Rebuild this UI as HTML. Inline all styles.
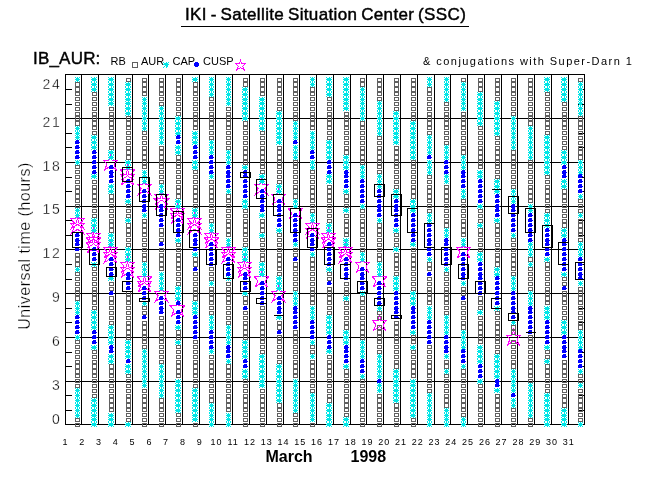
<!DOCTYPE html>
<html><head><meta charset="utf-8"><style>
html,body{margin:0;padding:0;background:#fff;width:650px;height:500px;overflow:hidden}
svg{display:block}
text{font-family:"Liberation Sans",sans-serif;fill:#000}
.hf{stroke:#fff;stroke-width:0.3px}
.yt{font-size:14px;letter-spacing:1.5px}
.xt{font-size:9px;letter-spacing:1px}
.lg{font-size:11px}
</style></head><body>
<svg width="650" height="500" viewBox="0 0 650 500" shape-rendering="crispEdges">
<rect width="650" height="500" fill="#fff"/>
<text x="185" y="20" style="font-size:17px;letter-spacing:0.36px;word-spacing:-1.3px;stroke:#000;stroke-width:0.45px">IKI - Satellite Situation Center (SSC)</text>
<path d="M181 26.5H469" stroke="#000"/>
<text x="33" y="63.8" style="font-size:17px;letter-spacing:0.2px;stroke:#000;stroke-width:0.4px">IB_AUR:</text>
<text x="110.5" y="64.5" class="lg">RB</text>
<text x="141" y="64.5" class="lg">AUR</text>
<text x="172.5" y="64.5" class="lg">CAP</text>
<text x="203" y="64.5" class="lg">CUSP</text>
<text x="423" y="65" class="lg" style="letter-spacing:1.45px">&amp; conjugations with Super-Darn 1</text>
<text class="hf" transform="translate(29.6,246) rotate(-90)" text-anchor="middle" style="font-size:16px;letter-spacing:0.5px">Universal time (hours)</text>
<text x="61.2" y="89.0" text-anchor="end" class="yt hf">24</text><text x="61.2" y="127.0" text-anchor="end" class="yt hf">21</text><text x="61.2" y="170.6" text-anchor="end" class="yt hf">18</text><text x="61.2" y="214.4" text-anchor="end" class="yt hf">15</text><text x="61.2" y="257.6" text-anchor="end" class="yt hf">12</text><text x="61.2" y="302.0" text-anchor="end" class="yt hf">9</text><text x="61.2" y="345.6" text-anchor="end" class="yt hf">6</text><text x="61.2" y="389.6" text-anchor="end" class="yt hf">3</text><text x="61.2" y="424.4" text-anchor="end" class="yt hf">0</text>
<text x="65.5" y="445" text-anchor="middle" class="xt">1</text><text x="82.3" y="445" text-anchor="middle" class="xt">2</text><text x="99.0" y="445" text-anchor="middle" class="xt">3</text><text x="115.8" y="445" text-anchor="middle" class="xt">4</text><text x="132.6" y="445" text-anchor="middle" class="xt">5</text><text x="149.4" y="445" text-anchor="middle" class="xt">6</text><text x="166.1" y="445" text-anchor="middle" class="xt">7</text><text x="182.9" y="445" text-anchor="middle" class="xt">8</text><text x="199.7" y="445" text-anchor="middle" class="xt">9</text><text x="216.5" y="445" text-anchor="middle" class="xt">10</text><text x="233.2" y="445" text-anchor="middle" class="xt">11</text><text x="250.0" y="445" text-anchor="middle" class="xt">12</text><text x="266.8" y="445" text-anchor="middle" class="xt">13</text><text x="283.6" y="445" text-anchor="middle" class="xt">14</text><text x="300.3" y="445" text-anchor="middle" class="xt">15</text><text x="317.1" y="445" text-anchor="middle" class="xt">16</text><text x="333.9" y="445" text-anchor="middle" class="xt">17</text><text x="350.7" y="445" text-anchor="middle" class="xt">18</text><text x="367.4" y="445" text-anchor="middle" class="xt">19</text><text x="384.2" y="445" text-anchor="middle" class="xt">20</text><text x="401.0" y="445" text-anchor="middle" class="xt">21</text><text x="417.8" y="445" text-anchor="middle" class="xt">22</text><text x="434.5" y="445" text-anchor="middle" class="xt">23</text><text x="451.3" y="445" text-anchor="middle" class="xt">24</text><text x="468.1" y="445" text-anchor="middle" class="xt">25</text><text x="484.9" y="445" text-anchor="middle" class="xt">26</text><text x="501.6" y="445" text-anchor="middle" class="xt">27</text><text x="518.4" y="445" text-anchor="middle" class="xt">28</text><text x="535.2" y="445" text-anchor="middle" class="xt">29</text><text x="552.0" y="445" text-anchor="middle" class="xt">30</text><text x="568.8" y="445" text-anchor="middle" class="xt">31</text>
<text x="265.5" y="461.7" style="font-size:16px;font-weight:bold">March</text>
<text x="350.5" y="461.7" style="font-size:16px;font-weight:bold">1998</text>
<path d="M81.5 74V425 M98.5 74V425 M115.5 74V425 M132.5 74V425 M148.5 74V425 M165.5 74V425 M182.5 74V425 M199.5 74V425 M215.5 74V425 M232.5 74V425 M249.5 74V425 M266.5 74V425 M283.5 74V425 M299.5 74V425 M316.5 74V425 M333.5 74V425 M350.5 74V425 M366.5 74V425 M383.5 74V425 M400.5 74V425 M417.5 74V425 M434.5 74V425 M450.5 74V425 M467.5 74V425 M484.5 74V425 M501.5 74V425 M517.5 74V425 M534.5 74V425 M551.5 74V425 M568.5 74V425 M65 381.5H585 M65 337.5H585 M65 293.5H585 M65 249.5H585 M65 206.5H585 M65 162.5H585 M65 118.5H585 M65 410.5h7 M585 410.5h-7 M65 395.5h7 M585 395.5h-7 M65 366.5h7 M585 366.5h-7 M65 352.5h7 M585 352.5h-7 M65 322.5h7 M585 322.5h-7 M65 308.5h7 M585 308.5h-7 M65 279.5h7 M585 279.5h-7 M65 264.5h7 M585 264.5h-7 M65 235.5h7 M585 235.5h-7 M65 220.5h7 M585 220.5h-7 M65 191.5h7 M585 191.5h-7 M65 177.5h7 M585 177.5h-7 M65 147.5h7 M585 147.5h-7 M65 133.5h7 M585 133.5h-7 M65 104.5h7 M585 104.5h-7 M65 89.5h7 M585 89.5h-7" stroke="#000" fill="none"/>
<rect x="65.5" y="74.5" width="519" height="350" fill="none" stroke="#000"/>
<path d="M77.50 213.43 L79.00 218.43 L84.50 218.43 L81.00 222.63 L83.50 228.43 L77.50 224.43 L71.50 228.43 L74.00 222.63 L70.50 218.43 L76.00 218.43Z M77.50 218.29 L79.00 223.29 L84.50 223.29 L81.00 227.49 L83.50 233.29 L77.50 229.29 L71.50 233.29 L74.00 227.49 L70.50 223.29 L76.00 223.29Z M93.50 228.02 L95.00 233.02 L100.50 233.02 L97.00 237.22 L99.50 243.02 L93.50 239.02 L87.50 243.02 L90.00 237.22 L86.50 233.02 L92.00 233.02Z M93.50 232.88 L95.00 237.88 L100.50 237.88 L97.00 242.08 L99.50 247.88 L93.50 243.88 L87.50 247.88 L90.00 242.08 L86.50 237.88 L92.00 237.88Z M93.50 237.74 L95.00 242.74 L100.50 242.74 L97.00 246.94 L99.50 252.74 L93.50 248.74 L87.50 252.74 L90.00 246.94 L86.50 242.74 L92.00 242.74Z M110.50 155.10 L112.00 160.10 L117.50 160.10 L114.00 164.30 L116.50 170.10 L110.50 166.10 L104.50 170.10 L107.00 164.30 L103.50 160.10 L109.00 160.10Z M110.50 242.60 L112.00 247.60 L117.50 247.60 L114.00 251.80 L116.50 257.60 L110.50 253.60 L104.50 257.60 L107.00 251.80 L103.50 247.60 L109.00 247.60Z M110.50 247.46 L112.00 252.46 L117.50 252.46 L114.00 256.66 L116.50 262.46 L110.50 258.46 L104.50 262.46 L107.00 256.66 L103.50 252.46 L109.00 252.46Z M127.50 164.82 L129.00 169.82 L134.50 169.82 L131.00 174.02 L133.50 179.82 L127.50 175.82 L121.50 179.82 L124.00 174.02 L120.50 169.82 L126.00 169.82Z M127.50 169.68 L129.00 174.68 L134.50 174.68 L131.00 178.88 L133.50 184.68 L127.50 180.68 L121.50 184.68 L124.00 178.88 L120.50 174.68 L126.00 174.68Z M127.50 257.18 L129.00 262.18 L134.50 262.18 L131.00 266.38 L133.50 272.18 L127.50 268.18 L121.50 272.18 L124.00 266.38 L120.50 262.18 L126.00 262.18Z M127.50 262.04 L129.00 267.04 L134.50 267.04 L131.00 271.24 L133.50 277.04 L127.50 273.04 L121.50 277.04 L124.00 271.24 L120.50 267.04 L126.00 267.04Z M144.50 179.41 L146.00 184.41 L151.50 184.41 L148.00 188.61 L150.50 194.41 L144.50 190.41 L138.50 194.41 L141.00 188.61 L137.50 184.41 L143.00 184.41Z M144.50 271.77 L146.00 276.77 L151.50 276.77 L148.00 280.97 L150.50 286.77 L144.50 282.77 L138.50 286.77 L141.00 280.97 L137.50 276.77 L143.00 276.77Z M144.50 276.63 L146.00 281.63 L151.50 281.63 L148.00 285.83 L150.50 291.63 L144.50 287.63 L138.50 291.63 L141.00 285.83 L137.50 281.63 L143.00 281.63Z M161.50 189.13 L163.00 194.13 L168.50 194.13 L165.00 198.33 L167.50 204.13 L161.50 200.13 L155.50 204.13 L158.00 198.33 L154.50 194.13 L160.00 194.13Z M161.50 193.99 L163.00 198.99 L168.50 198.99 L165.00 203.19 L167.50 208.99 L161.50 204.99 L155.50 208.99 L158.00 203.19 L154.50 198.99 L160.00 198.99Z M161.50 286.35 L163.00 291.35 L168.50 291.35 L165.00 295.55 L167.50 301.35 L161.50 297.35 L155.50 301.35 L158.00 295.55 L154.50 291.35 L160.00 291.35Z M177.50 203.71 L179.00 208.71 L184.50 208.71 L181.00 212.91 L183.50 218.71 L177.50 214.71 L171.50 218.71 L174.00 212.91 L170.50 208.71 L176.00 208.71Z M177.50 208.57 L179.00 213.57 L184.50 213.57 L181.00 217.77 L183.50 223.57 L177.50 219.57 L171.50 223.57 L174.00 217.77 L170.50 213.57 L176.00 213.57Z M177.50 300.93 L179.00 305.93 L184.50 305.93 L181.00 310.13 L183.50 315.93 L177.50 311.93 L171.50 315.93 L174.00 310.13 L170.50 305.93 L176.00 305.93Z M194.50 213.43 L196.00 218.43 L201.50 218.43 L198.00 222.63 L200.50 228.43 L194.50 224.43 L188.50 228.43 L191.00 222.63 L187.50 218.43 L193.00 218.43Z M194.50 218.29 L196.00 223.29 L201.50 223.29 L198.00 227.49 L200.50 233.29 L194.50 229.29 L188.50 233.29 L191.00 227.49 L187.50 223.29 L193.00 223.29Z M211.50 228.02 L213.00 233.02 L218.50 233.02 L215.00 237.22 L217.50 243.02 L211.50 239.02 L205.50 243.02 L208.00 237.22 L204.50 233.02 L210.00 233.02Z M211.50 232.88 L213.00 237.88 L218.50 237.88 L215.00 242.08 L217.50 247.88 L211.50 243.88 L205.50 247.88 L208.00 242.08 L204.50 237.88 L210.00 237.88Z M228.50 242.60 L230.00 247.60 L235.50 247.60 L232.00 251.80 L234.50 257.60 L228.50 253.60 L222.50 257.60 L225.00 251.80 L221.50 247.60 L227.00 247.60Z M228.50 247.46 L230.00 252.46 L235.50 252.46 L232.00 256.66 L234.50 262.46 L228.50 258.46 L222.50 262.46 L225.00 256.66 L221.50 252.46 L227.00 252.46Z M244.50 257.18 L246.00 262.18 L251.50 262.18 L248.00 266.38 L250.50 272.18 L244.50 268.18 L238.50 272.18 L241.00 266.38 L237.50 262.18 L243.00 262.18Z M244.50 262.04 L246.00 267.04 L251.50 267.04 L248.00 271.24 L250.50 277.04 L244.50 273.04 L238.50 277.04 L241.00 271.24 L237.50 267.04 L243.00 267.04Z M261.50 179.41 L263.00 184.41 L268.50 184.41 L265.00 188.61 L267.50 194.41 L261.50 190.41 L255.50 194.41 L258.00 188.61 L254.50 184.41 L260.00 184.41Z M261.50 271.77 L263.00 276.77 L268.50 276.77 L265.00 280.97 L267.50 286.77 L261.50 282.77 L255.50 286.77 L258.00 280.97 L254.50 276.77 L260.00 276.77Z M278.50 189.13 L280.00 194.13 L285.50 194.13 L282.00 198.33 L284.50 204.13 L278.50 200.13 L272.50 204.13 L275.00 198.33 L271.50 194.13 L277.00 194.13Z M278.50 286.35 L280.00 291.35 L285.50 291.35 L282.00 295.55 L284.50 301.35 L278.50 297.35 L272.50 301.35 L275.00 295.55 L271.50 291.35 L277.00 291.35Z M295.50 203.71 L297.00 208.71 L302.50 208.71 L299.00 212.91 L301.50 218.71 L295.50 214.71 L289.50 218.71 L292.00 212.91 L288.50 208.71 L294.00 208.71Z M312.50 218.29 L314.00 223.29 L319.50 223.29 L316.00 227.49 L318.50 233.29 L312.50 229.29 L306.50 233.29 L309.00 227.49 L305.50 223.29 L311.00 223.29Z M312.50 223.16 L314.00 228.16 L319.50 228.16 L316.00 232.36 L318.50 238.16 L312.50 234.16 L306.50 238.16 L309.00 232.36 L305.50 228.16 L311.00 228.16Z M328.50 228.02 L330.00 233.02 L335.50 233.02 L332.00 237.22 L334.50 243.02 L328.50 239.02 L322.50 243.02 L325.00 237.22 L321.50 233.02 L327.00 233.02Z M328.50 232.88 L330.00 237.88 L335.50 237.88 L332.00 242.08 L334.50 247.88 L328.50 243.88 L322.50 247.88 L325.00 242.08 L321.50 237.88 L327.00 237.88Z M345.50 242.60 L347.00 247.60 L352.50 247.60 L349.00 251.80 L351.50 257.60 L345.50 253.60 L339.50 257.60 L342.00 251.80 L338.50 247.60 L344.00 247.60Z M345.50 247.46 L347.00 252.46 L352.50 252.46 L349.00 256.66 L351.50 262.46 L345.50 258.46 L339.50 262.46 L342.00 256.66 L338.50 252.46 L344.00 252.46Z M362.50 257.18 L364.00 262.18 L369.50 262.18 L366.00 266.38 L368.50 272.18 L362.50 268.18 L356.50 272.18 L359.00 266.38 L355.50 262.18 L361.00 262.18Z M379.50 271.77 L381.00 276.77 L386.50 276.77 L383.00 280.97 L385.50 286.77 L379.50 282.77 L373.50 286.77 L376.00 280.97 L372.50 276.77 L378.00 276.77Z M379.50 315.52 L381.00 320.52 L386.50 320.52 L383.00 324.72 L385.50 330.52 L379.50 326.52 L373.50 330.52 L376.00 324.72 L372.50 320.52 L378.00 320.52Z M463.50 242.60 L465.00 247.60 L470.50 247.60 L467.00 251.80 L469.50 257.60 L463.50 253.60 L457.50 257.60 L460.00 251.80 L456.50 247.60 L462.00 247.60Z M513.50 330.10 L515.00 335.10 L520.50 335.10 L517.00 339.30 L519.50 345.10 L513.50 341.10 L507.50 345.10 L510.00 339.30 L506.50 335.10 L512.00 335.10Z" fill="none" stroke="#ff00ff" stroke-width="1" shape-rendering="crispEdges"/><path d="M75.5 423.5h4v3h-4zM75.5 418.5h4v3h-4zM75.5 384.5h4v3h-4zM75.5 379.5h4v3h-4zM75.5 374.5h4v3h-4zM75.5 369.5h4v4h-4zM75.5 364.5h4v4h-4zM75.5 360.5h4v3h-4zM75.5 355.5h4v3h-4zM75.5 350.5h4v3h-4zM75.5 345.5h4v3h-4zM75.5 340.5h4v3h-4zM75.5 296.5h4v4h-4zM75.5 291.5h4v4h-4zM75.5 287.5h4v3h-4zM75.5 282.5h4v3h-4zM75.5 277.5h4v3h-4zM75.5 272.5h4v3h-4zM75.5 262.5h4v4h-4zM75.5 257.5h4v4h-4zM75.5 253.5h4v3h-4zM75.5 204.5h4v3h-4zM75.5 199.5h4v3h-4zM75.5 194.5h4v4h-4zM75.5 189.5h4v4h-4zM75.5 185.5h4v3h-4zM75.5 180.5h4v3h-4zM75.5 175.5h4v3h-4zM75.5 170.5h4v3h-4zM75.5 165.5h4v3h-4zM75.5 121.5h4v4h-4zM75.5 116.5h4v4h-4zM75.5 112.5h4v3h-4zM75.5 107.5h4v3h-4zM75.5 102.5h4v3h-4zM75.5 97.5h4v3h-4zM75.5 92.5h4v3h-4zM75.5 87.5h4v4h-4zM75.5 82.5h4v4h-4zM92.5 394.5h4v3h-4zM92.5 389.5h4v3h-4zM92.5 384.5h4v3h-4zM92.5 379.5h4v3h-4zM92.5 374.5h4v3h-4zM92.5 369.5h4v4h-4zM92.5 364.5h4v4h-4zM92.5 360.5h4v3h-4zM92.5 355.5h4v3h-4zM92.5 350.5h4v3h-4zM92.5 306.5h4v3h-4zM92.5 301.5h4v3h-4zM92.5 296.5h4v4h-4zM92.5 291.5h4v4h-4zM92.5 287.5h4v3h-4zM92.5 282.5h4v3h-4zM92.5 277.5h4v3h-4zM92.5 272.5h4v3h-4zM92.5 267.5h4v3h-4zM92.5 214.5h4v3h-4zM92.5 209.5h4v3h-4zM92.5 204.5h4v3h-4zM92.5 199.5h4v3h-4zM92.5 194.5h4v4h-4zM92.5 189.5h4v4h-4zM92.5 185.5h4v3h-4zM92.5 180.5h4v3h-4zM92.5 131.5h4v3h-4zM92.5 126.5h4v3h-4zM92.5 121.5h4v4h-4zM92.5 116.5h4v4h-4zM92.5 112.5h4v3h-4zM92.5 107.5h4v3h-4zM92.5 102.5h4v3h-4zM92.5 97.5h4v3h-4zM92.5 92.5h4v3h-4zM109.5 408.5h4v3h-4zM109.5 403.5h4v4h-4zM109.5 398.5h4v4h-4zM109.5 394.5h4v3h-4zM109.5 389.5h4v3h-4zM109.5 384.5h4v3h-4zM109.5 379.5h4v3h-4zM109.5 374.5h4v3h-4zM109.5 369.5h4v4h-4zM109.5 364.5h4v4h-4zM109.5 321.5h4v3h-4zM109.5 316.5h4v3h-4zM109.5 311.5h4v3h-4zM109.5 306.5h4v3h-4zM109.5 301.5h4v3h-4zM109.5 296.5h4v4h-4zM109.5 287.5h4v3h-4zM109.5 282.5h4v3h-4zM109.5 228.5h4v4h-4zM109.5 223.5h4v4h-4zM109.5 219.5h4v3h-4zM109.5 214.5h4v3h-4zM109.5 209.5h4v3h-4zM109.5 204.5h4v3h-4zM109.5 199.5h4v3h-4zM109.5 194.5h4v4h-4zM109.5 146.5h4v3h-4zM109.5 141.5h4v3h-4zM109.5 136.5h4v3h-4zM109.5 131.5h4v3h-4zM109.5 126.5h4v3h-4zM109.5 121.5h4v4h-4zM109.5 116.5h4v4h-4zM109.5 112.5h4v3h-4zM109.5 107.5h4v3h-4zM126.5 418.5h4v3h-4zM126.5 413.5h4v3h-4zM126.5 408.5h4v3h-4zM126.5 403.5h4v4h-4zM126.5 398.5h4v4h-4zM126.5 394.5h4v3h-4zM126.5 389.5h4v3h-4zM126.5 384.5h4v3h-4zM126.5 379.5h4v3h-4zM126.5 374.5h4v3h-4zM126.5 335.5h4v4h-4zM126.5 330.5h4v4h-4zM126.5 325.5h4v4h-4zM126.5 321.5h4v3h-4zM126.5 316.5h4v3h-4zM126.5 311.5h4v3h-4zM126.5 306.5h4v3h-4zM126.5 301.5h4v3h-4zM126.5 296.5h4v4h-4zM126.5 291.5h4v4h-4zM126.5 243.5h4v3h-4zM126.5 238.5h4v3h-4zM126.5 233.5h4v3h-4zM126.5 228.5h4v4h-4zM126.5 223.5h4v4h-4zM126.5 214.5h4v3h-4zM126.5 209.5h4v3h-4zM126.5 204.5h4v3h-4zM126.5 155.5h4v4h-4zM126.5 150.5h4v4h-4zM126.5 146.5h4v3h-4zM126.5 141.5h4v3h-4zM126.5 136.5h4v3h-4zM126.5 131.5h4v3h-4zM126.5 126.5h4v3h-4zM126.5 121.5h4v4h-4zM126.5 116.5h4v4h-4zM126.5 78.5h4v3h-4zM142.5 423.5h4v3h-4zM142.5 418.5h4v3h-4zM142.5 413.5h4v3h-4zM142.5 408.5h4v3h-4zM142.5 403.5h4v4h-4zM142.5 398.5h4v4h-4zM142.5 394.5h4v3h-4zM142.5 389.5h4v3h-4zM142.5 345.5h4v3h-4zM142.5 340.5h4v3h-4zM142.5 335.5h4v4h-4zM142.5 330.5h4v4h-4zM142.5 325.5h4v4h-4zM142.5 321.5h4v3h-4zM142.5 311.5h4v3h-4zM142.5 306.5h4v3h-4zM142.5 257.5h4v4h-4zM142.5 253.5h4v3h-4zM142.5 248.5h4v3h-4zM142.5 243.5h4v3h-4zM142.5 238.5h4v3h-4zM142.5 233.5h4v3h-4zM142.5 228.5h4v4h-4zM142.5 223.5h4v4h-4zM142.5 219.5h4v3h-4zM142.5 165.5h4v3h-4zM142.5 160.5h4v4h-4zM142.5 155.5h4v4h-4zM142.5 150.5h4v4h-4zM142.5 146.5h4v3h-4zM142.5 141.5h4v3h-4zM142.5 136.5h4v3h-4zM142.5 131.5h4v3h-4zM142.5 92.5h4v3h-4zM142.5 87.5h4v4h-4zM142.5 82.5h4v4h-4zM142.5 78.5h4v3h-4zM159.5 423.5h4v3h-4zM159.5 418.5h4v3h-4zM159.5 413.5h4v3h-4zM159.5 408.5h4v3h-4zM159.5 403.5h4v4h-4zM159.5 398.5h4v4h-4zM159.5 360.5h4v3h-4zM159.5 355.5h4v3h-4zM159.5 350.5h4v3h-4zM159.5 345.5h4v3h-4zM159.5 340.5h4v3h-4zM159.5 335.5h4v4h-4zM159.5 330.5h4v4h-4zM159.5 325.5h4v4h-4zM159.5 321.5h4v3h-4zM159.5 316.5h4v3h-4zM159.5 267.5h4v3h-4zM159.5 262.5h4v4h-4zM159.5 257.5h4v4h-4zM159.5 253.5h4v3h-4zM159.5 248.5h4v3h-4zM159.5 238.5h4v3h-4zM159.5 233.5h4v3h-4zM159.5 228.5h4v4h-4zM159.5 180.5h4v3h-4zM159.5 175.5h4v3h-4zM159.5 170.5h4v3h-4zM159.5 165.5h4v3h-4zM159.5 160.5h4v4h-4zM159.5 155.5h4v4h-4zM159.5 150.5h4v4h-4zM159.5 146.5h4v3h-4zM159.5 102.5h4v3h-4zM159.5 97.5h4v3h-4zM159.5 92.5h4v3h-4zM159.5 87.5h4v4h-4zM159.5 82.5h4v4h-4zM159.5 78.5h4v3h-4zM176.5 423.5h4v3h-4zM176.5 418.5h4v3h-4zM176.5 413.5h4v3h-4zM176.5 374.5h4v3h-4zM176.5 369.5h4v4h-4zM176.5 364.5h4v4h-4zM176.5 360.5h4v3h-4zM176.5 355.5h4v3h-4zM176.5 350.5h4v3h-4zM176.5 345.5h4v3h-4zM176.5 335.5h4v4h-4zM176.5 330.5h4v4h-4zM176.5 282.5h4v3h-4zM176.5 277.5h4v3h-4zM176.5 272.5h4v3h-4zM176.5 267.5h4v3h-4zM176.5 262.5h4v4h-4zM176.5 257.5h4v4h-4zM176.5 253.5h4v3h-4zM176.5 248.5h4v3h-4zM176.5 243.5h4v3h-4zM176.5 194.5h4v4h-4zM176.5 189.5h4v4h-4zM176.5 185.5h4v3h-4zM176.5 180.5h4v3h-4zM176.5 175.5h4v3h-4zM176.5 170.5h4v3h-4zM176.5 165.5h4v3h-4zM176.5 160.5h4v4h-4zM176.5 155.5h4v4h-4zM176.5 112.5h4v3h-4zM176.5 107.5h4v3h-4zM176.5 102.5h4v3h-4zM176.5 97.5h4v3h-4zM176.5 92.5h4v3h-4zM176.5 87.5h4v4h-4zM176.5 82.5h4v4h-4zM176.5 78.5h4v3h-4zM193.5 423.5h4v3h-4zM193.5 384.5h4v3h-4zM193.5 379.5h4v3h-4zM193.5 374.5h4v3h-4zM193.5 369.5h4v4h-4zM193.5 364.5h4v4h-4zM193.5 360.5h4v3h-4zM193.5 355.5h4v3h-4zM193.5 350.5h4v3h-4zM193.5 345.5h4v3h-4zM193.5 340.5h4v3h-4zM193.5 296.5h4v4h-4zM193.5 291.5h4v4h-4zM193.5 287.5h4v3h-4zM193.5 282.5h4v3h-4zM193.5 277.5h4v3h-4zM193.5 272.5h4v3h-4zM193.5 262.5h4v4h-4zM193.5 257.5h4v4h-4zM193.5 204.5h4v3h-4zM193.5 199.5h4v3h-4zM193.5 194.5h4v4h-4zM193.5 189.5h4v4h-4zM193.5 185.5h4v3h-4zM193.5 180.5h4v3h-4zM193.5 175.5h4v3h-4zM193.5 170.5h4v3h-4zM193.5 126.5h4v3h-4zM193.5 121.5h4v4h-4zM193.5 116.5h4v4h-4zM193.5 112.5h4v3h-4zM193.5 107.5h4v3h-4zM193.5 102.5h4v3h-4zM193.5 97.5h4v3h-4zM193.5 92.5h4v3h-4zM193.5 87.5h4v4h-4zM193.5 82.5h4v4h-4zM209.5 398.5h4v4h-4zM209.5 394.5h4v3h-4zM209.5 389.5h4v3h-4zM209.5 384.5h4v3h-4zM209.5 379.5h4v3h-4zM209.5 374.5h4v3h-4zM209.5 369.5h4v4h-4zM209.5 364.5h4v4h-4zM209.5 360.5h4v3h-4zM209.5 355.5h4v3h-4zM209.5 311.5h4v3h-4zM209.5 306.5h4v3h-4zM209.5 301.5h4v3h-4zM209.5 296.5h4v4h-4zM209.5 291.5h4v4h-4zM209.5 287.5h4v3h-4zM209.5 277.5h4v3h-4zM209.5 272.5h4v3h-4zM209.5 267.5h4v3h-4zM209.5 219.5h4v3h-4zM209.5 214.5h4v3h-4zM209.5 209.5h4v3h-4zM209.5 204.5h4v3h-4zM209.5 199.5h4v3h-4zM209.5 194.5h4v4h-4zM209.5 189.5h4v4h-4zM209.5 185.5h4v3h-4zM209.5 180.5h4v3h-4zM209.5 136.5h4v3h-4zM209.5 131.5h4v3h-4zM209.5 126.5h4v3h-4zM209.5 121.5h4v4h-4zM209.5 116.5h4v4h-4zM209.5 112.5h4v3h-4zM209.5 107.5h4v3h-4zM209.5 102.5h4v3h-4zM209.5 97.5h4v3h-4zM226.5 408.5h4v3h-4zM226.5 403.5h4v4h-4zM226.5 398.5h4v4h-4zM226.5 394.5h4v3h-4zM226.5 389.5h4v3h-4zM226.5 384.5h4v3h-4zM226.5 379.5h4v3h-4zM226.5 374.5h4v3h-4zM226.5 369.5h4v4h-4zM226.5 364.5h4v4h-4zM226.5 321.5h4v3h-4zM226.5 316.5h4v3h-4zM226.5 311.5h4v3h-4zM226.5 306.5h4v3h-4zM226.5 301.5h4v3h-4zM226.5 296.5h4v4h-4zM226.5 291.5h4v4h-4zM226.5 287.5h4v3h-4zM226.5 282.5h4v3h-4zM226.5 233.5h4v3h-4zM226.5 228.5h4v4h-4zM226.5 223.5h4v4h-4zM226.5 219.5h4v3h-4zM226.5 214.5h4v3h-4zM226.5 209.5h4v3h-4zM226.5 204.5h4v3h-4zM226.5 199.5h4v3h-4zM226.5 194.5h4v4h-4zM226.5 146.5h4v3h-4zM226.5 141.5h4v3h-4zM226.5 136.5h4v3h-4zM226.5 131.5h4v3h-4zM226.5 126.5h4v3h-4zM226.5 121.5h4v4h-4zM226.5 116.5h4v4h-4zM226.5 112.5h4v3h-4zM226.5 107.5h4v3h-4zM243.5 423.5h4v3h-4zM243.5 418.5h4v3h-4zM243.5 413.5h4v3h-4zM243.5 408.5h4v3h-4zM243.5 403.5h4v4h-4zM243.5 398.5h4v4h-4zM243.5 394.5h4v3h-4zM243.5 389.5h4v3h-4zM243.5 384.5h4v3h-4zM243.5 379.5h4v3h-4zM243.5 335.5h4v4h-4zM243.5 330.5h4v4h-4zM243.5 325.5h4v4h-4zM243.5 321.5h4v3h-4zM243.5 316.5h4v3h-4zM243.5 311.5h4v3h-4zM243.5 301.5h4v3h-4zM243.5 296.5h4v4h-4zM243.5 243.5h4v3h-4zM243.5 238.5h4v3h-4zM243.5 233.5h4v3h-4zM243.5 228.5h4v4h-4zM243.5 223.5h4v4h-4zM243.5 219.5h4v3h-4zM243.5 214.5h4v3h-4zM243.5 209.5h4v3h-4zM243.5 160.5h4v4h-4zM243.5 155.5h4v4h-4zM243.5 150.5h4v4h-4zM243.5 146.5h4v3h-4zM243.5 141.5h4v3h-4zM243.5 136.5h4v3h-4zM243.5 131.5h4v3h-4zM243.5 126.5h4v3h-4zM243.5 121.5h4v4h-4zM243.5 82.5h4v4h-4zM243.5 78.5h4v3h-4zM260.5 423.5h4v3h-4zM260.5 418.5h4v3h-4zM260.5 413.5h4v3h-4zM260.5 408.5h4v3h-4zM260.5 403.5h4v4h-4zM260.5 398.5h4v4h-4zM260.5 394.5h4v3h-4zM260.5 389.5h4v3h-4zM260.5 350.5h4v3h-4zM260.5 345.5h4v3h-4zM260.5 340.5h4v3h-4zM260.5 335.5h4v4h-4zM260.5 330.5h4v4h-4zM260.5 325.5h4v4h-4zM260.5 321.5h4v3h-4zM260.5 316.5h4v3h-4zM260.5 311.5h4v3h-4zM260.5 306.5h4v3h-4zM260.5 257.5h4v4h-4zM260.5 253.5h4v3h-4zM260.5 248.5h4v3h-4zM260.5 243.5h4v3h-4zM260.5 238.5h4v3h-4zM260.5 228.5h4v4h-4zM260.5 223.5h4v4h-4zM260.5 219.5h4v3h-4zM260.5 170.5h4v3h-4zM260.5 165.5h4v3h-4zM260.5 160.5h4v4h-4zM260.5 155.5h4v4h-4zM260.5 150.5h4v4h-4zM260.5 146.5h4v3h-4zM260.5 141.5h4v3h-4zM260.5 136.5h4v3h-4zM260.5 131.5h4v3h-4zM260.5 92.5h4v3h-4zM260.5 87.5h4v4h-4zM260.5 82.5h4v4h-4zM260.5 78.5h4v3h-4zM277.5 423.5h4v3h-4zM277.5 418.5h4v3h-4zM277.5 413.5h4v3h-4zM277.5 408.5h4v3h-4zM277.5 403.5h4v4h-4zM277.5 360.5h4v3h-4zM277.5 355.5h4v3h-4zM277.5 350.5h4v3h-4zM277.5 345.5h4v3h-4zM277.5 340.5h4v3h-4zM277.5 335.5h4v4h-4zM277.5 325.5h4v4h-4zM277.5 321.5h4v3h-4zM277.5 272.5h4v3h-4zM277.5 267.5h4v3h-4zM277.5 262.5h4v4h-4zM277.5 257.5h4v4h-4zM277.5 253.5h4v3h-4zM277.5 248.5h4v3h-4zM277.5 243.5h4v3h-4zM277.5 238.5h4v3h-4zM277.5 233.5h4v3h-4zM277.5 180.5h4v3h-4zM277.5 175.5h4v3h-4zM277.5 170.5h4v3h-4zM277.5 165.5h4v3h-4zM277.5 160.5h4v4h-4zM277.5 155.5h4v4h-4zM277.5 150.5h4v4h-4zM277.5 146.5h4v3h-4zM277.5 107.5h4v3h-4zM277.5 102.5h4v3h-4zM277.5 97.5h4v3h-4zM277.5 92.5h4v3h-4zM277.5 87.5h4v4h-4zM277.5 82.5h4v4h-4zM277.5 78.5h4v3h-4zM293.5 423.5h4v3h-4zM293.5 418.5h4v3h-4zM293.5 413.5h4v3h-4zM293.5 374.5h4v3h-4zM293.5 369.5h4v4h-4zM293.5 364.5h4v4h-4zM293.5 360.5h4v3h-4zM293.5 355.5h4v3h-4zM293.5 350.5h4v3h-4zM293.5 345.5h4v3h-4zM293.5 340.5h4v3h-4zM293.5 335.5h4v4h-4zM293.5 330.5h4v4h-4zM293.5 287.5h4v3h-4zM293.5 282.5h4v3h-4zM293.5 277.5h4v3h-4zM293.5 272.5h4v3h-4zM293.5 267.5h4v3h-4zM293.5 262.5h4v4h-4zM293.5 253.5h4v3h-4zM293.5 248.5h4v3h-4zM293.5 194.5h4v4h-4zM293.5 189.5h4v4h-4zM293.5 185.5h4v3h-4zM293.5 180.5h4v3h-4zM293.5 175.5h4v3h-4zM293.5 170.5h4v3h-4zM293.5 165.5h4v3h-4zM293.5 160.5h4v4h-4zM293.5 116.5h4v4h-4zM293.5 112.5h4v3h-4zM293.5 107.5h4v3h-4zM293.5 102.5h4v3h-4zM293.5 97.5h4v3h-4zM293.5 92.5h4v3h-4zM293.5 87.5h4v4h-4zM293.5 82.5h4v4h-4zM293.5 78.5h4v3h-4zM310.5 423.5h4v3h-4zM310.5 389.5h4v3h-4zM310.5 384.5h4v3h-4zM310.5 379.5h4v3h-4zM310.5 374.5h4v3h-4zM310.5 369.5h4v4h-4zM310.5 364.5h4v4h-4zM310.5 360.5h4v3h-4zM310.5 350.5h4v3h-4zM310.5 345.5h4v3h-4zM310.5 301.5h4v3h-4zM310.5 296.5h4v4h-4zM310.5 291.5h4v4h-4zM310.5 287.5h4v3h-4zM310.5 282.5h4v3h-4zM310.5 277.5h4v3h-4zM310.5 272.5h4v3h-4zM310.5 267.5h4v3h-4zM310.5 262.5h4v4h-4zM310.5 257.5h4v4h-4zM310.5 209.5h4v3h-4zM310.5 204.5h4v3h-4zM310.5 199.5h4v3h-4zM310.5 194.5h4v4h-4zM310.5 189.5h4v4h-4zM310.5 185.5h4v3h-4zM310.5 180.5h4v3h-4zM310.5 175.5h4v3h-4zM310.5 170.5h4v3h-4zM310.5 126.5h4v3h-4zM310.5 121.5h4v4h-4zM310.5 116.5h4v4h-4zM310.5 112.5h4v3h-4zM310.5 107.5h4v3h-4zM310.5 102.5h4v3h-4zM310.5 97.5h4v3h-4zM310.5 92.5h4v3h-4zM310.5 87.5h4v4h-4zM327.5 398.5h4v4h-4zM327.5 394.5h4v3h-4zM327.5 389.5h4v3h-4zM327.5 384.5h4v3h-4zM327.5 379.5h4v3h-4zM327.5 374.5h4v3h-4zM327.5 369.5h4v4h-4zM327.5 364.5h4v4h-4zM327.5 360.5h4v3h-4zM327.5 355.5h4v3h-4zM327.5 311.5h4v3h-4zM327.5 306.5h4v3h-4zM327.5 301.5h4v3h-4zM327.5 296.5h4v4h-4zM327.5 291.5h4v4h-4zM327.5 287.5h4v3h-4zM327.5 277.5h4v3h-4zM327.5 272.5h4v3h-4zM327.5 219.5h4v3h-4zM327.5 214.5h4v3h-4zM327.5 209.5h4v3h-4zM327.5 204.5h4v3h-4zM327.5 199.5h4v3h-4zM327.5 194.5h4v4h-4zM327.5 189.5h4v4h-4zM327.5 185.5h4v3h-4zM327.5 136.5h4v3h-4zM327.5 131.5h4v3h-4zM327.5 126.5h4v3h-4zM327.5 121.5h4v4h-4zM327.5 116.5h4v4h-4zM327.5 112.5h4v3h-4zM327.5 107.5h4v3h-4zM327.5 102.5h4v3h-4zM327.5 97.5h4v3h-4zM344.5 413.5h4v3h-4zM344.5 408.5h4v3h-4zM344.5 403.5h4v4h-4zM344.5 398.5h4v4h-4zM344.5 394.5h4v3h-4zM344.5 389.5h4v3h-4zM344.5 384.5h4v3h-4zM344.5 379.5h4v3h-4zM344.5 374.5h4v3h-4zM344.5 369.5h4v4h-4zM344.5 325.5h4v4h-4zM344.5 321.5h4v3h-4zM344.5 316.5h4v3h-4zM344.5 311.5h4v3h-4zM344.5 306.5h4v3h-4zM344.5 301.5h4v3h-4zM344.5 291.5h4v4h-4zM344.5 287.5h4v3h-4zM344.5 282.5h4v3h-4zM344.5 233.5h4v3h-4zM344.5 228.5h4v4h-4zM344.5 223.5h4v4h-4zM344.5 219.5h4v3h-4zM344.5 214.5h4v3h-4zM344.5 204.5h4v3h-4zM344.5 199.5h4v3h-4zM344.5 194.5h4v4h-4zM344.5 150.5h4v4h-4zM344.5 146.5h4v3h-4zM344.5 141.5h4v3h-4zM344.5 136.5h4v3h-4zM344.5 131.5h4v3h-4zM344.5 126.5h4v3h-4zM344.5 121.5h4v4h-4zM344.5 116.5h4v4h-4zM344.5 112.5h4v3h-4zM360.5 423.5h4v3h-4zM360.5 418.5h4v3h-4zM360.5 413.5h4v3h-4zM360.5 408.5h4v3h-4zM360.5 403.5h4v4h-4zM360.5 398.5h4v4h-4zM360.5 394.5h4v3h-4zM360.5 389.5h4v3h-4zM360.5 384.5h4v3h-4zM360.5 379.5h4v3h-4zM360.5 335.5h4v4h-4zM360.5 330.5h4v4h-4zM360.5 325.5h4v4h-4zM360.5 321.5h4v3h-4zM360.5 316.5h4v3h-4zM360.5 311.5h4v3h-4zM360.5 306.5h4v3h-4zM360.5 301.5h4v3h-4zM360.5 296.5h4v4h-4zM360.5 248.5h4v3h-4zM360.5 243.5h4v3h-4zM360.5 238.5h4v3h-4zM360.5 233.5h4v3h-4zM360.5 228.5h4v4h-4zM360.5 223.5h4v4h-4zM360.5 219.5h4v3h-4zM360.5 214.5h4v3h-4zM360.5 209.5h4v3h-4zM360.5 160.5h4v4h-4zM360.5 155.5h4v4h-4zM360.5 150.5h4v4h-4zM360.5 146.5h4v3h-4zM360.5 141.5h4v3h-4zM360.5 136.5h4v3h-4zM360.5 131.5h4v3h-4zM360.5 126.5h4v3h-4zM360.5 121.5h4v4h-4zM360.5 82.5h4v4h-4zM360.5 78.5h4v3h-4zM377.5 423.5h4v3h-4zM377.5 418.5h4v3h-4zM377.5 413.5h4v3h-4zM377.5 408.5h4v3h-4zM377.5 403.5h4v4h-4zM377.5 398.5h4v4h-4zM377.5 394.5h4v3h-4zM377.5 350.5h4v3h-4zM377.5 345.5h4v3h-4zM377.5 340.5h4v3h-4zM377.5 335.5h4v4h-4zM377.5 330.5h4v4h-4zM377.5 325.5h4v4h-4zM377.5 316.5h4v3h-4zM377.5 311.5h4v3h-4zM377.5 257.5h4v4h-4zM377.5 253.5h4v3h-4zM377.5 248.5h4v3h-4zM377.5 243.5h4v3h-4zM377.5 238.5h4v3h-4zM377.5 233.5h4v3h-4zM377.5 228.5h4v4h-4zM377.5 223.5h4v4h-4zM377.5 170.5h4v3h-4zM377.5 165.5h4v3h-4zM377.5 160.5h4v4h-4zM377.5 155.5h4v4h-4zM377.5 150.5h4v4h-4zM377.5 146.5h4v3h-4zM377.5 141.5h4v3h-4zM377.5 136.5h4v3h-4zM377.5 97.5h4v3h-4zM377.5 92.5h4v3h-4zM377.5 87.5h4v4h-4zM377.5 82.5h4v4h-4zM377.5 78.5h4v3h-4zM394.5 423.5h4v3h-4zM394.5 418.5h4v3h-4zM394.5 413.5h4v3h-4zM394.5 408.5h4v3h-4zM394.5 403.5h4v4h-4zM394.5 364.5h4v4h-4zM394.5 360.5h4v3h-4zM394.5 355.5h4v3h-4zM394.5 350.5h4v3h-4zM394.5 345.5h4v3h-4zM394.5 340.5h4v3h-4zM394.5 335.5h4v4h-4zM394.5 330.5h4v4h-4zM394.5 325.5h4v4h-4zM394.5 321.5h4v3h-4zM394.5 272.5h4v3h-4zM394.5 267.5h4v3h-4zM394.5 262.5h4v4h-4zM394.5 257.5h4v4h-4zM394.5 253.5h4v3h-4zM394.5 243.5h4v3h-4zM394.5 238.5h4v3h-4zM394.5 233.5h4v3h-4zM394.5 185.5h4v3h-4zM394.5 180.5h4v3h-4zM394.5 175.5h4v3h-4zM394.5 170.5h4v3h-4zM394.5 165.5h4v3h-4zM394.5 160.5h4v4h-4zM394.5 155.5h4v4h-4zM394.5 150.5h4v4h-4zM394.5 146.5h4v3h-4zM394.5 107.5h4v3h-4zM394.5 102.5h4v3h-4zM394.5 97.5h4v3h-4zM394.5 92.5h4v3h-4zM394.5 87.5h4v4h-4zM394.5 82.5h4v4h-4zM394.5 78.5h4v3h-4zM411.5 423.5h4v3h-4zM411.5 418.5h4v3h-4zM411.5 374.5h4v3h-4zM411.5 369.5h4v4h-4zM411.5 364.5h4v4h-4zM411.5 360.5h4v3h-4zM411.5 355.5h4v3h-4zM411.5 350.5h4v3h-4zM411.5 340.5h4v3h-4zM411.5 335.5h4v4h-4zM411.5 287.5h4v3h-4zM411.5 282.5h4v3h-4zM411.5 277.5h4v3h-4zM411.5 272.5h4v3h-4zM411.5 267.5h4v3h-4zM411.5 262.5h4v4h-4zM411.5 257.5h4v4h-4zM411.5 253.5h4v3h-4zM411.5 248.5h4v3h-4zM411.5 194.5h4v4h-4zM411.5 189.5h4v4h-4zM411.5 185.5h4v3h-4zM411.5 180.5h4v3h-4zM411.5 175.5h4v3h-4zM411.5 170.5h4v3h-4zM411.5 165.5h4v3h-4zM411.5 160.5h4v4h-4zM411.5 116.5h4v4h-4zM411.5 112.5h4v3h-4zM411.5 107.5h4v3h-4zM411.5 102.5h4v3h-4zM411.5 97.5h4v3h-4zM411.5 92.5h4v3h-4zM411.5 87.5h4v4h-4zM411.5 82.5h4v4h-4zM411.5 78.5h4v3h-4zM427.5 389.5h4v3h-4zM427.5 384.5h4v3h-4zM427.5 379.5h4v3h-4zM427.5 374.5h4v3h-4zM427.5 369.5h4v4h-4zM427.5 364.5h4v4h-4zM427.5 360.5h4v3h-4zM427.5 355.5h4v3h-4zM427.5 350.5h4v3h-4zM427.5 345.5h4v3h-4zM427.5 301.5h4v3h-4zM427.5 296.5h4v4h-4zM427.5 291.5h4v4h-4zM427.5 287.5h4v3h-4zM427.5 282.5h4v3h-4zM427.5 277.5h4v3h-4zM427.5 267.5h4v3h-4zM427.5 262.5h4v4h-4zM427.5 209.5h4v3h-4zM427.5 204.5h4v3h-4zM427.5 199.5h4v3h-4zM427.5 194.5h4v4h-4zM427.5 189.5h4v4h-4zM427.5 185.5h4v3h-4zM427.5 180.5h4v3h-4zM427.5 175.5h4v3h-4zM427.5 131.5h4v3h-4zM427.5 126.5h4v3h-4zM427.5 121.5h4v4h-4zM427.5 116.5h4v4h-4zM427.5 112.5h4v3h-4zM427.5 107.5h4v3h-4zM427.5 102.5h4v3h-4zM427.5 97.5h4v3h-4zM427.5 92.5h4v3h-4zM427.5 87.5h4v4h-4zM444.5 403.5h4v4h-4zM444.5 398.5h4v4h-4zM444.5 394.5h4v3h-4zM444.5 389.5h4v3h-4zM444.5 384.5h4v3h-4zM444.5 379.5h4v3h-4zM444.5 374.5h4v3h-4zM444.5 364.5h4v4h-4zM444.5 360.5h4v3h-4zM444.5 311.5h4v3h-4zM444.5 306.5h4v3h-4zM444.5 301.5h4v3h-4zM444.5 296.5h4v4h-4zM444.5 291.5h4v4h-4zM444.5 287.5h4v3h-4zM444.5 282.5h4v3h-4zM444.5 277.5h4v3h-4zM444.5 272.5h4v3h-4zM444.5 223.5h4v4h-4zM444.5 219.5h4v3h-4zM444.5 214.5h4v3h-4zM444.5 209.5h4v3h-4zM444.5 204.5h4v3h-4zM444.5 199.5h4v3h-4zM444.5 194.5h4v4h-4zM444.5 189.5h4v4h-4zM444.5 185.5h4v3h-4zM444.5 141.5h4v3h-4zM444.5 136.5h4v3h-4zM444.5 131.5h4v3h-4zM444.5 126.5h4v3h-4zM444.5 121.5h4v4h-4zM444.5 116.5h4v4h-4zM444.5 112.5h4v3h-4zM444.5 107.5h4v3h-4zM444.5 102.5h4v3h-4zM461.5 413.5h4v3h-4zM461.5 408.5h4v3h-4zM461.5 403.5h4v4h-4zM461.5 398.5h4v4h-4zM461.5 394.5h4v3h-4zM461.5 389.5h4v3h-4zM461.5 384.5h4v3h-4zM461.5 379.5h4v3h-4zM461.5 374.5h4v3h-4zM461.5 369.5h4v4h-4zM461.5 325.5h4v4h-4zM461.5 321.5h4v3h-4zM461.5 316.5h4v3h-4zM461.5 311.5h4v3h-4zM461.5 306.5h4v3h-4zM461.5 301.5h4v3h-4zM461.5 291.5h4v4h-4zM461.5 287.5h4v3h-4zM461.5 233.5h4v3h-4zM461.5 228.5h4v4h-4zM461.5 223.5h4v4h-4zM461.5 219.5h4v3h-4zM461.5 214.5h4v3h-4zM461.5 209.5h4v3h-4zM461.5 204.5h4v3h-4zM461.5 199.5h4v3h-4zM461.5 150.5h4v4h-4zM461.5 146.5h4v3h-4zM461.5 141.5h4v3h-4zM461.5 136.5h4v3h-4zM461.5 131.5h4v3h-4zM461.5 126.5h4v3h-4zM461.5 121.5h4v4h-4zM461.5 116.5h4v4h-4zM461.5 112.5h4v3h-4zM461.5 78.5h4v3h-4zM478.5 423.5h4v3h-4zM478.5 418.5h4v3h-4zM478.5 413.5h4v3h-4zM478.5 408.5h4v3h-4zM478.5 403.5h4v4h-4zM478.5 398.5h4v4h-4zM478.5 394.5h4v3h-4zM478.5 389.5h4v3h-4zM478.5 384.5h4v3h-4zM478.5 340.5h4v3h-4zM478.5 335.5h4v4h-4zM478.5 330.5h4v4h-4zM478.5 325.5h4v4h-4zM478.5 321.5h4v3h-4zM478.5 316.5h4v3h-4zM478.5 306.5h4v3h-4zM478.5 301.5h4v3h-4zM478.5 296.5h4v4h-4zM478.5 248.5h4v3h-4zM478.5 243.5h4v3h-4zM478.5 238.5h4v3h-4zM478.5 233.5h4v3h-4zM478.5 228.5h4v4h-4zM478.5 219.5h4v3h-4zM478.5 214.5h4v3h-4zM478.5 209.5h4v3h-4zM478.5 165.5h4v3h-4zM478.5 160.5h4v4h-4zM478.5 155.5h4v4h-4zM478.5 150.5h4v4h-4zM478.5 146.5h4v3h-4zM478.5 141.5h4v3h-4zM478.5 136.5h4v3h-4zM478.5 131.5h4v3h-4zM478.5 126.5h4v3h-4zM478.5 87.5h4v4h-4zM478.5 82.5h4v4h-4zM478.5 78.5h4v3h-4zM495.5 423.5h4v3h-4zM495.5 418.5h4v3h-4zM495.5 413.5h4v3h-4zM495.5 408.5h4v3h-4zM495.5 403.5h4v4h-4zM495.5 398.5h4v4h-4zM495.5 394.5h4v3h-4zM495.5 350.5h4v3h-4zM495.5 345.5h4v3h-4zM495.5 340.5h4v3h-4zM495.5 335.5h4v4h-4zM495.5 330.5h4v4h-4zM495.5 325.5h4v4h-4zM495.5 321.5h4v3h-4zM495.5 316.5h4v3h-4zM495.5 311.5h4v3h-4zM495.5 262.5h4v4h-4zM495.5 257.5h4v4h-4zM495.5 253.5h4v3h-4zM495.5 248.5h4v3h-4zM495.5 243.5h4v3h-4zM495.5 238.5h4v3h-4zM495.5 233.5h4v3h-4zM495.5 228.5h4v4h-4zM495.5 223.5h4v4h-4zM495.5 175.5h4v3h-4zM495.5 170.5h4v3h-4zM495.5 165.5h4v3h-4zM495.5 160.5h4v4h-4zM495.5 155.5h4v4h-4zM495.5 150.5h4v4h-4zM495.5 146.5h4v3h-4zM495.5 141.5h4v3h-4zM495.5 136.5h4v3h-4zM495.5 97.5h4v3h-4zM495.5 92.5h4v3h-4zM495.5 87.5h4v4h-4zM495.5 82.5h4v4h-4zM495.5 78.5h4v3h-4zM511.5 423.5h4v3h-4zM511.5 418.5h4v3h-4zM511.5 413.5h4v3h-4zM511.5 408.5h4v3h-4zM511.5 364.5h4v4h-4zM511.5 360.5h4v3h-4zM511.5 355.5h4v3h-4zM511.5 350.5h4v3h-4zM511.5 345.5h4v3h-4zM511.5 340.5h4v3h-4zM511.5 330.5h4v4h-4zM511.5 325.5h4v4h-4zM511.5 272.5h4v3h-4zM511.5 267.5h4v3h-4zM511.5 262.5h4v4h-4zM511.5 257.5h4v4h-4zM511.5 253.5h4v3h-4zM511.5 248.5h4v3h-4zM511.5 243.5h4v3h-4zM511.5 238.5h4v3h-4zM511.5 185.5h4v3h-4zM511.5 180.5h4v3h-4zM511.5 175.5h4v3h-4zM511.5 170.5h4v3h-4zM511.5 165.5h4v3h-4zM511.5 160.5h4v4h-4zM511.5 155.5h4v4h-4zM511.5 150.5h4v4h-4zM511.5 112.5h4v3h-4zM511.5 107.5h4v3h-4zM511.5 102.5h4v3h-4zM511.5 97.5h4v3h-4zM511.5 92.5h4v3h-4zM511.5 87.5h4v4h-4zM511.5 82.5h4v4h-4zM511.5 78.5h4v3h-4zM528.5 423.5h4v3h-4zM528.5 418.5h4v3h-4zM528.5 379.5h4v3h-4zM528.5 374.5h4v3h-4zM528.5 369.5h4v4h-4zM528.5 364.5h4v4h-4zM528.5 360.5h4v3h-4zM528.5 355.5h4v3h-4zM528.5 350.5h4v3h-4zM528.5 345.5h4v3h-4zM528.5 340.5h4v3h-4zM528.5 335.5h4v4h-4zM528.5 287.5h4v3h-4zM528.5 282.5h4v3h-4zM528.5 277.5h4v3h-4zM528.5 272.5h4v3h-4zM528.5 267.5h4v3h-4zM528.5 257.5h4v4h-4zM528.5 199.5h4v3h-4zM528.5 194.5h4v4h-4zM528.5 189.5h4v4h-4zM528.5 185.5h4v3h-4zM528.5 180.5h4v3h-4zM528.5 175.5h4v3h-4zM528.5 170.5h4v3h-4zM528.5 165.5h4v3h-4zM528.5 160.5h4v4h-4zM528.5 121.5h4v4h-4zM528.5 116.5h4v4h-4zM528.5 112.5h4v3h-4zM528.5 107.5h4v3h-4zM528.5 102.5h4v3h-4zM528.5 97.5h4v3h-4zM528.5 92.5h4v3h-4zM528.5 87.5h4v4h-4zM528.5 82.5h4v4h-4zM528.5 78.5h4v3h-4zM545.5 389.5h4v3h-4zM545.5 384.5h4v3h-4zM545.5 379.5h4v3h-4zM545.5 374.5h4v3h-4zM545.5 369.5h4v4h-4zM545.5 364.5h4v4h-4zM545.5 355.5h4v3h-4zM545.5 350.5h4v3h-4zM545.5 301.5h4v3h-4zM545.5 296.5h4v4h-4zM545.5 291.5h4v4h-4zM545.5 287.5h4v3h-4zM545.5 282.5h4v3h-4zM545.5 277.5h4v3h-4zM545.5 272.5h4v3h-4zM545.5 267.5h4v3h-4zM545.5 262.5h4v4h-4zM545.5 209.5h4v3h-4zM545.5 204.5h4v3h-4zM545.5 199.5h4v3h-4zM545.5 194.5h4v4h-4zM545.5 189.5h4v4h-4zM545.5 185.5h4v3h-4zM545.5 180.5h4v3h-4zM545.5 175.5h4v3h-4zM545.5 131.5h4v3h-4zM545.5 126.5h4v3h-4zM545.5 121.5h4v4h-4zM545.5 116.5h4v4h-4zM545.5 112.5h4v3h-4zM545.5 107.5h4v3h-4zM545.5 102.5h4v3h-4zM545.5 97.5h4v3h-4zM545.5 92.5h4v3h-4zM562.5 403.5h4v4h-4zM562.5 398.5h4v4h-4zM562.5 394.5h4v3h-4zM562.5 389.5h4v3h-4zM562.5 384.5h4v3h-4zM562.5 379.5h4v3h-4zM562.5 374.5h4v3h-4zM562.5 369.5h4v4h-4zM562.5 364.5h4v4h-4zM562.5 360.5h4v3h-4zM562.5 316.5h4v3h-4zM562.5 311.5h4v3h-4zM562.5 306.5h4v3h-4zM562.5 301.5h4v3h-4zM562.5 296.5h4v4h-4zM562.5 291.5h4v4h-4zM562.5 282.5h4v3h-4zM562.5 277.5h4v3h-4zM562.5 223.5h4v4h-4zM562.5 219.5h4v3h-4zM562.5 214.5h4v3h-4zM562.5 209.5h4v3h-4zM562.5 204.5h4v3h-4zM562.5 199.5h4v3h-4zM562.5 194.5h4v4h-4zM562.5 189.5h4v4h-4zM562.5 146.5h4v3h-4zM562.5 141.5h4v3h-4zM562.5 136.5h4v3h-4zM562.5 131.5h4v3h-4zM562.5 126.5h4v3h-4zM562.5 121.5h4v4h-4zM562.5 116.5h4v4h-4zM562.5 112.5h4v3h-4zM562.5 107.5h4v3h-4zM562.5 102.5h4v3h-4zM578.5 418.5h4v3h-4zM578.5 413.5h4v3h-4zM578.5 408.5h4v3h-4zM578.5 403.5h4v4h-4zM578.5 398.5h4v4h-4zM578.5 394.5h4v3h-4zM578.5 389.5h4v3h-4zM578.5 379.5h4v3h-4zM578.5 374.5h4v3h-4zM578.5 325.5h4v4h-4zM578.5 321.5h4v3h-4zM578.5 316.5h4v3h-4zM578.5 311.5h4v3h-4zM578.5 306.5h4v3h-4zM578.5 301.5h4v3h-4zM578.5 296.5h4v4h-4zM578.5 291.5h4v4h-4zM578.5 287.5h4v3h-4zM578.5 238.5h4v3h-4zM578.5 233.5h4v3h-4zM578.5 228.5h4v4h-4zM578.5 223.5h4v4h-4zM578.5 219.5h4v3h-4zM578.5 209.5h4v3h-4zM578.5 204.5h4v3h-4zM578.5 199.5h4v3h-4zM578.5 155.5h4v4h-4zM578.5 150.5h4v4h-4zM578.5 146.5h4v3h-4zM578.5 141.5h4v3h-4zM578.5 136.5h4v3h-4zM578.5 131.5h4v3h-4zM578.5 126.5h4v3h-4zM578.5 121.5h4v4h-4zM578.5 116.5h4v4h-4zM578.5 78.5h4v3h-4z" fill="none" stroke="#606060"/><path d="M75 413h1v1h-1zm2 0h1v1h-1zm2 0h1v1h-1zm-3 1h3v1h-3zm-1 1h5v1h-5zm1 1h3v1h-3zm-1 1h1v1h-1zm2 0h1v1h-1zm2 0h1v1h-1zM75 408h1v1h-1zm2 0h1v1h-1zm2 0h1v1h-1zm-3 1h3v1h-3zm-1 1h5v1h-5zm1 1h3v1h-3zm-1 1h1v1h-1zm2 0h1v1h-1zm2 0h1v1h-1zM75 403h1v1h-1zm2 0h1v1h-1zm2 0h1v1h-1zm-3 1h3v1h-3zm-1 1h5v1h-5zm1 1h3v1h-3zm-1 1h1v1h-1zm2 0h1v1h-1zm2 0h1v1h-1zM75 398h1v1h-1zm2 0h1v1h-1zm2 0h1v1h-1zm-3 1h3v1h-3zm-1 1h5v1h-5zm1 1h3v1h-3zm-1 1h1v1h-1zm2 0h1v1h-1zm2 0h1v1h-1zM75 393h1v1h-1zm2 0h1v1h-1zm2 0h1v1h-1zm-3 1h3v1h-3zm-1 1h5v1h-5zm1 1h3v1h-3zm-1 1h1v1h-1zm2 0h1v1h-1zm2 0h1v1h-1zM75 388h1v1h-1zm2 0h1v1h-1zm2 0h1v1h-1zm-3 1h3v1h-3zm-1 1h5v1h-5zm1 1h3v1h-3zm-1 1h1v1h-1zm2 0h1v1h-1zm2 0h1v1h-1zM75 335h1v1h-1zm2 0h1v1h-1zm2 0h1v1h-1zm-3 1h3v1h-3zm-1 1h5v1h-5zm1 1h3v1h-3zm-1 1h1v1h-1zm2 0h1v1h-1zm2 0h1v1h-1zM75 310h1v1h-1zm2 0h1v1h-1zm2 0h1v1h-1zm-3 1h3v1h-3zm-1 1h5v1h-5zm1 1h3v1h-3zm-1 1h1v1h-1zm2 0h1v1h-1zm2 0h1v1h-1zM75 306h1v1h-1zm2 0h1v1h-1zm2 0h1v1h-1zm-3 1h3v1h-3zm-1 1h5v1h-5zm1 1h3v1h-3zm-1 1h1v1h-1zm2 0h1v1h-1zm2 0h1v1h-1zM75 301h1v1h-1zm2 0h1v1h-1zm2 0h1v1h-1zm-3 1h3v1h-3zm-1 1h5v1h-5zm1 1h3v1h-3zm-1 1h1v1h-1zm2 0h1v1h-1zm2 0h1v1h-1zM75 267h1v1h-1zm2 0h1v1h-1zm2 0h1v1h-1zm-3 1h3v1h-3zm-1 1h5v1h-5zm1 1h3v1h-3zm-1 1h1v1h-1zm2 0h1v1h-1zm2 0h1v1h-1zM75 213h1v1h-1zm2 0h1v1h-1zm2 0h1v1h-1zm-3 1h3v1h-3zm-1 1h5v1h-5zm1 1h3v1h-3zm-1 1h1v1h-1zm2 0h1v1h-1zm2 0h1v1h-1zM75 208h1v1h-1zm2 0h1v1h-1zm2 0h1v1h-1zm-3 1h3v1h-3zm-1 1h5v1h-5zm1 1h3v1h-3zm-1 1h1v1h-1zm2 0h1v1h-1zm2 0h1v1h-1zM75 160h1v1h-1zm2 0h1v1h-1zm2 0h1v1h-1zm-3 1h3v1h-3zm-1 1h5v1h-5zm1 1h3v1h-3zm-1 1h1v1h-1zm2 0h1v1h-1zm2 0h1v1h-1zM75 135h1v1h-1zm2 0h1v1h-1zm2 0h1v1h-1zm-3 1h3v1h-3zm-1 1h5v1h-5zm1 1h3v1h-3zm-1 1h1v1h-1zm2 0h1v1h-1zm2 0h1v1h-1zM75 131h1v1h-1zm2 0h1v1h-1zm2 0h1v1h-1zm-3 1h3v1h-3zm-1 1h5v1h-5zm1 1h3v1h-3zm-1 1h1v1h-1zm2 0h1v1h-1zm2 0h1v1h-1zM75 126h1v1h-1zm2 0h1v1h-1zm2 0h1v1h-1zm-3 1h3v1h-3zm-1 1h5v1h-5zm1 1h3v1h-3zm-1 1h1v1h-1zm2 0h1v1h-1zm2 0h1v1h-1zM75 77h1v1h-1zm2 0h1v1h-1zm2 0h1v1h-1zm-3 1h3v1h-3zm-1 1h5v1h-5zm1 1h3v1h-3zm-1 1h1v1h-1zm2 0h1v1h-1zm2 0h1v1h-1zM91 422h1v1h-1zm3 0h1v1h-1zm2 0h1v1h-1zm-4 1h4v1h-4zm-1 1h6v1h-6zm1 1h4v1h-4zm-1 1h1v1h-1zm3 0h1v1h-1zm2 0h1v1h-1zM91 417h1v1h-1zm3 0h1v1h-1zm2 0h1v1h-1zm-4 1h4v1h-4zm-1 1h6v1h-6zm1 1h4v1h-4zm-1 1h1v1h-1zm3 0h1v1h-1zm2 0h1v1h-1zM91 413h1v1h-1zm3 0h1v1h-1zm2 0h1v1h-1zm-4 1h4v1h-4zm-1 1h6v1h-6zm1 1h4v1h-4zm-1 1h1v1h-1zm3 0h1v1h-1zm2 0h1v1h-1zM91 408h1v1h-1zm3 0h1v1h-1zm2 0h1v1h-1zm-4 1h4v1h-4zm-1 1h6v1h-6zm1 1h4v1h-4zm-1 1h1v1h-1zm3 0h1v1h-1zm2 0h1v1h-1zM91 403h1v1h-1zm3 0h1v1h-1zm2 0h1v1h-1zm-4 1h4v1h-4zm-1 1h6v1h-6zm1 1h4v1h-4zm-1 1h1v1h-1zm3 0h1v1h-1zm2 0h1v1h-1zM91 398h1v1h-1zm3 0h1v1h-1zm2 0h1v1h-1zm-4 1h4v1h-4zm-1 1h6v1h-6zm1 1h4v1h-4zm-1 1h1v1h-1zm3 0h1v1h-1zm2 0h1v1h-1zM91 345h1v1h-1zm3 0h1v1h-1zm2 0h1v1h-1zm-4 1h4v1h-4zm-1 1h6v1h-6zm1 1h4v1h-4zm-1 1h1v1h-1zm3 0h1v1h-1zm2 0h1v1h-1zM91 325h1v1h-1zm3 0h1v1h-1zm2 0h1v1h-1zm-4 1h4v1h-4zm-1 1h6v1h-6zm1 1h4v1h-4zm-1 1h1v1h-1zm3 0h1v1h-1zm2 0h1v1h-1zM91 320h1v1h-1zm3 0h1v1h-1zm2 0h1v1h-1zm-4 1h4v1h-4zm-1 1h6v1h-6zm1 1h4v1h-4zm-1 1h1v1h-1zm3 0h1v1h-1zm2 0h1v1h-1zM91 315h1v1h-1zm3 0h1v1h-1zm2 0h1v1h-1zm-4 1h4v1h-4zm-1 1h6v1h-6zm1 1h4v1h-4zm-1 1h1v1h-1zm3 0h1v1h-1zm2 0h1v1h-1zM91 310h1v1h-1zm3 0h1v1h-1zm2 0h1v1h-1zm-4 1h4v1h-4zm-1 1h6v1h-6zm1 1h4v1h-4zm-1 1h1v1h-1zm3 0h1v1h-1zm2 0h1v1h-1zM91 262h1v1h-1zm3 0h1v1h-1zm2 0h1v1h-1zm-4 1h4v1h-4zm-1 1h6v1h-6zm1 1h4v1h-4zm-1 1h1v1h-1zm3 0h1v1h-1zm2 0h1v1h-1zM91 228h1v1h-1zm3 0h1v1h-1zm2 0h1v1h-1zm-4 1h4v1h-4zm-1 1h6v1h-6zm1 1h4v1h-4zm-1 1h1v1h-1zm3 0h1v1h-1zm2 0h1v1h-1zM91 223h1v1h-1zm3 0h1v1h-1zm2 0h1v1h-1zm-4 1h4v1h-4zm-1 1h6v1h-6zm1 1h4v1h-4zm-1 1h1v1h-1zm3 0h1v1h-1zm2 0h1v1h-1zM91 218h1v1h-1zm3 0h1v1h-1zm2 0h1v1h-1zm-4 1h4v1h-4zm-1 1h6v1h-6zm1 1h4v1h-4zm-1 1h1v1h-1zm3 0h1v1h-1zm2 0h1v1h-1zM91 174h1v1h-1zm3 0h1v1h-1zm2 0h1v1h-1zm-4 1h4v1h-4zm-1 1h6v1h-6zm1 1h4v1h-4zm-1 1h1v1h-1zm3 0h1v1h-1zm2 0h1v1h-1zM91 145h1v1h-1zm3 0h1v1h-1zm2 0h1v1h-1zm-4 1h4v1h-4zm-1 1h6v1h-6zm1 1h4v1h-4zm-1 1h1v1h-1zm3 0h1v1h-1zm2 0h1v1h-1zM91 140h1v1h-1zm3 0h1v1h-1zm2 0h1v1h-1zm-4 1h4v1h-4zm-1 1h6v1h-6zm1 1h4v1h-4zm-1 1h1v1h-1zm3 0h1v1h-1zm2 0h1v1h-1zM91 135h1v1h-1zm3 0h1v1h-1zm2 0h1v1h-1zm-4 1h4v1h-4zm-1 1h6v1h-6zm1 1h4v1h-4zm-1 1h1v1h-1zm3 0h1v1h-1zm2 0h1v1h-1zM91 87h1v1h-1zm3 0h1v1h-1zm2 0h1v1h-1zm-4 1h4v1h-4zm-1 1h6v1h-6zm1 1h4v1h-4zm-1 1h1v1h-1zm3 0h1v1h-1zm2 0h1v1h-1zM91 82h1v1h-1zm3 0h1v1h-1zm2 0h1v1h-1zm-4 1h4v1h-4zm-1 1h6v1h-6zm1 1h4v1h-4zm-1 1h1v1h-1zm3 0h1v1h-1zm2 0h1v1h-1zM91 77h1v1h-1zm3 0h1v1h-1zm2 0h1v1h-1zm-4 1h4v1h-4zm-1 1h6v1h-6zm1 1h4v1h-4zm-1 1h1v1h-1zm3 0h1v1h-1zm2 0h1v1h-1zM108 422h1v1h-1zm3 0h1v1h-1zm2 0h1v1h-1zm-4 1h4v1h-4zm-1 1h6v1h-6zm1 1h4v1h-4zm-1 1h1v1h-1zm3 0h1v1h-1zm2 0h1v1h-1zM108 417h1v1h-1zm3 0h1v1h-1zm2 0h1v1h-1zm-4 1h4v1h-4zm-1 1h6v1h-6zm1 1h4v1h-4zm-1 1h1v1h-1zm3 0h1v1h-1zm2 0h1v1h-1zM108 413h1v1h-1zm3 0h1v1h-1zm2 0h1v1h-1zm-4 1h4v1h-4zm-1 1h6v1h-6zm1 1h4v1h-4zm-1 1h1v1h-1zm3 0h1v1h-1zm2 0h1v1h-1zM108 359h1v1h-1zm3 0h1v1h-1zm2 0h1v1h-1zm-4 1h4v1h-4zm-1 1h6v1h-6zm1 1h4v1h-4zm-1 1h1v1h-1zm3 0h1v1h-1zm2 0h1v1h-1zM108 354h1v1h-1zm3 0h1v1h-1zm2 0h1v1h-1zm-4 1h4v1h-4zm-1 1h6v1h-6zm1 1h4v1h-4zm-1 1h1v1h-1zm3 0h1v1h-1zm2 0h1v1h-1zM108 340h1v1h-1zm3 0h1v1h-1zm2 0h1v1h-1zm-4 1h4v1h-4zm-1 1h6v1h-6zm1 1h4v1h-4zm-1 1h1v1h-1zm3 0h1v1h-1zm2 0h1v1h-1zM108 335h1v1h-1zm3 0h1v1h-1zm2 0h1v1h-1zm-4 1h4v1h-4zm-1 1h6v1h-6zm1 1h4v1h-4zm-1 1h1v1h-1zm3 0h1v1h-1zm2 0h1v1h-1zM108 330h1v1h-1zm3 0h1v1h-1zm2 0h1v1h-1zm-4 1h4v1h-4zm-1 1h6v1h-6zm1 1h4v1h-4zm-1 1h1v1h-1zm3 0h1v1h-1zm2 0h1v1h-1zM108 325h1v1h-1zm3 0h1v1h-1zm2 0h1v1h-1zm-4 1h4v1h-4zm-1 1h6v1h-6zm1 1h4v1h-4zm-1 1h1v1h-1zm3 0h1v1h-1zm2 0h1v1h-1zM108 276h1v1h-1zm3 0h1v1h-1zm2 0h1v1h-1zm-4 1h4v1h-4zm-1 1h6v1h-6zm1 1h4v1h-4zm-1 1h1v1h-1zm3 0h1v1h-1zm2 0h1v1h-1zM108 242h1v1h-1zm3 0h1v1h-1zm2 0h1v1h-1zm-4 1h4v1h-4zm-1 1h6v1h-6zm1 1h4v1h-4zm-1 1h1v1h-1zm3 0h1v1h-1zm2 0h1v1h-1zM108 238h1v1h-1zm3 0h1v1h-1zm2 0h1v1h-1zm-4 1h4v1h-4zm-1 1h6v1h-6zm1 1h4v1h-4zm-1 1h1v1h-1zm3 0h1v1h-1zm2 0h1v1h-1zM108 233h1v1h-1zm3 0h1v1h-1zm2 0h1v1h-1zm-4 1h4v1h-4zm-1 1h6v1h-6zm1 1h4v1h-4zm-1 1h1v1h-1zm3 0h1v1h-1zm2 0h1v1h-1zM108 189h1v1h-1zm3 0h1v1h-1zm2 0h1v1h-1zm-4 1h4v1h-4zm-1 1h6v1h-6zm1 1h4v1h-4zm-1 1h1v1h-1zm3 0h1v1h-1zm2 0h1v1h-1zM108 184h1v1h-1zm3 0h1v1h-1zm2 0h1v1h-1zm-4 1h4v1h-4zm-1 1h6v1h-6zm1 1h4v1h-4zm-1 1h1v1h-1zm3 0h1v1h-1zm2 0h1v1h-1zM108 155h1v1h-1zm3 0h1v1h-1zm2 0h1v1h-1zm-4 1h4v1h-4zm-1 1h6v1h-6zm1 1h4v1h-4zm-1 1h1v1h-1zm3 0h1v1h-1zm2 0h1v1h-1zM108 150h1v1h-1zm3 0h1v1h-1zm2 0h1v1h-1zm-4 1h4v1h-4zm-1 1h6v1h-6zm1 1h4v1h-4zm-1 1h1v1h-1zm3 0h1v1h-1zm2 0h1v1h-1zM108 101h1v1h-1zm3 0h1v1h-1zm2 0h1v1h-1zm-4 1h4v1h-4zm-1 1h6v1h-6zm1 1h4v1h-4zm-1 1h1v1h-1zm3 0h1v1h-1zm2 0h1v1h-1zM108 97h1v1h-1zm3 0h1v1h-1zm2 0h1v1h-1zm-4 1h4v1h-4zm-1 1h6v1h-6zm1 1h4v1h-4zm-1 1h1v1h-1zm3 0h1v1h-1zm2 0h1v1h-1zM108 92h1v1h-1zm3 0h1v1h-1zm2 0h1v1h-1zm-4 1h4v1h-4zm-1 1h6v1h-6zm1 1h4v1h-4zm-1 1h1v1h-1zm3 0h1v1h-1zm2 0h1v1h-1zM108 87h1v1h-1zm3 0h1v1h-1zm2 0h1v1h-1zm-4 1h4v1h-4zm-1 1h6v1h-6zm1 1h4v1h-4zm-1 1h1v1h-1zm3 0h1v1h-1zm2 0h1v1h-1zM108 82h1v1h-1zm3 0h1v1h-1zm2 0h1v1h-1zm-4 1h4v1h-4zm-1 1h6v1h-6zm1 1h4v1h-4zm-1 1h1v1h-1zm3 0h1v1h-1zm2 0h1v1h-1zM108 77h1v1h-1zm3 0h1v1h-1zm2 0h1v1h-1zm-4 1h4v1h-4zm-1 1h6v1h-6zm1 1h4v1h-4zm-1 1h1v1h-1zm3 0h1v1h-1zm2 0h1v1h-1zM125 422h1v1h-1zm3 0h1v1h-1zm2 0h1v1h-1zm-4 1h4v1h-4zm-1 1h6v1h-6zm1 1h4v1h-4zm-1 1h1v1h-1zm3 0h1v1h-1zm2 0h1v1h-1zM125 369h1v1h-1zm3 0h1v1h-1zm2 0h1v1h-1zm-4 1h4v1h-4zm-1 1h6v1h-6zm1 1h4v1h-4zm-1 1h1v1h-1zm3 0h1v1h-1zm2 0h1v1h-1zM125 364h1v1h-1zm3 0h1v1h-1zm2 0h1v1h-1zm-4 1h4v1h-4zm-1 1h6v1h-6zm1 1h4v1h-4zm-1 1h1v1h-1zm3 0h1v1h-1zm2 0h1v1h-1zM125 354h1v1h-1zm3 0h1v1h-1zm2 0h1v1h-1zm-4 1h4v1h-4zm-1 1h6v1h-6zm1 1h4v1h-4zm-1 1h1v1h-1zm3 0h1v1h-1zm2 0h1v1h-1zM125 349h1v1h-1zm3 0h1v1h-1zm2 0h1v1h-1zm-4 1h4v1h-4zm-1 1h6v1h-6zm1 1h4v1h-4zm-1 1h1v1h-1zm3 0h1v1h-1zm2 0h1v1h-1zM125 345h1v1h-1zm3 0h1v1h-1zm2 0h1v1h-1zm-4 1h4v1h-4zm-1 1h6v1h-6zm1 1h4v1h-4zm-1 1h1v1h-1zm3 0h1v1h-1zm2 0h1v1h-1zM125 340h1v1h-1zm3 0h1v1h-1zm2 0h1v1h-1zm-4 1h4v1h-4zm-1 1h6v1h-6zm1 1h4v1h-4zm-1 1h1v1h-1zm3 0h1v1h-1zm2 0h1v1h-1zM125 257h1v1h-1zm3 0h1v1h-1zm2 0h1v1h-1zm-4 1h4v1h-4zm-1 1h6v1h-6zm1 1h4v1h-4zm-1 1h1v1h-1zm3 0h1v1h-1zm2 0h1v1h-1zM125 252h1v1h-1zm3 0h1v1h-1zm2 0h1v1h-1zm-4 1h4v1h-4zm-1 1h6v1h-6zm1 1h4v1h-4zm-1 1h1v1h-1zm3 0h1v1h-1zm2 0h1v1h-1zM125 247h1v1h-1zm3 0h1v1h-1zm2 0h1v1h-1zm-4 1h4v1h-4zm-1 1h6v1h-6zm1 1h4v1h-4zm-1 1h1v1h-1zm3 0h1v1h-1zm2 0h1v1h-1zM125 218h1v1h-1zm3 0h1v1h-1zm2 0h1v1h-1zm-4 1h4v1h-4zm-1 1h6v1h-6zm1 1h4v1h-4zm-1 1h1v1h-1zm3 0h1v1h-1zm2 0h1v1h-1zM125 199h1v1h-1zm3 0h1v1h-1zm2 0h1v1h-1zm-4 1h4v1h-4zm-1 1h6v1h-6zm1 1h4v1h-4zm-1 1h1v1h-1zm3 0h1v1h-1zm2 0h1v1h-1zM125 165h1v1h-1zm3 0h1v1h-1zm2 0h1v1h-1zm-4 1h4v1h-4zm-1 1h6v1h-6zm1 1h4v1h-4zm-1 1h1v1h-1zm3 0h1v1h-1zm2 0h1v1h-1zM125 160h1v1h-1zm3 0h1v1h-1zm2 0h1v1h-1zm-4 1h4v1h-4zm-1 1h6v1h-6zm1 1h4v1h-4zm-1 1h1v1h-1zm3 0h1v1h-1zm2 0h1v1h-1zM125 111h1v1h-1zm3 0h1v1h-1zm2 0h1v1h-1zm-4 1h4v1h-4zm-1 1h6v1h-6zm1 1h4v1h-4zm-1 1h1v1h-1zm3 0h1v1h-1zm2 0h1v1h-1zM125 106h1v1h-1zm3 0h1v1h-1zm2 0h1v1h-1zm-4 1h4v1h-4zm-1 1h6v1h-6zm1 1h4v1h-4zm-1 1h1v1h-1zm3 0h1v1h-1zm2 0h1v1h-1zM125 101h1v1h-1zm3 0h1v1h-1zm2 0h1v1h-1zm-4 1h4v1h-4zm-1 1h6v1h-6zm1 1h4v1h-4zm-1 1h1v1h-1zm3 0h1v1h-1zm2 0h1v1h-1zM125 97h1v1h-1zm3 0h1v1h-1zm2 0h1v1h-1zm-4 1h4v1h-4zm-1 1h6v1h-6zm1 1h4v1h-4zm-1 1h1v1h-1zm3 0h1v1h-1zm2 0h1v1h-1zM125 92h1v1h-1zm3 0h1v1h-1zm2 0h1v1h-1zm-4 1h4v1h-4zm-1 1h6v1h-6zm1 1h4v1h-4zm-1 1h1v1h-1zm3 0h1v1h-1zm2 0h1v1h-1zM125 87h1v1h-1zm3 0h1v1h-1zm2 0h1v1h-1zm-4 1h4v1h-4zm-1 1h6v1h-6zm1 1h4v1h-4zm-1 1h1v1h-1zm3 0h1v1h-1zm2 0h1v1h-1zM125 82h1v1h-1zm3 0h1v1h-1zm2 0h1v1h-1zm-4 1h4v1h-4zm-1 1h6v1h-6zm1 1h4v1h-4zm-1 1h1v1h-1zm3 0h1v1h-1zm2 0h1v1h-1zM142 383h1v1h-1zm2 0h1v1h-1zm2 0h1v1h-1zm-3 1h3v1h-3zm-1 1h5v1h-5zm1 1h3v1h-3zm-1 1h1v1h-1zm2 0h1v1h-1zm2 0h1v1h-1zM142 379h1v1h-1zm2 0h1v1h-1zm2 0h1v1h-1zm-3 1h3v1h-3zm-1 1h5v1h-5zm1 1h3v1h-3zm-1 1h1v1h-1zm2 0h1v1h-1zm2 0h1v1h-1zM142 374h1v1h-1zm2 0h1v1h-1zm2 0h1v1h-1zm-3 1h3v1h-3zm-1 1h5v1h-5zm1 1h3v1h-3zm-1 1h1v1h-1zm2 0h1v1h-1zm2 0h1v1h-1zM142 369h1v1h-1zm2 0h1v1h-1zm2 0h1v1h-1zm-3 1h3v1h-3zm-1 1h5v1h-5zm1 1h3v1h-3zm-1 1h1v1h-1zm2 0h1v1h-1zm2 0h1v1h-1zM142 364h1v1h-1zm2 0h1v1h-1zm2 0h1v1h-1zm-3 1h3v1h-3zm-1 1h5v1h-5zm1 1h3v1h-3zm-1 1h1v1h-1zm2 0h1v1h-1zm2 0h1v1h-1zM142 359h1v1h-1zm2 0h1v1h-1zm2 0h1v1h-1zm-3 1h3v1h-3zm-1 1h5v1h-5zm1 1h3v1h-3zm-1 1h1v1h-1zm2 0h1v1h-1zm2 0h1v1h-1zM142 354h1v1h-1zm2 0h1v1h-1zm2 0h1v1h-1zm-3 1h3v1h-3zm-1 1h5v1h-5zm1 1h3v1h-3zm-1 1h1v1h-1zm2 0h1v1h-1zm2 0h1v1h-1zM142 349h1v1h-1zm2 0h1v1h-1zm2 0h1v1h-1zm-3 1h3v1h-3zm-1 1h5v1h-5zm1 1h3v1h-3zm-1 1h1v1h-1zm2 0h1v1h-1zm2 0h1v1h-1zM142 301h1v1h-1zm2 0h1v1h-1zm2 0h1v1h-1zm-3 1h3v1h-3zm-1 1h5v1h-5zm1 1h3v1h-3zm-1 1h1v1h-1zm2 0h1v1h-1zm2 0h1v1h-1zM142 272h1v1h-1zm2 0h1v1h-1zm2 0h1v1h-1zm-3 1h3v1h-3zm-1 1h5v1h-5zm1 1h3v1h-3zm-1 1h1v1h-1zm2 0h1v1h-1zm2 0h1v1h-1zM142 267h1v1h-1zm2 0h1v1h-1zm2 0h1v1h-1zm-3 1h3v1h-3zm-1 1h5v1h-5zm1 1h3v1h-3zm-1 1h1v1h-1zm2 0h1v1h-1zm2 0h1v1h-1zM142 262h1v1h-1zm2 0h1v1h-1zm2 0h1v1h-1zm-3 1h3v1h-3zm-1 1h5v1h-5zm1 1h3v1h-3zm-1 1h1v1h-1zm2 0h1v1h-1zm2 0h1v1h-1zM142 213h1v1h-1zm2 0h1v1h-1zm2 0h1v1h-1zm-3 1h3v1h-3zm-1 1h5v1h-5zm1 1h3v1h-3zm-1 1h1v1h-1zm2 0h1v1h-1zm2 0h1v1h-1zM142 179h1v1h-1zm2 0h1v1h-1zm2 0h1v1h-1zm-3 1h3v1h-3zm-1 1h5v1h-5zm1 1h3v1h-3zm-1 1h1v1h-1zm2 0h1v1h-1zm2 0h1v1h-1zM142 174h1v1h-1zm2 0h1v1h-1zm2 0h1v1h-1zm-3 1h3v1h-3zm-1 1h5v1h-5zm1 1h3v1h-3zm-1 1h1v1h-1zm2 0h1v1h-1zm2 0h1v1h-1zM142 170h1v1h-1zm2 0h1v1h-1zm2 0h1v1h-1zm-3 1h3v1h-3zm-1 1h5v1h-5zm1 1h3v1h-3zm-1 1h1v1h-1zm2 0h1v1h-1zm2 0h1v1h-1zM142 126h1v1h-1zm2 0h1v1h-1zm2 0h1v1h-1zm-3 1h3v1h-3zm-1 1h5v1h-5zm1 1h3v1h-3zm-1 1h1v1h-1zm2 0h1v1h-1zm2 0h1v1h-1zM142 121h1v1h-1zm2 0h1v1h-1zm2 0h1v1h-1zm-3 1h3v1h-3zm-1 1h5v1h-5zm1 1h3v1h-3zm-1 1h1v1h-1zm2 0h1v1h-1zm2 0h1v1h-1zM142 116h1v1h-1zm2 0h1v1h-1zm2 0h1v1h-1zm-3 1h3v1h-3zm-1 1h5v1h-5zm1 1h3v1h-3zm-1 1h1v1h-1zm2 0h1v1h-1zm2 0h1v1h-1zM142 111h1v1h-1zm2 0h1v1h-1zm2 0h1v1h-1zm-3 1h3v1h-3zm-1 1h5v1h-5zm1 1h3v1h-3zm-1 1h1v1h-1zm2 0h1v1h-1zm2 0h1v1h-1zM142 106h1v1h-1zm2 0h1v1h-1zm2 0h1v1h-1zm-3 1h3v1h-3zm-1 1h5v1h-5zm1 1h3v1h-3zm-1 1h1v1h-1zm2 0h1v1h-1zm2 0h1v1h-1zM142 101h1v1h-1zm2 0h1v1h-1zm2 0h1v1h-1zm-3 1h3v1h-3zm-1 1h5v1h-5zm1 1h3v1h-3zm-1 1h1v1h-1zm2 0h1v1h-1zm2 0h1v1h-1zM142 97h1v1h-1zm2 0h1v1h-1zm2 0h1v1h-1zm-3 1h3v1h-3zm-1 1h5v1h-5zm1 1h3v1h-3zm-1 1h1v1h-1zm2 0h1v1h-1zm2 0h1v1h-1zM159 393h1v1h-1zm2 0h1v1h-1zm2 0h1v1h-1zm-3 1h3v1h-3zm-1 1h5v1h-5zm1 1h3v1h-3zm-1 1h1v1h-1zm2 0h1v1h-1zm2 0h1v1h-1zM159 388h1v1h-1zm2 0h1v1h-1zm2 0h1v1h-1zm-3 1h3v1h-3zm-1 1h5v1h-5zm1 1h3v1h-3zm-1 1h1v1h-1zm2 0h1v1h-1zm2 0h1v1h-1zM159 383h1v1h-1zm2 0h1v1h-1zm2 0h1v1h-1zm-3 1h3v1h-3zm-1 1h5v1h-5zm1 1h3v1h-3zm-1 1h1v1h-1zm2 0h1v1h-1zm2 0h1v1h-1zM159 379h1v1h-1zm2 0h1v1h-1zm2 0h1v1h-1zm-3 1h3v1h-3zm-1 1h5v1h-5zm1 1h3v1h-3zm-1 1h1v1h-1zm2 0h1v1h-1zm2 0h1v1h-1zM159 374h1v1h-1zm2 0h1v1h-1zm2 0h1v1h-1zm-3 1h3v1h-3zm-1 1h5v1h-5zm1 1h3v1h-3zm-1 1h1v1h-1zm2 0h1v1h-1zm2 0h1v1h-1zM159 369h1v1h-1zm2 0h1v1h-1zm2 0h1v1h-1zm-3 1h3v1h-3zm-1 1h5v1h-5zm1 1h3v1h-3zm-1 1h1v1h-1zm2 0h1v1h-1zm2 0h1v1h-1zM159 364h1v1h-1zm2 0h1v1h-1zm2 0h1v1h-1zm-3 1h3v1h-3zm-1 1h5v1h-5zm1 1h3v1h-3zm-1 1h1v1h-1zm2 0h1v1h-1zm2 0h1v1h-1zM159 286h1v1h-1zm2 0h1v1h-1zm2 0h1v1h-1zm-3 1h3v1h-3zm-1 1h5v1h-5zm1 1h3v1h-3zm-1 1h1v1h-1zm2 0h1v1h-1zm2 0h1v1h-1zM159 281h1v1h-1zm2 0h1v1h-1zm2 0h1v1h-1zm-3 1h3v1h-3zm-1 1h5v1h-5zm1 1h3v1h-3zm-1 1h1v1h-1zm2 0h1v1h-1zm2 0h1v1h-1zM159 276h1v1h-1zm2 0h1v1h-1zm2 0h1v1h-1zm-3 1h3v1h-3zm-1 1h5v1h-5zm1 1h3v1h-3zm-1 1h1v1h-1zm2 0h1v1h-1zm2 0h1v1h-1zM159 272h1v1h-1zm2 0h1v1h-1zm2 0h1v1h-1zm-3 1h3v1h-3zm-1 1h5v1h-5zm1 1h3v1h-3zm-1 1h1v1h-1zm2 0h1v1h-1zm2 0h1v1h-1zM159 189h1v1h-1zm2 0h1v1h-1zm2 0h1v1h-1zm-3 1h3v1h-3zm-1 1h5v1h-5zm1 1h3v1h-3zm-1 1h1v1h-1zm2 0h1v1h-1zm2 0h1v1h-1zM159 184h1v1h-1zm2 0h1v1h-1zm2 0h1v1h-1zm-3 1h3v1h-3zm-1 1h5v1h-5zm1 1h3v1h-3zm-1 1h1v1h-1zm2 0h1v1h-1zm2 0h1v1h-1zM159 140h1v1h-1zm2 0h1v1h-1zm2 0h1v1h-1zm-3 1h3v1h-3zm-1 1h5v1h-5zm1 1h3v1h-3zm-1 1h1v1h-1zm2 0h1v1h-1zm2 0h1v1h-1zM159 135h1v1h-1zm2 0h1v1h-1zm2 0h1v1h-1zm-3 1h3v1h-3zm-1 1h5v1h-5zm1 1h3v1h-3zm-1 1h1v1h-1zm2 0h1v1h-1zm2 0h1v1h-1zM159 131h1v1h-1zm2 0h1v1h-1zm2 0h1v1h-1zm-3 1h3v1h-3zm-1 1h5v1h-5zm1 1h3v1h-3zm-1 1h1v1h-1zm2 0h1v1h-1zm2 0h1v1h-1zM159 126h1v1h-1zm2 0h1v1h-1zm2 0h1v1h-1zm-3 1h3v1h-3zm-1 1h5v1h-5zm1 1h3v1h-3zm-1 1h1v1h-1zm2 0h1v1h-1zm2 0h1v1h-1zM159 121h1v1h-1zm2 0h1v1h-1zm2 0h1v1h-1zm-3 1h3v1h-3zm-1 1h5v1h-5zm1 1h3v1h-3zm-1 1h1v1h-1zm2 0h1v1h-1zm2 0h1v1h-1zM159 116h1v1h-1zm2 0h1v1h-1zm2 0h1v1h-1zm-3 1h3v1h-3zm-1 1h5v1h-5zm1 1h3v1h-3zm-1 1h1v1h-1zm2 0h1v1h-1zm2 0h1v1h-1zM159 111h1v1h-1zm2 0h1v1h-1zm2 0h1v1h-1zm-3 1h3v1h-3zm-1 1h5v1h-5zm1 1h3v1h-3zm-1 1h1v1h-1zm2 0h1v1h-1zm2 0h1v1h-1zM159 106h1v1h-1zm2 0h1v1h-1zm2 0h1v1h-1zm-3 1h3v1h-3zm-1 1h5v1h-5zm1 1h3v1h-3zm-1 1h1v1h-1zm2 0h1v1h-1zm2 0h1v1h-1zM175 408h1v1h-1zm3 0h1v1h-1zm2 0h1v1h-1zm-4 1h4v1h-4zm-1 1h6v1h-6zm1 1h4v1h-4zm-1 1h1v1h-1zm3 0h1v1h-1zm2 0h1v1h-1zM175 403h1v1h-1zm3 0h1v1h-1zm2 0h1v1h-1zm-4 1h4v1h-4zm-1 1h6v1h-6zm1 1h4v1h-4zm-1 1h1v1h-1zm3 0h1v1h-1zm2 0h1v1h-1zM175 398h1v1h-1zm3 0h1v1h-1zm2 0h1v1h-1zm-4 1h4v1h-4zm-1 1h6v1h-6zm1 1h4v1h-4zm-1 1h1v1h-1zm3 0h1v1h-1zm2 0h1v1h-1zM175 393h1v1h-1zm3 0h1v1h-1zm2 0h1v1h-1zm-4 1h4v1h-4zm-1 1h6v1h-6zm1 1h4v1h-4zm-1 1h1v1h-1zm3 0h1v1h-1zm2 0h1v1h-1zM175 388h1v1h-1zm3 0h1v1h-1zm2 0h1v1h-1zm-4 1h4v1h-4zm-1 1h6v1h-6zm1 1h4v1h-4zm-1 1h1v1h-1zm3 0h1v1h-1zm2 0h1v1h-1zM175 383h1v1h-1zm3 0h1v1h-1zm2 0h1v1h-1zm-4 1h4v1h-4zm-1 1h6v1h-6zm1 1h4v1h-4zm-1 1h1v1h-1zm3 0h1v1h-1zm2 0h1v1h-1zM175 379h1v1h-1zm3 0h1v1h-1zm2 0h1v1h-1zm-4 1h4v1h-4zm-1 1h6v1h-6zm1 1h4v1h-4zm-1 1h1v1h-1zm3 0h1v1h-1zm2 0h1v1h-1zM175 340h1v1h-1zm3 0h1v1h-1zm2 0h1v1h-1zm-4 1h4v1h-4zm-1 1h6v1h-6zm1 1h4v1h-4zm-1 1h1v1h-1zm3 0h1v1h-1zm2 0h1v1h-1zM175 325h1v1h-1zm3 0h1v1h-1zm2 0h1v1h-1zm-4 1h4v1h-4zm-1 1h6v1h-6zm1 1h4v1h-4zm-1 1h1v1h-1zm3 0h1v1h-1zm2 0h1v1h-1zM175 296h1v1h-1zm3 0h1v1h-1zm2 0h1v1h-1zm-4 1h4v1h-4zm-1 1h6v1h-6zm1 1h4v1h-4zm-1 1h1v1h-1zm3 0h1v1h-1zm2 0h1v1h-1zM175 291h1v1h-1zm3 0h1v1h-1zm2 0h1v1h-1zm-4 1h4v1h-4zm-1 1h6v1h-6zm1 1h4v1h-4zm-1 1h1v1h-1zm3 0h1v1h-1zm2 0h1v1h-1zM175 286h1v1h-1zm3 0h1v1h-1zm2 0h1v1h-1zm-4 1h4v1h-4zm-1 1h6v1h-6zm1 1h4v1h-4zm-1 1h1v1h-1zm3 0h1v1h-1zm2 0h1v1h-1zM175 238h1v1h-1zm3 0h1v1h-1zm2 0h1v1h-1zm-4 1h4v1h-4zm-1 1h6v1h-6zm1 1h4v1h-4zm-1 1h1v1h-1zm3 0h1v1h-1zm2 0h1v1h-1zM175 204h1v1h-1zm3 0h1v1h-1zm2 0h1v1h-1zm-4 1h4v1h-4zm-1 1h6v1h-6zm1 1h4v1h-4zm-1 1h1v1h-1zm3 0h1v1h-1zm2 0h1v1h-1zM175 199h1v1h-1zm3 0h1v1h-1zm2 0h1v1h-1zm-4 1h4v1h-4zm-1 1h6v1h-6zm1 1h4v1h-4zm-1 1h1v1h-1zm3 0h1v1h-1zm2 0h1v1h-1zM175 150h1v1h-1zm3 0h1v1h-1zm2 0h1v1h-1zm-4 1h4v1h-4zm-1 1h6v1h-6zm1 1h4v1h-4zm-1 1h1v1h-1zm3 0h1v1h-1zm2 0h1v1h-1zM175 145h1v1h-1zm3 0h1v1h-1zm2 0h1v1h-1zm-4 1h4v1h-4zm-1 1h6v1h-6zm1 1h4v1h-4zm-1 1h1v1h-1zm3 0h1v1h-1zm2 0h1v1h-1zM175 131h1v1h-1zm3 0h1v1h-1zm2 0h1v1h-1zm-4 1h4v1h-4zm-1 1h6v1h-6zm1 1h4v1h-4zm-1 1h1v1h-1zm3 0h1v1h-1zm2 0h1v1h-1zM175 126h1v1h-1zm3 0h1v1h-1zm2 0h1v1h-1zm-4 1h4v1h-4zm-1 1h6v1h-6zm1 1h4v1h-4zm-1 1h1v1h-1zm3 0h1v1h-1zm2 0h1v1h-1zM175 121h1v1h-1zm3 0h1v1h-1zm2 0h1v1h-1zm-4 1h4v1h-4zm-1 1h6v1h-6zm1 1h4v1h-4zm-1 1h1v1h-1zm3 0h1v1h-1zm2 0h1v1h-1zM175 116h1v1h-1zm3 0h1v1h-1zm2 0h1v1h-1zm-4 1h4v1h-4zm-1 1h6v1h-6zm1 1h4v1h-4zm-1 1h1v1h-1zm3 0h1v1h-1zm2 0h1v1h-1zM192 417h1v1h-1zm3 0h1v1h-1zm2 0h1v1h-1zm-4 1h4v1h-4zm-1 1h6v1h-6zm1 1h4v1h-4zm-1 1h1v1h-1zm3 0h1v1h-1zm2 0h1v1h-1zM192 413h1v1h-1zm3 0h1v1h-1zm2 0h1v1h-1zm-4 1h4v1h-4zm-1 1h6v1h-6zm1 1h4v1h-4zm-1 1h1v1h-1zm3 0h1v1h-1zm2 0h1v1h-1zM192 408h1v1h-1zm3 0h1v1h-1zm2 0h1v1h-1zm-4 1h4v1h-4zm-1 1h6v1h-6zm1 1h4v1h-4zm-1 1h1v1h-1zm3 0h1v1h-1zm2 0h1v1h-1zM192 403h1v1h-1zm3 0h1v1h-1zm2 0h1v1h-1zm-4 1h4v1h-4zm-1 1h6v1h-6zm1 1h4v1h-4zm-1 1h1v1h-1zm3 0h1v1h-1zm2 0h1v1h-1zM192 398h1v1h-1zm3 0h1v1h-1zm2 0h1v1h-1zm-4 1h4v1h-4zm-1 1h6v1h-6zm1 1h4v1h-4zm-1 1h1v1h-1zm3 0h1v1h-1zm2 0h1v1h-1zM192 393h1v1h-1zm3 0h1v1h-1zm2 0h1v1h-1zm-4 1h4v1h-4zm-1 1h6v1h-6zm1 1h4v1h-4zm-1 1h1v1h-1zm3 0h1v1h-1zm2 0h1v1h-1zM192 388h1v1h-1zm3 0h1v1h-1zm2 0h1v1h-1zm-4 1h4v1h-4zm-1 1h6v1h-6zm1 1h4v1h-4zm-1 1h1v1h-1zm3 0h1v1h-1zm2 0h1v1h-1zM192 310h1v1h-1zm3 0h1v1h-1zm2 0h1v1h-1zm-4 1h4v1h-4zm-1 1h6v1h-6zm1 1h4v1h-4zm-1 1h1v1h-1zm3 0h1v1h-1zm2 0h1v1h-1zM192 306h1v1h-1zm3 0h1v1h-1zm2 0h1v1h-1zm-4 1h4v1h-4zm-1 1h6v1h-6zm1 1h4v1h-4zm-1 1h1v1h-1zm3 0h1v1h-1zm2 0h1v1h-1zM192 301h1v1h-1zm3 0h1v1h-1zm2 0h1v1h-1zm-4 1h4v1h-4zm-1 1h6v1h-6zm1 1h4v1h-4zm-1 1h1v1h-1zm3 0h1v1h-1zm2 0h1v1h-1zM192 252h1v1h-1zm3 0h1v1h-1zm2 0h1v1h-1zm-4 1h4v1h-4zm-1 1h6v1h-6zm1 1h4v1h-4zm-1 1h1v1h-1zm3 0h1v1h-1zm2 0h1v1h-1zM192 213h1v1h-1zm3 0h1v1h-1zm2 0h1v1h-1zm-4 1h4v1h-4zm-1 1h6v1h-6zm1 1h4v1h-4zm-1 1h1v1h-1zm3 0h1v1h-1zm2 0h1v1h-1zM192 208h1v1h-1zm3 0h1v1h-1zm2 0h1v1h-1zm-4 1h4v1h-4zm-1 1h6v1h-6zm1 1h4v1h-4zm-1 1h1v1h-1zm3 0h1v1h-1zm2 0h1v1h-1zM192 165h1v1h-1zm3 0h1v1h-1zm2 0h1v1h-1zm-4 1h4v1h-4zm-1 1h6v1h-6zm1 1h4v1h-4zm-1 1h1v1h-1zm3 0h1v1h-1zm2 0h1v1h-1zM192 160h1v1h-1zm3 0h1v1h-1zm2 0h1v1h-1zm-4 1h4v1h-4zm-1 1h6v1h-6zm1 1h4v1h-4zm-1 1h1v1h-1zm3 0h1v1h-1zm2 0h1v1h-1zM192 140h1v1h-1zm3 0h1v1h-1zm2 0h1v1h-1zm-4 1h4v1h-4zm-1 1h6v1h-6zm1 1h4v1h-4zm-1 1h1v1h-1zm3 0h1v1h-1zm2 0h1v1h-1zM192 135h1v1h-1zm3 0h1v1h-1zm2 0h1v1h-1zm-4 1h4v1h-4zm-1 1h6v1h-6zm1 1h4v1h-4zm-1 1h1v1h-1zm3 0h1v1h-1zm2 0h1v1h-1zM192 131h1v1h-1zm3 0h1v1h-1zm2 0h1v1h-1zm-4 1h4v1h-4zm-1 1h6v1h-6zm1 1h4v1h-4zm-1 1h1v1h-1zm3 0h1v1h-1zm2 0h1v1h-1zM192 77h1v1h-1zm3 0h1v1h-1zm2 0h1v1h-1zm-4 1h4v1h-4zm-1 1h6v1h-6zm1 1h4v1h-4zm-1 1h1v1h-1zm3 0h1v1h-1zm2 0h1v1h-1zM209 422h1v1h-1zm2 0h1v1h-1zm2 0h1v1h-1zm-3 1h3v1h-3zm-1 1h5v1h-5zm1 1h3v1h-3zm-1 1h1v1h-1zm2 0h1v1h-1zm2 0h1v1h-1zM209 417h1v1h-1zm2 0h1v1h-1zm2 0h1v1h-1zm-3 1h3v1h-3zm-1 1h5v1h-5zm1 1h3v1h-3zm-1 1h1v1h-1zm2 0h1v1h-1zm2 0h1v1h-1zM209 413h1v1h-1zm2 0h1v1h-1zm2 0h1v1h-1zm-3 1h3v1h-3zm-1 1h5v1h-5zm1 1h3v1h-3zm-1 1h1v1h-1zm2 0h1v1h-1zm2 0h1v1h-1zM209 408h1v1h-1zm2 0h1v1h-1zm2 0h1v1h-1zm-3 1h3v1h-3zm-1 1h5v1h-5zm1 1h3v1h-3zm-1 1h1v1h-1zm2 0h1v1h-1zm2 0h1v1h-1zM209 403h1v1h-1zm2 0h1v1h-1zm2 0h1v1h-1zm-3 1h3v1h-3zm-1 1h5v1h-5zm1 1h3v1h-3zm-1 1h1v1h-1zm2 0h1v1h-1zm2 0h1v1h-1zM209 349h1v1h-1zm2 0h1v1h-1zm2 0h1v1h-1zm-3 1h3v1h-3zm-1 1h5v1h-5zm1 1h3v1h-3zm-1 1h1v1h-1zm2 0h1v1h-1zm2 0h1v1h-1zM209 325h1v1h-1zm2 0h1v1h-1zm2 0h1v1h-1zm-3 1h3v1h-3zm-1 1h5v1h-5zm1 1h3v1h-3zm-1 1h1v1h-1zm2 0h1v1h-1zm2 0h1v1h-1zM209 320h1v1h-1zm2 0h1v1h-1zm2 0h1v1h-1zm-3 1h3v1h-3zm-1 1h5v1h-5zm1 1h3v1h-3zm-1 1h1v1h-1zm2 0h1v1h-1zm2 0h1v1h-1zM209 315h1v1h-1zm2 0h1v1h-1zm2 0h1v1h-1zm-3 1h3v1h-3zm-1 1h5v1h-5zm1 1h3v1h-3zm-1 1h1v1h-1zm2 0h1v1h-1zm2 0h1v1h-1zM209 281h1v1h-1zm2 0h1v1h-1zm2 0h1v1h-1zm-3 1h3v1h-3zm-1 1h5v1h-5zm1 1h3v1h-3zm-1 1h1v1h-1zm2 0h1v1h-1zm2 0h1v1h-1zM209 228h1v1h-1zm2 0h1v1h-1zm2 0h1v1h-1zm-3 1h3v1h-3zm-1 1h5v1h-5zm1 1h3v1h-3zm-1 1h1v1h-1zm2 0h1v1h-1zm2 0h1v1h-1zM209 223h1v1h-1zm2 0h1v1h-1zm2 0h1v1h-1zm-3 1h3v1h-3zm-1 1h5v1h-5zm1 1h3v1h-3zm-1 1h1v1h-1zm2 0h1v1h-1zm2 0h1v1h-1zM209 174h1v1h-1zm2 0h1v1h-1zm2 0h1v1h-1zm-3 1h3v1h-3zm-1 1h5v1h-5zm1 1h3v1h-3zm-1 1h1v1h-1zm2 0h1v1h-1zm2 0h1v1h-1zM209 150h1v1h-1zm2 0h1v1h-1zm2 0h1v1h-1zm-3 1h3v1h-3zm-1 1h5v1h-5zm1 1h3v1h-3zm-1 1h1v1h-1zm2 0h1v1h-1zm2 0h1v1h-1zM209 145h1v1h-1zm2 0h1v1h-1zm2 0h1v1h-1zm-3 1h3v1h-3zm-1 1h5v1h-5zm1 1h3v1h-3zm-1 1h1v1h-1zm2 0h1v1h-1zm2 0h1v1h-1zM209 140h1v1h-1zm2 0h1v1h-1zm2 0h1v1h-1zm-3 1h3v1h-3zm-1 1h5v1h-5zm1 1h3v1h-3zm-1 1h1v1h-1zm2 0h1v1h-1zm2 0h1v1h-1zM209 92h1v1h-1zm2 0h1v1h-1zm2 0h1v1h-1zm-3 1h3v1h-3zm-1 1h5v1h-5zm1 1h3v1h-3zm-1 1h1v1h-1zm2 0h1v1h-1zm2 0h1v1h-1zM209 87h1v1h-1zm2 0h1v1h-1zm2 0h1v1h-1zm-3 1h3v1h-3zm-1 1h5v1h-5zm1 1h3v1h-3zm-1 1h1v1h-1zm2 0h1v1h-1zm2 0h1v1h-1zM209 82h1v1h-1zm2 0h1v1h-1zm2 0h1v1h-1zm-3 1h3v1h-3zm-1 1h5v1h-5zm1 1h3v1h-3zm-1 1h1v1h-1zm2 0h1v1h-1zm2 0h1v1h-1zM209 77h1v1h-1zm2 0h1v1h-1zm2 0h1v1h-1zm-3 1h3v1h-3zm-1 1h5v1h-5zm1 1h3v1h-3zm-1 1h1v1h-1zm2 0h1v1h-1zm2 0h1v1h-1zM226 422h1v1h-1zm2 0h1v1h-1zm2 0h1v1h-1zm-3 1h3v1h-3zm-1 1h5v1h-5zm1 1h3v1h-3zm-1 1h1v1h-1zm2 0h1v1h-1zm2 0h1v1h-1zM226 417h1v1h-1zm2 0h1v1h-1zm2 0h1v1h-1zm-3 1h3v1h-3zm-1 1h5v1h-5zm1 1h3v1h-3zm-1 1h1v1h-1zm2 0h1v1h-1zm2 0h1v1h-1zM226 413h1v1h-1zm2 0h1v1h-1zm2 0h1v1h-1zm-3 1h3v1h-3zm-1 1h5v1h-5zm1 1h3v1h-3zm-1 1h1v1h-1zm2 0h1v1h-1zm2 0h1v1h-1zM226 359h1v1h-1zm2 0h1v1h-1zm2 0h1v1h-1zm-3 1h3v1h-3zm-1 1h5v1h-5zm1 1h3v1h-3zm-1 1h1v1h-1zm2 0h1v1h-1zm2 0h1v1h-1zM226 340h1v1h-1zm2 0h1v1h-1zm2 0h1v1h-1zm-3 1h3v1h-3zm-1 1h5v1h-5zm1 1h3v1h-3zm-1 1h1v1h-1zm2 0h1v1h-1zm2 0h1v1h-1zM226 335h1v1h-1zm2 0h1v1h-1zm2 0h1v1h-1zm-3 1h3v1h-3zm-1 1h5v1h-5zm1 1h3v1h-3zm-1 1h1v1h-1zm2 0h1v1h-1zm2 0h1v1h-1zM226 330h1v1h-1zm2 0h1v1h-1zm2 0h1v1h-1zm-3 1h3v1h-3zm-1 1h5v1h-5zm1 1h3v1h-3zm-1 1h1v1h-1zm2 0h1v1h-1zm2 0h1v1h-1zM226 325h1v1h-1zm2 0h1v1h-1zm2 0h1v1h-1zm-3 1h3v1h-3zm-1 1h5v1h-5zm1 1h3v1h-3zm-1 1h1v1h-1zm2 0h1v1h-1zm2 0h1v1h-1zM226 276h1v1h-1zm2 0h1v1h-1zm2 0h1v1h-1zm-3 1h3v1h-3zm-1 1h5v1h-5zm1 1h3v1h-3zm-1 1h1v1h-1zm2 0h1v1h-1zm2 0h1v1h-1zM226 242h1v1h-1zm2 0h1v1h-1zm2 0h1v1h-1zm-3 1h3v1h-3zm-1 1h5v1h-5zm1 1h3v1h-3zm-1 1h1v1h-1zm2 0h1v1h-1zm2 0h1v1h-1zM226 238h1v1h-1zm2 0h1v1h-1zm2 0h1v1h-1zm-3 1h3v1h-3zm-1 1h5v1h-5zm1 1h3v1h-3zm-1 1h1v1h-1zm2 0h1v1h-1zm2 0h1v1h-1zM226 189h1v1h-1zm2 0h1v1h-1zm2 0h1v1h-1zm-3 1h3v1h-3zm-1 1h5v1h-5zm1 1h3v1h-3zm-1 1h1v1h-1zm2 0h1v1h-1zm2 0h1v1h-1zM226 160h1v1h-1zm2 0h1v1h-1zm2 0h1v1h-1zm-3 1h3v1h-3zm-1 1h5v1h-5zm1 1h3v1h-3zm-1 1h1v1h-1zm2 0h1v1h-1zm2 0h1v1h-1zM226 155h1v1h-1zm2 0h1v1h-1zm2 0h1v1h-1zm-3 1h3v1h-3zm-1 1h5v1h-5zm1 1h3v1h-3zm-1 1h1v1h-1zm2 0h1v1h-1zm2 0h1v1h-1zM226 150h1v1h-1zm2 0h1v1h-1zm2 0h1v1h-1zm-3 1h3v1h-3zm-1 1h5v1h-5zm1 1h3v1h-3zm-1 1h1v1h-1zm2 0h1v1h-1zm2 0h1v1h-1zM226 101h1v1h-1zm2 0h1v1h-1zm2 0h1v1h-1zm-3 1h3v1h-3zm-1 1h5v1h-5zm1 1h3v1h-3zm-1 1h1v1h-1zm2 0h1v1h-1zm2 0h1v1h-1zM226 97h1v1h-1zm2 0h1v1h-1zm2 0h1v1h-1zm-3 1h3v1h-3zm-1 1h5v1h-5zm1 1h3v1h-3zm-1 1h1v1h-1zm2 0h1v1h-1zm2 0h1v1h-1zM226 92h1v1h-1zm2 0h1v1h-1zm2 0h1v1h-1zm-3 1h3v1h-3zm-1 1h5v1h-5zm1 1h3v1h-3zm-1 1h1v1h-1zm2 0h1v1h-1zm2 0h1v1h-1zM226 87h1v1h-1zm2 0h1v1h-1zm2 0h1v1h-1zm-3 1h3v1h-3zm-1 1h5v1h-5zm1 1h3v1h-3zm-1 1h1v1h-1zm2 0h1v1h-1zm2 0h1v1h-1zM226 82h1v1h-1zm2 0h1v1h-1zm2 0h1v1h-1zm-3 1h3v1h-3zm-1 1h5v1h-5zm1 1h3v1h-3zm-1 1h1v1h-1zm2 0h1v1h-1zm2 0h1v1h-1zM226 77h1v1h-1zm2 0h1v1h-1zm2 0h1v1h-1zm-3 1h3v1h-3zm-1 1h5v1h-5zm1 1h3v1h-3zm-1 1h1v1h-1zm2 0h1v1h-1zm2 0h1v1h-1zM242 374h1v1h-1zm3 0h1v1h-1zm2 0h1v1h-1zm-4 1h4v1h-4zm-1 1h6v1h-6zm1 1h4v1h-4zm-1 1h1v1h-1zm3 0h1v1h-1zm2 0h1v1h-1zM242 369h1v1h-1zm3 0h1v1h-1zm2 0h1v1h-1zm-4 1h4v1h-4zm-1 1h6v1h-6zm1 1h4v1h-4zm-1 1h1v1h-1zm3 0h1v1h-1zm2 0h1v1h-1zM242 354h1v1h-1zm3 0h1v1h-1zm2 0h1v1h-1zm-4 1h4v1h-4zm-1 1h6v1h-6zm1 1h4v1h-4zm-1 1h1v1h-1zm3 0h1v1h-1zm2 0h1v1h-1zM242 349h1v1h-1zm3 0h1v1h-1zm2 0h1v1h-1zm-4 1h4v1h-4zm-1 1h6v1h-6zm1 1h4v1h-4zm-1 1h1v1h-1zm3 0h1v1h-1zm2 0h1v1h-1zM242 345h1v1h-1zm3 0h1v1h-1zm2 0h1v1h-1zm-4 1h4v1h-4zm-1 1h6v1h-6zm1 1h4v1h-4zm-1 1h1v1h-1zm3 0h1v1h-1zm2 0h1v1h-1zM242 340h1v1h-1zm3 0h1v1h-1zm2 0h1v1h-1zm-4 1h4v1h-4zm-1 1h6v1h-6zm1 1h4v1h-4zm-1 1h1v1h-1zm3 0h1v1h-1zm2 0h1v1h-1zM242 291h1v1h-1zm3 0h1v1h-1zm2 0h1v1h-1zm-4 1h4v1h-4zm-1 1h6v1h-6zm1 1h4v1h-4zm-1 1h1v1h-1zm3 0h1v1h-1zm2 0h1v1h-1zM242 257h1v1h-1zm3 0h1v1h-1zm2 0h1v1h-1zm-4 1h4v1h-4zm-1 1h6v1h-6zm1 1h4v1h-4zm-1 1h1v1h-1zm3 0h1v1h-1zm2 0h1v1h-1zM242 252h1v1h-1zm3 0h1v1h-1zm2 0h1v1h-1zm-4 1h4v1h-4zm-1 1h6v1h-6zm1 1h4v1h-4zm-1 1h1v1h-1zm3 0h1v1h-1zm2 0h1v1h-1zM242 247h1v1h-1zm3 0h1v1h-1zm2 0h1v1h-1zm-4 1h4v1h-4zm-1 1h6v1h-6zm1 1h4v1h-4zm-1 1h1v1h-1zm3 0h1v1h-1zm2 0h1v1h-1zM242 204h1v1h-1zm3 0h1v1h-1zm2 0h1v1h-1zm-4 1h4v1h-4zm-1 1h6v1h-6zm1 1h4v1h-4zm-1 1h1v1h-1zm3 0h1v1h-1zm2 0h1v1h-1zM242 199h1v1h-1zm3 0h1v1h-1zm2 0h1v1h-1zm-4 1h4v1h-4zm-1 1h6v1h-6zm1 1h4v1h-4zm-1 1h1v1h-1zm3 0h1v1h-1zm2 0h1v1h-1zM242 165h1v1h-1zm3 0h1v1h-1zm2 0h1v1h-1zm-4 1h4v1h-4zm-1 1h6v1h-6zm1 1h4v1h-4zm-1 1h1v1h-1zm3 0h1v1h-1zm2 0h1v1h-1zM242 116h1v1h-1zm3 0h1v1h-1zm2 0h1v1h-1zm-4 1h4v1h-4zm-1 1h6v1h-6zm1 1h4v1h-4zm-1 1h1v1h-1zm3 0h1v1h-1zm2 0h1v1h-1zM242 111h1v1h-1zm3 0h1v1h-1zm2 0h1v1h-1zm-4 1h4v1h-4zm-1 1h6v1h-6zm1 1h4v1h-4zm-1 1h1v1h-1zm3 0h1v1h-1zm2 0h1v1h-1zM242 106h1v1h-1zm3 0h1v1h-1zm2 0h1v1h-1zm-4 1h4v1h-4zm-1 1h6v1h-6zm1 1h4v1h-4zm-1 1h1v1h-1zm3 0h1v1h-1zm2 0h1v1h-1zM242 101h1v1h-1zm3 0h1v1h-1zm2 0h1v1h-1zm-4 1h4v1h-4zm-1 1h6v1h-6zm1 1h4v1h-4zm-1 1h1v1h-1zm3 0h1v1h-1zm2 0h1v1h-1zM242 97h1v1h-1zm3 0h1v1h-1zm2 0h1v1h-1zm-4 1h4v1h-4zm-1 1h6v1h-6zm1 1h4v1h-4zm-1 1h1v1h-1zm3 0h1v1h-1zm2 0h1v1h-1zM242 92h1v1h-1zm3 0h1v1h-1zm2 0h1v1h-1zm-4 1h4v1h-4zm-1 1h6v1h-6zm1 1h4v1h-4zm-1 1h1v1h-1zm3 0h1v1h-1zm2 0h1v1h-1zM242 87h1v1h-1zm3 0h1v1h-1zm2 0h1v1h-1zm-4 1h4v1h-4zm-1 1h6v1h-6zm1 1h4v1h-4zm-1 1h1v1h-1zm3 0h1v1h-1zm2 0h1v1h-1zM259 383h1v1h-1zm3 0h1v1h-1zm2 0h1v1h-1zm-4 1h4v1h-4zm-1 1h6v1h-6zm1 1h4v1h-4zm-1 1h1v1h-1zm3 0h1v1h-1zm2 0h1v1h-1zM259 379h1v1h-1zm3 0h1v1h-1zm2 0h1v1h-1zm-4 1h4v1h-4zm-1 1h6v1h-6zm1 1h4v1h-4zm-1 1h1v1h-1zm3 0h1v1h-1zm2 0h1v1h-1zM259 374h1v1h-1zm3 0h1v1h-1zm2 0h1v1h-1zm-4 1h4v1h-4zm-1 1h6v1h-6zm1 1h4v1h-4zm-1 1h1v1h-1zm3 0h1v1h-1zm2 0h1v1h-1zM259 369h1v1h-1zm3 0h1v1h-1zm2 0h1v1h-1zm-4 1h4v1h-4zm-1 1h6v1h-6zm1 1h4v1h-4zm-1 1h1v1h-1zm3 0h1v1h-1zm2 0h1v1h-1zM259 364h1v1h-1zm3 0h1v1h-1zm2 0h1v1h-1zm-4 1h4v1h-4zm-1 1h6v1h-6zm1 1h4v1h-4zm-1 1h1v1h-1zm3 0h1v1h-1zm2 0h1v1h-1zM259 359h1v1h-1zm3 0h1v1h-1zm2 0h1v1h-1zm-4 1h4v1h-4zm-1 1h6v1h-6zm1 1h4v1h-4zm-1 1h1v1h-1zm3 0h1v1h-1zm2 0h1v1h-1zM259 354h1v1h-1zm3 0h1v1h-1zm2 0h1v1h-1zm-4 1h4v1h-4zm-1 1h6v1h-6zm1 1h4v1h-4zm-1 1h1v1h-1zm3 0h1v1h-1zm2 0h1v1h-1zM259 272h1v1h-1zm3 0h1v1h-1zm2 0h1v1h-1zm-4 1h4v1h-4zm-1 1h6v1h-6zm1 1h4v1h-4zm-1 1h1v1h-1zm3 0h1v1h-1zm2 0h1v1h-1zM259 267h1v1h-1zm3 0h1v1h-1zm2 0h1v1h-1zm-4 1h4v1h-4zm-1 1h6v1h-6zm1 1h4v1h-4zm-1 1h1v1h-1zm3 0h1v1h-1zm2 0h1v1h-1zM259 262h1v1h-1zm3 0h1v1h-1zm2 0h1v1h-1zm-4 1h4v1h-4zm-1 1h6v1h-6zm1 1h4v1h-4zm-1 1h1v1h-1zm3 0h1v1h-1zm2 0h1v1h-1zM259 233h1v1h-1zm3 0h1v1h-1zm2 0h1v1h-1zm-4 1h4v1h-4zm-1 1h6v1h-6zm1 1h4v1h-4zm-1 1h1v1h-1zm3 0h1v1h-1zm2 0h1v1h-1zM259 213h1v1h-1zm3 0h1v1h-1zm2 0h1v1h-1zm-4 1h4v1h-4zm-1 1h6v1h-6zm1 1h4v1h-4zm-1 1h1v1h-1zm3 0h1v1h-1zm2 0h1v1h-1zM259 179h1v1h-1zm3 0h1v1h-1zm2 0h1v1h-1zm-4 1h4v1h-4zm-1 1h6v1h-6zm1 1h4v1h-4zm-1 1h1v1h-1zm3 0h1v1h-1zm2 0h1v1h-1zM259 174h1v1h-1zm3 0h1v1h-1zm2 0h1v1h-1zm-4 1h4v1h-4zm-1 1h6v1h-6zm1 1h4v1h-4zm-1 1h1v1h-1zm3 0h1v1h-1zm2 0h1v1h-1zM259 126h1v1h-1zm3 0h1v1h-1zm2 0h1v1h-1zm-4 1h4v1h-4zm-1 1h6v1h-6zm1 1h4v1h-4zm-1 1h1v1h-1zm3 0h1v1h-1zm2 0h1v1h-1zM259 121h1v1h-1zm3 0h1v1h-1zm2 0h1v1h-1zm-4 1h4v1h-4zm-1 1h6v1h-6zm1 1h4v1h-4zm-1 1h1v1h-1zm3 0h1v1h-1zm2 0h1v1h-1zM259 116h1v1h-1zm3 0h1v1h-1zm2 0h1v1h-1zm-4 1h4v1h-4zm-1 1h6v1h-6zm1 1h4v1h-4zm-1 1h1v1h-1zm3 0h1v1h-1zm2 0h1v1h-1zM259 111h1v1h-1zm3 0h1v1h-1zm2 0h1v1h-1zm-4 1h4v1h-4zm-1 1h6v1h-6zm1 1h4v1h-4zm-1 1h1v1h-1zm3 0h1v1h-1zm2 0h1v1h-1zM259 106h1v1h-1zm3 0h1v1h-1zm2 0h1v1h-1zm-4 1h4v1h-4zm-1 1h6v1h-6zm1 1h4v1h-4zm-1 1h1v1h-1zm3 0h1v1h-1zm2 0h1v1h-1zM259 101h1v1h-1zm3 0h1v1h-1zm2 0h1v1h-1zm-4 1h4v1h-4zm-1 1h6v1h-6zm1 1h4v1h-4zm-1 1h1v1h-1zm3 0h1v1h-1zm2 0h1v1h-1zM259 97h1v1h-1zm3 0h1v1h-1zm2 0h1v1h-1zm-4 1h4v1h-4zm-1 1h6v1h-6zm1 1h4v1h-4zm-1 1h1v1h-1zm3 0h1v1h-1zm2 0h1v1h-1zM276 398h1v1h-1zm3 0h1v1h-1zm2 0h1v1h-1zm-4 1h4v1h-4zm-1 1h6v1h-6zm1 1h4v1h-4zm-1 1h1v1h-1zm3 0h1v1h-1zm2 0h1v1h-1zM276 393h1v1h-1zm3 0h1v1h-1zm2 0h1v1h-1zm-4 1h4v1h-4zm-1 1h6v1h-6zm1 1h4v1h-4zm-1 1h1v1h-1zm3 0h1v1h-1zm2 0h1v1h-1zM276 388h1v1h-1zm3 0h1v1h-1zm2 0h1v1h-1zm-4 1h4v1h-4zm-1 1h6v1h-6zm1 1h4v1h-4zm-1 1h1v1h-1zm3 0h1v1h-1zm2 0h1v1h-1zM276 383h1v1h-1zm3 0h1v1h-1zm2 0h1v1h-1zm-4 1h4v1h-4zm-1 1h6v1h-6zm1 1h4v1h-4zm-1 1h1v1h-1zm3 0h1v1h-1zm2 0h1v1h-1zM276 379h1v1h-1zm3 0h1v1h-1zm2 0h1v1h-1zm-4 1h4v1h-4zm-1 1h6v1h-6zm1 1h4v1h-4zm-1 1h1v1h-1zm3 0h1v1h-1zm2 0h1v1h-1zM276 374h1v1h-1zm3 0h1v1h-1zm2 0h1v1h-1zm-4 1h4v1h-4zm-1 1h6v1h-6zm1 1h4v1h-4zm-1 1h1v1h-1zm3 0h1v1h-1zm2 0h1v1h-1zM276 369h1v1h-1zm3 0h1v1h-1zm2 0h1v1h-1zm-4 1h4v1h-4zm-1 1h6v1h-6zm1 1h4v1h-4zm-1 1h1v1h-1zm3 0h1v1h-1zm2 0h1v1h-1zM276 364h1v1h-1zm3 0h1v1h-1zm2 0h1v1h-1zm-4 1h4v1h-4zm-1 1h6v1h-6zm1 1h4v1h-4zm-1 1h1v1h-1zm3 0h1v1h-1zm2 0h1v1h-1zM276 315h1v1h-1zm3 0h1v1h-1zm2 0h1v1h-1zm-4 1h4v1h-4zm-1 1h6v1h-6zm1 1h4v1h-4zm-1 1h1v1h-1zm3 0h1v1h-1zm2 0h1v1h-1zM276 286h1v1h-1zm3 0h1v1h-1zm2 0h1v1h-1zm-4 1h4v1h-4zm-1 1h6v1h-6zm1 1h4v1h-4zm-1 1h1v1h-1zm3 0h1v1h-1zm2 0h1v1h-1zM276 281h1v1h-1zm3 0h1v1h-1zm2 0h1v1h-1zm-4 1h4v1h-4zm-1 1h6v1h-6zm1 1h4v1h-4zm-1 1h1v1h-1zm3 0h1v1h-1zm2 0h1v1h-1zM276 276h1v1h-1zm3 0h1v1h-1zm2 0h1v1h-1zm-4 1h4v1h-4zm-1 1h6v1h-6zm1 1h4v1h-4zm-1 1h1v1h-1zm3 0h1v1h-1zm2 0h1v1h-1zM276 228h1v1h-1zm3 0h1v1h-1zm2 0h1v1h-1zm-4 1h4v1h-4zm-1 1h6v1h-6zm1 1h4v1h-4zm-1 1h1v1h-1zm3 0h1v1h-1zm2 0h1v1h-1zM276 189h1v1h-1zm3 0h1v1h-1zm2 0h1v1h-1zm-4 1h4v1h-4zm-1 1h6v1h-6zm1 1h4v1h-4zm-1 1h1v1h-1zm3 0h1v1h-1zm2 0h1v1h-1zM276 184h1v1h-1zm3 0h1v1h-1zm2 0h1v1h-1zm-4 1h4v1h-4zm-1 1h6v1h-6zm1 1h4v1h-4zm-1 1h1v1h-1zm3 0h1v1h-1zm2 0h1v1h-1zM276 140h1v1h-1zm3 0h1v1h-1zm2 0h1v1h-1zm-4 1h4v1h-4zm-1 1h6v1h-6zm1 1h4v1h-4zm-1 1h1v1h-1zm3 0h1v1h-1zm2 0h1v1h-1zM276 135h1v1h-1zm3 0h1v1h-1zm2 0h1v1h-1zm-4 1h4v1h-4zm-1 1h6v1h-6zm1 1h4v1h-4zm-1 1h1v1h-1zm3 0h1v1h-1zm2 0h1v1h-1zM276 131h1v1h-1zm3 0h1v1h-1zm2 0h1v1h-1zm-4 1h4v1h-4zm-1 1h6v1h-6zm1 1h4v1h-4zm-1 1h1v1h-1zm3 0h1v1h-1zm2 0h1v1h-1zM276 126h1v1h-1zm3 0h1v1h-1zm2 0h1v1h-1zm-4 1h4v1h-4zm-1 1h6v1h-6zm1 1h4v1h-4zm-1 1h1v1h-1zm3 0h1v1h-1zm2 0h1v1h-1zM276 121h1v1h-1zm3 0h1v1h-1zm2 0h1v1h-1zm-4 1h4v1h-4zm-1 1h6v1h-6zm1 1h4v1h-4zm-1 1h1v1h-1zm3 0h1v1h-1zm2 0h1v1h-1zM276 116h1v1h-1zm3 0h1v1h-1zm2 0h1v1h-1zm-4 1h4v1h-4zm-1 1h6v1h-6zm1 1h4v1h-4zm-1 1h1v1h-1zm3 0h1v1h-1zm2 0h1v1h-1zM276 111h1v1h-1zm3 0h1v1h-1zm2 0h1v1h-1zm-4 1h4v1h-4zm-1 1h6v1h-6zm1 1h4v1h-4zm-1 1h1v1h-1zm3 0h1v1h-1zm2 0h1v1h-1zM293 408h1v1h-1zm2 0h1v1h-1zm2 0h1v1h-1zm-3 1h3v1h-3zm-1 1h5v1h-5zm1 1h3v1h-3zm-1 1h1v1h-1zm2 0h1v1h-1zm2 0h1v1h-1zM293 403h1v1h-1zm2 0h1v1h-1zm2 0h1v1h-1zm-3 1h3v1h-3zm-1 1h5v1h-5zm1 1h3v1h-3zm-1 1h1v1h-1zm2 0h1v1h-1zm2 0h1v1h-1zM293 398h1v1h-1zm2 0h1v1h-1zm2 0h1v1h-1zm-3 1h3v1h-3zm-1 1h5v1h-5zm1 1h3v1h-3zm-1 1h1v1h-1zm2 0h1v1h-1zm2 0h1v1h-1zM293 393h1v1h-1zm2 0h1v1h-1zm2 0h1v1h-1zm-3 1h3v1h-3zm-1 1h5v1h-5zm1 1h3v1h-3zm-1 1h1v1h-1zm2 0h1v1h-1zm2 0h1v1h-1zM293 388h1v1h-1zm2 0h1v1h-1zm2 0h1v1h-1zm-3 1h3v1h-3zm-1 1h5v1h-5zm1 1h3v1h-3zm-1 1h1v1h-1zm2 0h1v1h-1zm2 0h1v1h-1zM293 383h1v1h-1zm2 0h1v1h-1zm2 0h1v1h-1zm-3 1h3v1h-3zm-1 1h5v1h-5zm1 1h3v1h-3zm-1 1h1v1h-1zm2 0h1v1h-1zm2 0h1v1h-1zM293 379h1v1h-1zm2 0h1v1h-1zm2 0h1v1h-1zm-3 1h3v1h-3zm-1 1h5v1h-5zm1 1h3v1h-3zm-1 1h1v1h-1zm2 0h1v1h-1zm2 0h1v1h-1zM293 301h1v1h-1zm2 0h1v1h-1zm2 0h1v1h-1zm-3 1h3v1h-3zm-1 1h5v1h-5zm1 1h3v1h-3zm-1 1h1v1h-1zm2 0h1v1h-1zm2 0h1v1h-1zM293 296h1v1h-1zm2 0h1v1h-1zm2 0h1v1h-1zm-3 1h3v1h-3zm-1 1h5v1h-5zm1 1h3v1h-3zm-1 1h1v1h-1zm2 0h1v1h-1zm2 0h1v1h-1zM293 291h1v1h-1zm2 0h1v1h-1zm2 0h1v1h-1zm-3 1h3v1h-3zm-1 1h5v1h-5zm1 1h3v1h-3zm-1 1h1v1h-1zm2 0h1v1h-1zm2 0h1v1h-1zM293 242h1v1h-1zm2 0h1v1h-1zm2 0h1v1h-1zm-3 1h3v1h-3zm-1 1h5v1h-5zm1 1h3v1h-3zm-1 1h1v1h-1zm2 0h1v1h-1zm2 0h1v1h-1zM293 204h1v1h-1zm2 0h1v1h-1zm2 0h1v1h-1zm-3 1h3v1h-3zm-1 1h5v1h-5zm1 1h3v1h-3zm-1 1h1v1h-1zm2 0h1v1h-1zm2 0h1v1h-1zM293 199h1v1h-1zm2 0h1v1h-1zm2 0h1v1h-1zm-3 1h3v1h-3zm-1 1h5v1h-5zm1 1h3v1h-3zm-1 1h1v1h-1zm2 0h1v1h-1zm2 0h1v1h-1zM293 155h1v1h-1zm2 0h1v1h-1zm2 0h1v1h-1zm-3 1h3v1h-3zm-1 1h5v1h-5zm1 1h3v1h-3zm-1 1h1v1h-1zm2 0h1v1h-1zm2 0h1v1h-1zM293 150h1v1h-1zm2 0h1v1h-1zm2 0h1v1h-1zm-3 1h3v1h-3zm-1 1h5v1h-5zm1 1h3v1h-3zm-1 1h1v1h-1zm2 0h1v1h-1zm2 0h1v1h-1zM293 145h1v1h-1zm2 0h1v1h-1zm2 0h1v1h-1zm-3 1h3v1h-3zm-1 1h5v1h-5zm1 1h3v1h-3zm-1 1h1v1h-1zm2 0h1v1h-1zm2 0h1v1h-1zM293 135h1v1h-1zm2 0h1v1h-1zm2 0h1v1h-1zm-3 1h3v1h-3zm-1 1h5v1h-5zm1 1h3v1h-3zm-1 1h1v1h-1zm2 0h1v1h-1zm2 0h1v1h-1zM293 131h1v1h-1zm2 0h1v1h-1zm2 0h1v1h-1zm-3 1h3v1h-3zm-1 1h5v1h-5zm1 1h3v1h-3zm-1 1h1v1h-1zm2 0h1v1h-1zm2 0h1v1h-1zM293 126h1v1h-1zm2 0h1v1h-1zm2 0h1v1h-1zm-3 1h3v1h-3zm-1 1h5v1h-5zm1 1h3v1h-3zm-1 1h1v1h-1zm2 0h1v1h-1zm2 0h1v1h-1zM293 121h1v1h-1zm2 0h1v1h-1zm2 0h1v1h-1zm-3 1h3v1h-3zm-1 1h5v1h-5zm1 1h3v1h-3zm-1 1h1v1h-1zm2 0h1v1h-1zm2 0h1v1h-1zM310 417h1v1h-1zm2 0h1v1h-1zm2 0h1v1h-1zm-3 1h3v1h-3zm-1 1h5v1h-5zm1 1h3v1h-3zm-1 1h1v1h-1zm2 0h1v1h-1zm2 0h1v1h-1zM310 413h1v1h-1zm2 0h1v1h-1zm2 0h1v1h-1zm-3 1h3v1h-3zm-1 1h5v1h-5zm1 1h3v1h-3zm-1 1h1v1h-1zm2 0h1v1h-1zm2 0h1v1h-1zM310 408h1v1h-1zm2 0h1v1h-1zm2 0h1v1h-1zm-3 1h3v1h-3zm-1 1h5v1h-5zm1 1h3v1h-3zm-1 1h1v1h-1zm2 0h1v1h-1zm2 0h1v1h-1zM310 403h1v1h-1zm2 0h1v1h-1zm2 0h1v1h-1zm-3 1h3v1h-3zm-1 1h5v1h-5zm1 1h3v1h-3zm-1 1h1v1h-1zm2 0h1v1h-1zm2 0h1v1h-1zM310 398h1v1h-1zm2 0h1v1h-1zm2 0h1v1h-1zm-3 1h3v1h-3zm-1 1h5v1h-5zm1 1h3v1h-3zm-1 1h1v1h-1zm2 0h1v1h-1zm2 0h1v1h-1zM310 393h1v1h-1zm2 0h1v1h-1zm2 0h1v1h-1zm-3 1h3v1h-3zm-1 1h5v1h-5zm1 1h3v1h-3zm-1 1h1v1h-1zm2 0h1v1h-1zm2 0h1v1h-1zM310 354h1v1h-1zm2 0h1v1h-1zm2 0h1v1h-1zm-3 1h3v1h-3zm-1 1h5v1h-5zm1 1h3v1h-3zm-1 1h1v1h-1zm2 0h1v1h-1zm2 0h1v1h-1zM310 340h1v1h-1zm2 0h1v1h-1zm2 0h1v1h-1zm-3 1h3v1h-3zm-1 1h5v1h-5zm1 1h3v1h-3zm-1 1h1v1h-1zm2 0h1v1h-1zm2 0h1v1h-1zM310 315h1v1h-1zm2 0h1v1h-1zm2 0h1v1h-1zm-3 1h3v1h-3zm-1 1h5v1h-5zm1 1h3v1h-3zm-1 1h1v1h-1zm2 0h1v1h-1zm2 0h1v1h-1zM310 310h1v1h-1zm2 0h1v1h-1zm2 0h1v1h-1zm-3 1h3v1h-3zm-1 1h5v1h-5zm1 1h3v1h-3zm-1 1h1v1h-1zm2 0h1v1h-1zm2 0h1v1h-1zM310 306h1v1h-1zm2 0h1v1h-1zm2 0h1v1h-1zm-3 1h3v1h-3zm-1 1h5v1h-5zm1 1h3v1h-3zm-1 1h1v1h-1zm2 0h1v1h-1zm2 0h1v1h-1zM310 252h1v1h-1zm2 0h1v1h-1zm2 0h1v1h-1zm-3 1h3v1h-3zm-1 1h5v1h-5zm1 1h3v1h-3zm-1 1h1v1h-1zm2 0h1v1h-1zm2 0h1v1h-1zM310 218h1v1h-1zm2 0h1v1h-1zm2 0h1v1h-1zm-3 1h3v1h-3zm-1 1h5v1h-5zm1 1h3v1h-3zm-1 1h1v1h-1zm2 0h1v1h-1zm2 0h1v1h-1zM310 213h1v1h-1zm2 0h1v1h-1zm2 0h1v1h-1zm-3 1h3v1h-3zm-1 1h5v1h-5zm1 1h3v1h-3zm-1 1h1v1h-1zm2 0h1v1h-1zm2 0h1v1h-1zM310 165h1v1h-1zm2 0h1v1h-1zm2 0h1v1h-1zm-3 1h3v1h-3zm-1 1h5v1h-5zm1 1h3v1h-3zm-1 1h1v1h-1zm2 0h1v1h-1zm2 0h1v1h-1zM310 160h1v1h-1zm2 0h1v1h-1zm2 0h1v1h-1zm-3 1h3v1h-3zm-1 1h5v1h-5zm1 1h3v1h-3zm-1 1h1v1h-1zm2 0h1v1h-1zm2 0h1v1h-1zM310 145h1v1h-1zm2 0h1v1h-1zm2 0h1v1h-1zm-3 1h3v1h-3zm-1 1h5v1h-5zm1 1h3v1h-3zm-1 1h1v1h-1zm2 0h1v1h-1zm2 0h1v1h-1zM310 140h1v1h-1zm2 0h1v1h-1zm2 0h1v1h-1zm-3 1h3v1h-3zm-1 1h5v1h-5zm1 1h3v1h-3zm-1 1h1v1h-1zm2 0h1v1h-1zm2 0h1v1h-1zM310 135h1v1h-1zm2 0h1v1h-1zm2 0h1v1h-1zm-3 1h3v1h-3zm-1 1h5v1h-5zm1 1h3v1h-3zm-1 1h1v1h-1zm2 0h1v1h-1zm2 0h1v1h-1zM310 131h1v1h-1zm2 0h1v1h-1zm2 0h1v1h-1zm-3 1h3v1h-3zm-1 1h5v1h-5zm1 1h3v1h-3zm-1 1h1v1h-1zm2 0h1v1h-1zm2 0h1v1h-1zM310 82h1v1h-1zm2 0h1v1h-1zm2 0h1v1h-1zm-3 1h3v1h-3zm-1 1h5v1h-5zm1 1h3v1h-3zm-1 1h1v1h-1zm2 0h1v1h-1zm2 0h1v1h-1zM310 77h1v1h-1zm2 0h1v1h-1zm2 0h1v1h-1zm-3 1h3v1h-3zm-1 1h5v1h-5zm1 1h3v1h-3zm-1 1h1v1h-1zm2 0h1v1h-1zm2 0h1v1h-1zM326 422h1v1h-1zm3 0h1v1h-1zm2 0h1v1h-1zm-4 1h4v1h-4zm-1 1h6v1h-6zm1 1h4v1h-4zm-1 1h1v1h-1zm3 0h1v1h-1zm2 0h1v1h-1zM326 417h1v1h-1zm3 0h1v1h-1zm2 0h1v1h-1zm-4 1h4v1h-4zm-1 1h6v1h-6zm1 1h4v1h-4zm-1 1h1v1h-1zm3 0h1v1h-1zm2 0h1v1h-1zM326 413h1v1h-1zm3 0h1v1h-1zm2 0h1v1h-1zm-4 1h4v1h-4zm-1 1h6v1h-6zm1 1h4v1h-4zm-1 1h1v1h-1zm3 0h1v1h-1zm2 0h1v1h-1zM326 408h1v1h-1zm3 0h1v1h-1zm2 0h1v1h-1zm-4 1h4v1h-4zm-1 1h6v1h-6zm1 1h4v1h-4zm-1 1h1v1h-1zm3 0h1v1h-1zm2 0h1v1h-1zM326 403h1v1h-1zm3 0h1v1h-1zm2 0h1v1h-1zm-4 1h4v1h-4zm-1 1h6v1h-6zm1 1h4v1h-4zm-1 1h1v1h-1zm3 0h1v1h-1zm2 0h1v1h-1zM326 349h1v1h-1zm3 0h1v1h-1zm2 0h1v1h-1zm-4 1h4v1h-4zm-1 1h6v1h-6zm1 1h4v1h-4zm-1 1h1v1h-1zm3 0h1v1h-1zm2 0h1v1h-1zM326 330h1v1h-1zm3 0h1v1h-1zm2 0h1v1h-1zm-4 1h4v1h-4zm-1 1h6v1h-6zm1 1h4v1h-4zm-1 1h1v1h-1zm3 0h1v1h-1zm2 0h1v1h-1zM326 325h1v1h-1zm3 0h1v1h-1zm2 0h1v1h-1zm-4 1h4v1h-4zm-1 1h6v1h-6zm1 1h4v1h-4zm-1 1h1v1h-1zm3 0h1v1h-1zm2 0h1v1h-1zM326 320h1v1h-1zm3 0h1v1h-1zm2 0h1v1h-1zm-4 1h4v1h-4zm-1 1h6v1h-6zm1 1h4v1h-4zm-1 1h1v1h-1zm3 0h1v1h-1zm2 0h1v1h-1zM326 315h1v1h-1zm3 0h1v1h-1zm2 0h1v1h-1zm-4 1h4v1h-4zm-1 1h6v1h-6zm1 1h4v1h-4zm-1 1h1v1h-1zm3 0h1v1h-1zm2 0h1v1h-1zM326 267h1v1h-1zm3 0h1v1h-1zm2 0h1v1h-1zm-4 1h4v1h-4zm-1 1h6v1h-6zm1 1h4v1h-4zm-1 1h1v1h-1zm3 0h1v1h-1zm2 0h1v1h-1zM326 228h1v1h-1zm3 0h1v1h-1zm2 0h1v1h-1zm-4 1h4v1h-4zm-1 1h6v1h-6zm1 1h4v1h-4zm-1 1h1v1h-1zm3 0h1v1h-1zm2 0h1v1h-1zM326 223h1v1h-1zm3 0h1v1h-1zm2 0h1v1h-1zm-4 1h4v1h-4zm-1 1h6v1h-6zm1 1h4v1h-4zm-1 1h1v1h-1zm3 0h1v1h-1zm2 0h1v1h-1zM326 179h1v1h-1zm3 0h1v1h-1zm2 0h1v1h-1zm-4 1h4v1h-4zm-1 1h6v1h-6zm1 1h4v1h-4zm-1 1h1v1h-1zm3 0h1v1h-1zm2 0h1v1h-1zM326 174h1v1h-1zm3 0h1v1h-1zm2 0h1v1h-1zm-4 1h4v1h-4zm-1 1h6v1h-6zm1 1h4v1h-4zm-1 1h1v1h-1zm3 0h1v1h-1zm2 0h1v1h-1zM326 155h1v1h-1zm3 0h1v1h-1zm2 0h1v1h-1zm-4 1h4v1h-4zm-1 1h6v1h-6zm1 1h4v1h-4zm-1 1h1v1h-1zm3 0h1v1h-1zm2 0h1v1h-1zM326 150h1v1h-1zm3 0h1v1h-1zm2 0h1v1h-1zm-4 1h4v1h-4zm-1 1h6v1h-6zm1 1h4v1h-4zm-1 1h1v1h-1zm3 0h1v1h-1zm2 0h1v1h-1zM326 145h1v1h-1zm3 0h1v1h-1zm2 0h1v1h-1zm-4 1h4v1h-4zm-1 1h6v1h-6zm1 1h4v1h-4zm-1 1h1v1h-1zm3 0h1v1h-1zm2 0h1v1h-1zM326 140h1v1h-1zm3 0h1v1h-1zm2 0h1v1h-1zm-4 1h4v1h-4zm-1 1h6v1h-6zm1 1h4v1h-4zm-1 1h1v1h-1zm3 0h1v1h-1zm2 0h1v1h-1zM326 92h1v1h-1zm3 0h1v1h-1zm2 0h1v1h-1zm-4 1h4v1h-4zm-1 1h6v1h-6zm1 1h4v1h-4zm-1 1h1v1h-1zm3 0h1v1h-1zm2 0h1v1h-1zM326 87h1v1h-1zm3 0h1v1h-1zm2 0h1v1h-1zm-4 1h4v1h-4zm-1 1h6v1h-6zm1 1h4v1h-4zm-1 1h1v1h-1zm3 0h1v1h-1zm2 0h1v1h-1zM326 82h1v1h-1zm3 0h1v1h-1zm2 0h1v1h-1zm-4 1h4v1h-4zm-1 1h6v1h-6zm1 1h4v1h-4zm-1 1h1v1h-1zm3 0h1v1h-1zm2 0h1v1h-1zM326 77h1v1h-1zm3 0h1v1h-1zm2 0h1v1h-1zm-4 1h4v1h-4zm-1 1h6v1h-6zm1 1h4v1h-4zm-1 1h1v1h-1zm3 0h1v1h-1zm2 0h1v1h-1zM343 422h1v1h-1zm3 0h1v1h-1zm2 0h1v1h-1zm-4 1h4v1h-4zm-1 1h6v1h-6zm1 1h4v1h-4zm-1 1h1v1h-1zm3 0h1v1h-1zm2 0h1v1h-1zM343 417h1v1h-1zm3 0h1v1h-1zm2 0h1v1h-1zm-4 1h4v1h-4zm-1 1h6v1h-6zm1 1h4v1h-4zm-1 1h1v1h-1zm3 0h1v1h-1zm2 0h1v1h-1zM343 364h1v1h-1zm3 0h1v1h-1zm2 0h1v1h-1zm-4 1h4v1h-4zm-1 1h6v1h-6zm1 1h4v1h-4zm-1 1h1v1h-1zm3 0h1v1h-1zm2 0h1v1h-1zM343 340h1v1h-1zm3 0h1v1h-1zm2 0h1v1h-1zm-4 1h4v1h-4zm-1 1h6v1h-6zm1 1h4v1h-4zm-1 1h1v1h-1zm3 0h1v1h-1zm2 0h1v1h-1zM343 335h1v1h-1zm3 0h1v1h-1zm2 0h1v1h-1zm-4 1h4v1h-4zm-1 1h6v1h-6zm1 1h4v1h-4zm-1 1h1v1h-1zm3 0h1v1h-1zm2 0h1v1h-1zM343 330h1v1h-1zm3 0h1v1h-1zm2 0h1v1h-1zm-4 1h4v1h-4zm-1 1h6v1h-6zm1 1h4v1h-4zm-1 1h1v1h-1zm3 0h1v1h-1zm2 0h1v1h-1zM343 296h1v1h-1zm3 0h1v1h-1zm2 0h1v1h-1zm-4 1h4v1h-4zm-1 1h6v1h-6zm1 1h4v1h-4zm-1 1h1v1h-1zm3 0h1v1h-1zm2 0h1v1h-1zM343 242h1v1h-1zm3 0h1v1h-1zm2 0h1v1h-1zm-4 1h4v1h-4zm-1 1h6v1h-6zm1 1h4v1h-4zm-1 1h1v1h-1zm3 0h1v1h-1zm2 0h1v1h-1zM343 238h1v1h-1zm3 0h1v1h-1zm2 0h1v1h-1zm-4 1h4v1h-4zm-1 1h6v1h-6zm1 1h4v1h-4zm-1 1h1v1h-1zm3 0h1v1h-1zm2 0h1v1h-1zM343 208h1v1h-1zm3 0h1v1h-1zm2 0h1v1h-1zm-4 1h4v1h-4zm-1 1h6v1h-6zm1 1h4v1h-4zm-1 1h1v1h-1zm3 0h1v1h-1zm2 0h1v1h-1zM343 189h1v1h-1zm3 0h1v1h-1zm2 0h1v1h-1zm-4 1h4v1h-4zm-1 1h6v1h-6zm1 1h4v1h-4zm-1 1h1v1h-1zm3 0h1v1h-1zm2 0h1v1h-1zM343 165h1v1h-1zm3 0h1v1h-1zm2 0h1v1h-1zm-4 1h4v1h-4zm-1 1h6v1h-6zm1 1h4v1h-4zm-1 1h1v1h-1zm3 0h1v1h-1zm2 0h1v1h-1zM343 160h1v1h-1zm3 0h1v1h-1zm2 0h1v1h-1zm-4 1h4v1h-4zm-1 1h6v1h-6zm1 1h4v1h-4zm-1 1h1v1h-1zm3 0h1v1h-1zm2 0h1v1h-1zM343 155h1v1h-1zm3 0h1v1h-1zm2 0h1v1h-1zm-4 1h4v1h-4zm-1 1h6v1h-6zm1 1h4v1h-4zm-1 1h1v1h-1zm3 0h1v1h-1zm2 0h1v1h-1zM343 106h1v1h-1zm3 0h1v1h-1zm2 0h1v1h-1zm-4 1h4v1h-4zm-1 1h6v1h-6zm1 1h4v1h-4zm-1 1h1v1h-1zm3 0h1v1h-1zm2 0h1v1h-1zM343 101h1v1h-1zm3 0h1v1h-1zm2 0h1v1h-1zm-4 1h4v1h-4zm-1 1h6v1h-6zm1 1h4v1h-4zm-1 1h1v1h-1zm3 0h1v1h-1zm2 0h1v1h-1zM343 97h1v1h-1zm3 0h1v1h-1zm2 0h1v1h-1zm-4 1h4v1h-4zm-1 1h6v1h-6zm1 1h4v1h-4zm-1 1h1v1h-1zm3 0h1v1h-1zm2 0h1v1h-1zM343 92h1v1h-1zm3 0h1v1h-1zm2 0h1v1h-1zm-4 1h4v1h-4zm-1 1h6v1h-6zm1 1h4v1h-4zm-1 1h1v1h-1zm3 0h1v1h-1zm2 0h1v1h-1zM343 87h1v1h-1zm3 0h1v1h-1zm2 0h1v1h-1zm-4 1h4v1h-4zm-1 1h6v1h-6zm1 1h4v1h-4zm-1 1h1v1h-1zm3 0h1v1h-1zm2 0h1v1h-1zM343 82h1v1h-1zm3 0h1v1h-1zm2 0h1v1h-1zm-4 1h4v1h-4zm-1 1h6v1h-6zm1 1h4v1h-4zm-1 1h1v1h-1zm3 0h1v1h-1zm2 0h1v1h-1zM343 77h1v1h-1zm3 0h1v1h-1zm2 0h1v1h-1zm-4 1h4v1h-4zm-1 1h6v1h-6zm1 1h4v1h-4zm-1 1h1v1h-1zm3 0h1v1h-1zm2 0h1v1h-1zM360 374h1v1h-1zm2 0h1v1h-1zm2 0h1v1h-1zm-3 1h3v1h-3zm-1 1h5v1h-5zm1 1h3v1h-3zm-1 1h1v1h-1zm2 0h1v1h-1zm2 0h1v1h-1zM360 354h1v1h-1zm2 0h1v1h-1zm2 0h1v1h-1zm-3 1h3v1h-3zm-1 1h5v1h-5zm1 1h3v1h-3zm-1 1h1v1h-1zm2 0h1v1h-1zm2 0h1v1h-1zM360 349h1v1h-1zm2 0h1v1h-1zm2 0h1v1h-1zm-3 1h3v1h-3zm-1 1h5v1h-5zm1 1h3v1h-3zm-1 1h1v1h-1zm2 0h1v1h-1zm2 0h1v1h-1zM360 345h1v1h-1zm2 0h1v1h-1zm2 0h1v1h-1zm-3 1h3v1h-3zm-1 1h5v1h-5zm1 1h3v1h-3zm-1 1h1v1h-1zm2 0h1v1h-1zm2 0h1v1h-1zM360 340h1v1h-1zm2 0h1v1h-1zm2 0h1v1h-1zm-3 1h3v1h-3zm-1 1h5v1h-5zm1 1h3v1h-3zm-1 1h1v1h-1zm2 0h1v1h-1zm2 0h1v1h-1zM360 291h1v1h-1zm2 0h1v1h-1zm2 0h1v1h-1zm-3 1h3v1h-3zm-1 1h5v1h-5zm1 1h3v1h-3zm-1 1h1v1h-1zm2 0h1v1h-1zm2 0h1v1h-1zM360 257h1v1h-1zm2 0h1v1h-1zm2 0h1v1h-1zm-3 1h3v1h-3zm-1 1h5v1h-5zm1 1h3v1h-3zm-1 1h1v1h-1zm2 0h1v1h-1zm2 0h1v1h-1zM360 252h1v1h-1zm2 0h1v1h-1zm2 0h1v1h-1zm-3 1h3v1h-3zm-1 1h5v1h-5zm1 1h3v1h-3zm-1 1h1v1h-1zm2 0h1v1h-1zm2 0h1v1h-1zM360 204h1v1h-1zm2 0h1v1h-1zm2 0h1v1h-1zm-3 1h3v1h-3zm-1 1h5v1h-5zm1 1h3v1h-3zm-1 1h1v1h-1zm2 0h1v1h-1zm2 0h1v1h-1zM360 174h1v1h-1zm2 0h1v1h-1zm2 0h1v1h-1zm-3 1h3v1h-3zm-1 1h5v1h-5zm1 1h3v1h-3zm-1 1h1v1h-1zm2 0h1v1h-1zm2 0h1v1h-1zM360 170h1v1h-1zm2 0h1v1h-1zm2 0h1v1h-1zm-3 1h3v1h-3zm-1 1h5v1h-5zm1 1h3v1h-3zm-1 1h1v1h-1zm2 0h1v1h-1zm2 0h1v1h-1zM360 165h1v1h-1zm2 0h1v1h-1zm2 0h1v1h-1zm-3 1h3v1h-3zm-1 1h5v1h-5zm1 1h3v1h-3zm-1 1h1v1h-1zm2 0h1v1h-1zm2 0h1v1h-1zM360 116h1v1h-1zm2 0h1v1h-1zm2 0h1v1h-1zm-3 1h3v1h-3zm-1 1h5v1h-5zm1 1h3v1h-3zm-1 1h1v1h-1zm2 0h1v1h-1zm2 0h1v1h-1zM360 111h1v1h-1zm2 0h1v1h-1zm2 0h1v1h-1zm-3 1h3v1h-3zm-1 1h5v1h-5zm1 1h3v1h-3zm-1 1h1v1h-1zm2 0h1v1h-1zm2 0h1v1h-1zM360 106h1v1h-1zm2 0h1v1h-1zm2 0h1v1h-1zm-3 1h3v1h-3zm-1 1h5v1h-5zm1 1h3v1h-3zm-1 1h1v1h-1zm2 0h1v1h-1zm2 0h1v1h-1zM360 101h1v1h-1zm2 0h1v1h-1zm2 0h1v1h-1zm-3 1h3v1h-3zm-1 1h5v1h-5zm1 1h3v1h-3zm-1 1h1v1h-1zm2 0h1v1h-1zm2 0h1v1h-1zM360 97h1v1h-1zm2 0h1v1h-1zm2 0h1v1h-1zm-3 1h3v1h-3zm-1 1h5v1h-5zm1 1h3v1h-3zm-1 1h1v1h-1zm2 0h1v1h-1zm2 0h1v1h-1zM360 92h1v1h-1zm2 0h1v1h-1zm2 0h1v1h-1zm-3 1h3v1h-3zm-1 1h5v1h-5zm1 1h3v1h-3zm-1 1h1v1h-1zm2 0h1v1h-1zm2 0h1v1h-1zM360 87h1v1h-1zm2 0h1v1h-1zm2 0h1v1h-1zm-3 1h3v1h-3zm-1 1h5v1h-5zm1 1h3v1h-3zm-1 1h1v1h-1zm2 0h1v1h-1zm2 0h1v1h-1zM377 388h1v1h-1zm2 0h1v1h-1zm2 0h1v1h-1zm-3 1h3v1h-3zm-1 1h5v1h-5zm1 1h3v1h-3zm-1 1h1v1h-1zm2 0h1v1h-1zm2 0h1v1h-1zM377 383h1v1h-1zm2 0h1v1h-1zm2 0h1v1h-1zm-3 1h3v1h-3zm-1 1h5v1h-5zm1 1h3v1h-3zm-1 1h1v1h-1zm2 0h1v1h-1zm2 0h1v1h-1zM377 374h1v1h-1zm2 0h1v1h-1zm2 0h1v1h-1zm-3 1h3v1h-3zm-1 1h5v1h-5zm1 1h3v1h-3zm-1 1h1v1h-1zm2 0h1v1h-1zm2 0h1v1h-1zM377 369h1v1h-1zm2 0h1v1h-1zm2 0h1v1h-1zm-3 1h3v1h-3zm-1 1h5v1h-5zm1 1h3v1h-3zm-1 1h1v1h-1zm2 0h1v1h-1zm2 0h1v1h-1zM377 364h1v1h-1zm2 0h1v1h-1zm2 0h1v1h-1zm-3 1h3v1h-3zm-1 1h5v1h-5zm1 1h3v1h-3zm-1 1h1v1h-1zm2 0h1v1h-1zm2 0h1v1h-1zM377 359h1v1h-1zm2 0h1v1h-1zm2 0h1v1h-1zm-3 1h3v1h-3zm-1 1h5v1h-5zm1 1h3v1h-3zm-1 1h1v1h-1zm2 0h1v1h-1zm2 0h1v1h-1zM377 354h1v1h-1zm2 0h1v1h-1zm2 0h1v1h-1zm-3 1h3v1h-3zm-1 1h5v1h-5zm1 1h3v1h-3zm-1 1h1v1h-1zm2 0h1v1h-1zm2 0h1v1h-1zM377 306h1v1h-1zm2 0h1v1h-1zm2 0h1v1h-1zm-3 1h3v1h-3zm-1 1h5v1h-5zm1 1h3v1h-3zm-1 1h1v1h-1zm2 0h1v1h-1zm2 0h1v1h-1zM377 272h1v1h-1zm2 0h1v1h-1zm2 0h1v1h-1zm-3 1h3v1h-3zm-1 1h5v1h-5zm1 1h3v1h-3zm-1 1h1v1h-1zm2 0h1v1h-1zm2 0h1v1h-1zM377 267h1v1h-1zm2 0h1v1h-1zm2 0h1v1h-1zm-3 1h3v1h-3zm-1 1h5v1h-5zm1 1h3v1h-3zm-1 1h1v1h-1zm2 0h1v1h-1zm2 0h1v1h-1zM377 262h1v1h-1zm2 0h1v1h-1zm2 0h1v1h-1zm-3 1h3v1h-3zm-1 1h5v1h-5zm1 1h3v1h-3zm-1 1h1v1h-1zm2 0h1v1h-1zm2 0h1v1h-1zM377 218h1v1h-1zm2 0h1v1h-1zm2 0h1v1h-1zm-3 1h3v1h-3zm-1 1h5v1h-5zm1 1h3v1h-3zm-1 1h1v1h-1zm2 0h1v1h-1zm2 0h1v1h-1zM377 184h1v1h-1zm2 0h1v1h-1zm2 0h1v1h-1zm-3 1h3v1h-3zm-1 1h5v1h-5zm1 1h3v1h-3zm-1 1h1v1h-1zm2 0h1v1h-1zm2 0h1v1h-1zM377 179h1v1h-1zm2 0h1v1h-1zm2 0h1v1h-1zm-3 1h3v1h-3zm-1 1h5v1h-5zm1 1h3v1h-3zm-1 1h1v1h-1zm2 0h1v1h-1zm2 0h1v1h-1zM377 174h1v1h-1zm2 0h1v1h-1zm2 0h1v1h-1zm-3 1h3v1h-3zm-1 1h5v1h-5zm1 1h3v1h-3zm-1 1h1v1h-1zm2 0h1v1h-1zm2 0h1v1h-1zM377 131h1v1h-1zm2 0h1v1h-1zm2 0h1v1h-1zm-3 1h3v1h-3zm-1 1h5v1h-5zm1 1h3v1h-3zm-1 1h1v1h-1zm2 0h1v1h-1zm2 0h1v1h-1zM377 126h1v1h-1zm2 0h1v1h-1zm2 0h1v1h-1zm-3 1h3v1h-3zm-1 1h5v1h-5zm1 1h3v1h-3zm-1 1h1v1h-1zm2 0h1v1h-1zm2 0h1v1h-1zM377 121h1v1h-1zm2 0h1v1h-1zm2 0h1v1h-1zm-3 1h3v1h-3zm-1 1h5v1h-5zm1 1h3v1h-3zm-1 1h1v1h-1zm2 0h1v1h-1zm2 0h1v1h-1zM377 116h1v1h-1zm2 0h1v1h-1zm2 0h1v1h-1zm-3 1h3v1h-3zm-1 1h5v1h-5zm1 1h3v1h-3zm-1 1h1v1h-1zm2 0h1v1h-1zm2 0h1v1h-1zM377 111h1v1h-1zm2 0h1v1h-1zm2 0h1v1h-1zm-3 1h3v1h-3zm-1 1h5v1h-5zm1 1h3v1h-3zm-1 1h1v1h-1zm2 0h1v1h-1zm2 0h1v1h-1zM377 106h1v1h-1zm2 0h1v1h-1zm2 0h1v1h-1zm-3 1h3v1h-3zm-1 1h5v1h-5zm1 1h3v1h-3zm-1 1h1v1h-1zm2 0h1v1h-1zm2 0h1v1h-1zM377 101h1v1h-1zm2 0h1v1h-1zm2 0h1v1h-1zm-3 1h3v1h-3zm-1 1h5v1h-5zm1 1h3v1h-3zm-1 1h1v1h-1zm2 0h1v1h-1zm2 0h1v1h-1zM393 398h1v1h-1zm3 0h1v1h-1zm2 0h1v1h-1zm-4 1h4v1h-4zm-1 1h6v1h-6zm1 1h4v1h-4zm-1 1h1v1h-1zm3 0h1v1h-1zm2 0h1v1h-1zM393 393h1v1h-1zm3 0h1v1h-1zm2 0h1v1h-1zm-4 1h4v1h-4zm-1 1h6v1h-6zm1 1h4v1h-4zm-1 1h1v1h-1zm3 0h1v1h-1zm2 0h1v1h-1zM393 388h1v1h-1zm3 0h1v1h-1zm2 0h1v1h-1zm-4 1h4v1h-4zm-1 1h6v1h-6zm1 1h4v1h-4zm-1 1h1v1h-1zm3 0h1v1h-1zm2 0h1v1h-1zM393 383h1v1h-1zm3 0h1v1h-1zm2 0h1v1h-1zm-4 1h4v1h-4zm-1 1h6v1h-6zm1 1h4v1h-4zm-1 1h1v1h-1zm3 0h1v1h-1zm2 0h1v1h-1zM393 379h1v1h-1zm3 0h1v1h-1zm2 0h1v1h-1zm-4 1h4v1h-4zm-1 1h6v1h-6zm1 1h4v1h-4zm-1 1h1v1h-1zm3 0h1v1h-1zm2 0h1v1h-1zM393 374h1v1h-1zm3 0h1v1h-1zm2 0h1v1h-1zm-4 1h4v1h-4zm-1 1h6v1h-6zm1 1h4v1h-4zm-1 1h1v1h-1zm3 0h1v1h-1zm2 0h1v1h-1zM393 369h1v1h-1zm3 0h1v1h-1zm2 0h1v1h-1zm-4 1h4v1h-4zm-1 1h6v1h-6zm1 1h4v1h-4zm-1 1h1v1h-1zm3 0h1v1h-1zm2 0h1v1h-1zM393 286h1v1h-1zm3 0h1v1h-1zm2 0h1v1h-1zm-4 1h4v1h-4zm-1 1h6v1h-6zm1 1h4v1h-4zm-1 1h1v1h-1zm3 0h1v1h-1zm2 0h1v1h-1zM393 281h1v1h-1zm3 0h1v1h-1zm2 0h1v1h-1zm-4 1h4v1h-4zm-1 1h6v1h-6zm1 1h4v1h-4zm-1 1h1v1h-1zm3 0h1v1h-1zm2 0h1v1h-1zM393 276h1v1h-1zm3 0h1v1h-1zm2 0h1v1h-1zm-4 1h4v1h-4zm-1 1h6v1h-6zm1 1h4v1h-4zm-1 1h1v1h-1zm3 0h1v1h-1zm2 0h1v1h-1zM393 247h1v1h-1zm3 0h1v1h-1zm2 0h1v1h-1zm-4 1h4v1h-4zm-1 1h6v1h-6zm1 1h4v1h-4zm-1 1h1v1h-1zm3 0h1v1h-1zm2 0h1v1h-1zM393 228h1v1h-1zm3 0h1v1h-1zm2 0h1v1h-1zm-4 1h4v1h-4zm-1 1h6v1h-6zm1 1h4v1h-4zm-1 1h1v1h-1zm3 0h1v1h-1zm2 0h1v1h-1zM393 194h1v1h-1zm3 0h1v1h-1zm2 0h1v1h-1zm-4 1h4v1h-4zm-1 1h6v1h-6zm1 1h4v1h-4zm-1 1h1v1h-1zm3 0h1v1h-1zm2 0h1v1h-1zM393 189h1v1h-1zm3 0h1v1h-1zm2 0h1v1h-1zm-4 1h4v1h-4zm-1 1h6v1h-6zm1 1h4v1h-4zm-1 1h1v1h-1zm3 0h1v1h-1zm2 0h1v1h-1zM393 140h1v1h-1zm3 0h1v1h-1zm2 0h1v1h-1zm-4 1h4v1h-4zm-1 1h6v1h-6zm1 1h4v1h-4zm-1 1h1v1h-1zm3 0h1v1h-1zm2 0h1v1h-1zM393 135h1v1h-1zm3 0h1v1h-1zm2 0h1v1h-1zm-4 1h4v1h-4zm-1 1h6v1h-6zm1 1h4v1h-4zm-1 1h1v1h-1zm3 0h1v1h-1zm2 0h1v1h-1zM393 131h1v1h-1zm3 0h1v1h-1zm2 0h1v1h-1zm-4 1h4v1h-4zm-1 1h6v1h-6zm1 1h4v1h-4zm-1 1h1v1h-1zm3 0h1v1h-1zm2 0h1v1h-1zM393 126h1v1h-1zm3 0h1v1h-1zm2 0h1v1h-1zm-4 1h4v1h-4zm-1 1h6v1h-6zm1 1h4v1h-4zm-1 1h1v1h-1zm3 0h1v1h-1zm2 0h1v1h-1zM393 121h1v1h-1zm3 0h1v1h-1zm2 0h1v1h-1zm-4 1h4v1h-4zm-1 1h6v1h-6zm1 1h4v1h-4zm-1 1h1v1h-1zm3 0h1v1h-1zm2 0h1v1h-1zM393 116h1v1h-1zm3 0h1v1h-1zm2 0h1v1h-1zm-4 1h4v1h-4zm-1 1h6v1h-6zm1 1h4v1h-4zm-1 1h1v1h-1zm3 0h1v1h-1zm2 0h1v1h-1zM393 111h1v1h-1zm3 0h1v1h-1zm2 0h1v1h-1zm-4 1h4v1h-4zm-1 1h6v1h-6zm1 1h4v1h-4zm-1 1h1v1h-1zm3 0h1v1h-1zm2 0h1v1h-1zM410 413h1v1h-1zm3 0h1v1h-1zm2 0h1v1h-1zm-4 1h4v1h-4zm-1 1h6v1h-6zm1 1h4v1h-4zm-1 1h1v1h-1zm3 0h1v1h-1zm2 0h1v1h-1zM410 408h1v1h-1zm3 0h1v1h-1zm2 0h1v1h-1zm-4 1h4v1h-4zm-1 1h6v1h-6zm1 1h4v1h-4zm-1 1h1v1h-1zm3 0h1v1h-1zm2 0h1v1h-1zM410 403h1v1h-1zm3 0h1v1h-1zm2 0h1v1h-1zm-4 1h4v1h-4zm-1 1h6v1h-6zm1 1h4v1h-4zm-1 1h1v1h-1zm3 0h1v1h-1zm2 0h1v1h-1zM410 398h1v1h-1zm3 0h1v1h-1zm2 0h1v1h-1zm-4 1h4v1h-4zm-1 1h6v1h-6zm1 1h4v1h-4zm-1 1h1v1h-1zm3 0h1v1h-1zm2 0h1v1h-1zM410 393h1v1h-1zm3 0h1v1h-1zm2 0h1v1h-1zm-4 1h4v1h-4zm-1 1h6v1h-6zm1 1h4v1h-4zm-1 1h1v1h-1zm3 0h1v1h-1zm2 0h1v1h-1zM410 388h1v1h-1zm3 0h1v1h-1zm2 0h1v1h-1zm-4 1h4v1h-4zm-1 1h6v1h-6zm1 1h4v1h-4zm-1 1h1v1h-1zm3 0h1v1h-1zm2 0h1v1h-1zM410 383h1v1h-1zm3 0h1v1h-1zm2 0h1v1h-1zm-4 1h4v1h-4zm-1 1h6v1h-6zm1 1h4v1h-4zm-1 1h1v1h-1zm3 0h1v1h-1zm2 0h1v1h-1zM410 379h1v1h-1zm3 0h1v1h-1zm2 0h1v1h-1zm-4 1h4v1h-4zm-1 1h6v1h-6zm1 1h4v1h-4zm-1 1h1v1h-1zm3 0h1v1h-1zm2 0h1v1h-1zM410 345h1v1h-1zm3 0h1v1h-1zm2 0h1v1h-1zm-4 1h4v1h-4zm-1 1h6v1h-6zm1 1h4v1h-4zm-1 1h1v1h-1zm3 0h1v1h-1zm2 0h1v1h-1zM410 330h1v1h-1zm3 0h1v1h-1zm2 0h1v1h-1zm-4 1h4v1h-4zm-1 1h6v1h-6zm1 1h4v1h-4zm-1 1h1v1h-1zm3 0h1v1h-1zm2 0h1v1h-1zM410 301h1v1h-1zm3 0h1v1h-1zm2 0h1v1h-1zm-4 1h4v1h-4zm-1 1h6v1h-6zm1 1h4v1h-4zm-1 1h1v1h-1zm3 0h1v1h-1zm2 0h1v1h-1zM410 296h1v1h-1zm3 0h1v1h-1zm2 0h1v1h-1zm-4 1h4v1h-4zm-1 1h6v1h-6zm1 1h4v1h-4zm-1 1h1v1h-1zm3 0h1v1h-1zm2 0h1v1h-1zM410 291h1v1h-1zm3 0h1v1h-1zm2 0h1v1h-1zm-4 1h4v1h-4zm-1 1h6v1h-6zm1 1h4v1h-4zm-1 1h1v1h-1zm3 0h1v1h-1zm2 0h1v1h-1zM410 242h1v1h-1zm3 0h1v1h-1zm2 0h1v1h-1zm-4 1h4v1h-4zm-1 1h6v1h-6zm1 1h4v1h-4zm-1 1h1v1h-1zm3 0h1v1h-1zm2 0h1v1h-1zM410 208h1v1h-1zm3 0h1v1h-1zm2 0h1v1h-1zm-4 1h4v1h-4zm-1 1h6v1h-6zm1 1h4v1h-4zm-1 1h1v1h-1zm3 0h1v1h-1zm2 0h1v1h-1zM410 204h1v1h-1zm3 0h1v1h-1zm2 0h1v1h-1zm-4 1h4v1h-4zm-1 1h6v1h-6zm1 1h4v1h-4zm-1 1h1v1h-1zm3 0h1v1h-1zm2 0h1v1h-1zM410 199h1v1h-1zm3 0h1v1h-1zm2 0h1v1h-1zm-4 1h4v1h-4zm-1 1h6v1h-6zm1 1h4v1h-4zm-1 1h1v1h-1zm3 0h1v1h-1zm2 0h1v1h-1zM410 155h1v1h-1zm3 0h1v1h-1zm2 0h1v1h-1zm-4 1h4v1h-4zm-1 1h6v1h-6zm1 1h4v1h-4zm-1 1h1v1h-1zm3 0h1v1h-1zm2 0h1v1h-1zM410 150h1v1h-1zm3 0h1v1h-1zm2 0h1v1h-1zm-4 1h4v1h-4zm-1 1h6v1h-6zm1 1h4v1h-4zm-1 1h1v1h-1zm3 0h1v1h-1zm2 0h1v1h-1zM410 145h1v1h-1zm3 0h1v1h-1zm2 0h1v1h-1zm-4 1h4v1h-4zm-1 1h6v1h-6zm1 1h4v1h-4zm-1 1h1v1h-1zm3 0h1v1h-1zm2 0h1v1h-1zM410 140h1v1h-1zm3 0h1v1h-1zm2 0h1v1h-1zm-4 1h4v1h-4zm-1 1h6v1h-6zm1 1h4v1h-4zm-1 1h1v1h-1zm3 0h1v1h-1zm2 0h1v1h-1zM410 135h1v1h-1zm3 0h1v1h-1zm2 0h1v1h-1zm-4 1h4v1h-4zm-1 1h6v1h-6zm1 1h4v1h-4zm-1 1h1v1h-1zm3 0h1v1h-1zm2 0h1v1h-1zM410 131h1v1h-1zm3 0h1v1h-1zm2 0h1v1h-1zm-4 1h4v1h-4zm-1 1h6v1h-6zm1 1h4v1h-4zm-1 1h1v1h-1zm3 0h1v1h-1zm2 0h1v1h-1zM410 126h1v1h-1zm3 0h1v1h-1zm2 0h1v1h-1zm-4 1h4v1h-4zm-1 1h6v1h-6zm1 1h4v1h-4zm-1 1h1v1h-1zm3 0h1v1h-1zm2 0h1v1h-1zM410 121h1v1h-1zm3 0h1v1h-1zm2 0h1v1h-1zm-4 1h4v1h-4zm-1 1h6v1h-6zm1 1h4v1h-4zm-1 1h1v1h-1zm3 0h1v1h-1zm2 0h1v1h-1zM427 422h1v1h-1zm2 0h1v1h-1zm2 0h1v1h-1zm-3 1h3v1h-3zm-1 1h5v1h-5zm1 1h3v1h-3zm-1 1h1v1h-1zm2 0h1v1h-1zm2 0h1v1h-1zM427 417h1v1h-1zm2 0h1v1h-1zm2 0h1v1h-1zm-3 1h3v1h-3zm-1 1h5v1h-5zm1 1h3v1h-3zm-1 1h1v1h-1zm2 0h1v1h-1zm2 0h1v1h-1zM427 413h1v1h-1zm2 0h1v1h-1zm2 0h1v1h-1zm-3 1h3v1h-3zm-1 1h5v1h-5zm1 1h3v1h-3zm-1 1h1v1h-1zm2 0h1v1h-1zm2 0h1v1h-1zM427 408h1v1h-1zm2 0h1v1h-1zm2 0h1v1h-1zm-3 1h3v1h-3zm-1 1h5v1h-5zm1 1h3v1h-3zm-1 1h1v1h-1zm2 0h1v1h-1zm2 0h1v1h-1zM427 403h1v1h-1zm2 0h1v1h-1zm2 0h1v1h-1zm-3 1h3v1h-3zm-1 1h5v1h-5zm1 1h3v1h-3zm-1 1h1v1h-1zm2 0h1v1h-1zm2 0h1v1h-1zM427 398h1v1h-1zm2 0h1v1h-1zm2 0h1v1h-1zm-3 1h3v1h-3zm-1 1h5v1h-5zm1 1h3v1h-3zm-1 1h1v1h-1zm2 0h1v1h-1zm2 0h1v1h-1zM427 393h1v1h-1zm2 0h1v1h-1zm2 0h1v1h-1zm-3 1h3v1h-3zm-1 1h5v1h-5zm1 1h3v1h-3zm-1 1h1v1h-1zm2 0h1v1h-1zm2 0h1v1h-1zM427 315h1v1h-1zm2 0h1v1h-1zm2 0h1v1h-1zm-3 1h3v1h-3zm-1 1h5v1h-5zm1 1h3v1h-3zm-1 1h1v1h-1zm2 0h1v1h-1zm2 0h1v1h-1zM427 310h1v1h-1zm2 0h1v1h-1zm2 0h1v1h-1zm-3 1h3v1h-3zm-1 1h5v1h-5zm1 1h3v1h-3zm-1 1h1v1h-1zm2 0h1v1h-1zm2 0h1v1h-1zM427 306h1v1h-1zm2 0h1v1h-1zm2 0h1v1h-1zm-3 1h3v1h-3zm-1 1h5v1h-5zm1 1h3v1h-3zm-1 1h1v1h-1zm2 0h1v1h-1zm2 0h1v1h-1zM427 257h1v1h-1zm2 0h1v1h-1zm2 0h1v1h-1zm-3 1h3v1h-3zm-1 1h5v1h-5zm1 1h3v1h-3zm-1 1h1v1h-1zm2 0h1v1h-1zm2 0h1v1h-1zM427 218h1v1h-1zm2 0h1v1h-1zm2 0h1v1h-1zm-3 1h3v1h-3zm-1 1h5v1h-5zm1 1h3v1h-3zm-1 1h1v1h-1zm2 0h1v1h-1zm2 0h1v1h-1zM427 213h1v1h-1zm2 0h1v1h-1zm2 0h1v1h-1zm-3 1h3v1h-3zm-1 1h5v1h-5zm1 1h3v1h-3zm-1 1h1v1h-1zm2 0h1v1h-1zm2 0h1v1h-1zM427 170h1v1h-1zm2 0h1v1h-1zm2 0h1v1h-1zm-3 1h3v1h-3zm-1 1h5v1h-5zm1 1h3v1h-3zm-1 1h1v1h-1zm2 0h1v1h-1zm2 0h1v1h-1zM427 165h1v1h-1zm2 0h1v1h-1zm2 0h1v1h-1zm-3 1h3v1h-3zm-1 1h5v1h-5zm1 1h3v1h-3zm-1 1h1v1h-1zm2 0h1v1h-1zm2 0h1v1h-1zM427 160h1v1h-1zm2 0h1v1h-1zm2 0h1v1h-1zm-3 1h3v1h-3zm-1 1h5v1h-5zm1 1h3v1h-3zm-1 1h1v1h-1zm2 0h1v1h-1zm2 0h1v1h-1zM427 150h1v1h-1zm2 0h1v1h-1zm2 0h1v1h-1zm-3 1h3v1h-3zm-1 1h5v1h-5zm1 1h3v1h-3zm-1 1h1v1h-1zm2 0h1v1h-1zm2 0h1v1h-1zM427 145h1v1h-1zm2 0h1v1h-1zm2 0h1v1h-1zm-3 1h3v1h-3zm-1 1h5v1h-5zm1 1h3v1h-3zm-1 1h1v1h-1zm2 0h1v1h-1zm2 0h1v1h-1zM427 140h1v1h-1zm2 0h1v1h-1zm2 0h1v1h-1zm-3 1h3v1h-3zm-1 1h5v1h-5zm1 1h3v1h-3zm-1 1h1v1h-1zm2 0h1v1h-1zm2 0h1v1h-1zM427 135h1v1h-1zm2 0h1v1h-1zm2 0h1v1h-1zm-3 1h3v1h-3zm-1 1h5v1h-5zm1 1h3v1h-3zm-1 1h1v1h-1zm2 0h1v1h-1zm2 0h1v1h-1zM427 82h1v1h-1zm2 0h1v1h-1zm2 0h1v1h-1zm-3 1h3v1h-3zm-1 1h5v1h-5zm1 1h3v1h-3zm-1 1h1v1h-1zm2 0h1v1h-1zm2 0h1v1h-1zM427 77h1v1h-1zm2 0h1v1h-1zm2 0h1v1h-1zm-3 1h3v1h-3zm-1 1h5v1h-5zm1 1h3v1h-3zm-1 1h1v1h-1zm2 0h1v1h-1zm2 0h1v1h-1zM444 422h1v1h-1zm2 0h1v1h-1zm2 0h1v1h-1zm-3 1h3v1h-3zm-1 1h5v1h-5zm1 1h3v1h-3zm-1 1h1v1h-1zm2 0h1v1h-1zm2 0h1v1h-1zM444 417h1v1h-1zm2 0h1v1h-1zm2 0h1v1h-1zm-3 1h3v1h-3zm-1 1h5v1h-5zm1 1h3v1h-3zm-1 1h1v1h-1zm2 0h1v1h-1zm2 0h1v1h-1zM444 413h1v1h-1zm2 0h1v1h-1zm2 0h1v1h-1zm-3 1h3v1h-3zm-1 1h5v1h-5zm1 1h3v1h-3zm-1 1h1v1h-1zm2 0h1v1h-1zm2 0h1v1h-1zM444 408h1v1h-1zm2 0h1v1h-1zm2 0h1v1h-1zm-3 1h3v1h-3zm-1 1h5v1h-5zm1 1h3v1h-3zm-1 1h1v1h-1zm2 0h1v1h-1zm2 0h1v1h-1zM444 369h1v1h-1zm2 0h1v1h-1zm2 0h1v1h-1zm-3 1h3v1h-3zm-1 1h5v1h-5zm1 1h3v1h-3zm-1 1h1v1h-1zm2 0h1v1h-1zm2 0h1v1h-1zM444 354h1v1h-1zm2 0h1v1h-1zm2 0h1v1h-1zm-3 1h3v1h-3zm-1 1h5v1h-5zm1 1h3v1h-3zm-1 1h1v1h-1zm2 0h1v1h-1zm2 0h1v1h-1zM444 330h1v1h-1zm2 0h1v1h-1zm2 0h1v1h-1zm-3 1h3v1h-3zm-1 1h5v1h-5zm1 1h3v1h-3zm-1 1h1v1h-1zm2 0h1v1h-1zm2 0h1v1h-1zM444 325h1v1h-1zm2 0h1v1h-1zm2 0h1v1h-1zm-3 1h3v1h-3zm-1 1h5v1h-5zm1 1h3v1h-3zm-1 1h1v1h-1zm2 0h1v1h-1zm2 0h1v1h-1zM444 320h1v1h-1zm2 0h1v1h-1zm2 0h1v1h-1zm-3 1h3v1h-3zm-1 1h5v1h-5zm1 1h3v1h-3zm-1 1h1v1h-1zm2 0h1v1h-1zm2 0h1v1h-1zM444 315h1v1h-1zm2 0h1v1h-1zm2 0h1v1h-1zm-3 1h3v1h-3zm-1 1h5v1h-5zm1 1h3v1h-3zm-1 1h1v1h-1zm2 0h1v1h-1zm2 0h1v1h-1zM444 267h1v1h-1zm2 0h1v1h-1zm2 0h1v1h-1zm-3 1h3v1h-3zm-1 1h5v1h-5zm1 1h3v1h-3zm-1 1h1v1h-1zm2 0h1v1h-1zm2 0h1v1h-1zM444 233h1v1h-1zm2 0h1v1h-1zm2 0h1v1h-1zm-3 1h3v1h-3zm-1 1h5v1h-5zm1 1h3v1h-3zm-1 1h1v1h-1zm2 0h1v1h-1zm2 0h1v1h-1zM444 228h1v1h-1zm2 0h1v1h-1zm2 0h1v1h-1zm-3 1h3v1h-3zm-1 1h5v1h-5zm1 1h3v1h-3zm-1 1h1v1h-1zm2 0h1v1h-1zm2 0h1v1h-1zM444 179h1v1h-1zm2 0h1v1h-1zm2 0h1v1h-1zm-3 1h3v1h-3zm-1 1h5v1h-5zm1 1h3v1h-3zm-1 1h1v1h-1zm2 0h1v1h-1zm2 0h1v1h-1zM444 174h1v1h-1zm2 0h1v1h-1zm2 0h1v1h-1zm-3 1h3v1h-3zm-1 1h5v1h-5zm1 1h3v1h-3zm-1 1h1v1h-1zm2 0h1v1h-1zm2 0h1v1h-1zM444 155h1v1h-1zm2 0h1v1h-1zm2 0h1v1h-1zm-3 1h3v1h-3zm-1 1h5v1h-5zm1 1h3v1h-3zm-1 1h1v1h-1zm2 0h1v1h-1zm2 0h1v1h-1zM444 150h1v1h-1zm2 0h1v1h-1zm2 0h1v1h-1zm-3 1h3v1h-3zm-1 1h5v1h-5zm1 1h3v1h-3zm-1 1h1v1h-1zm2 0h1v1h-1zm2 0h1v1h-1zM444 145h1v1h-1zm2 0h1v1h-1zm2 0h1v1h-1zm-3 1h3v1h-3zm-1 1h5v1h-5zm1 1h3v1h-3zm-1 1h1v1h-1zm2 0h1v1h-1zm2 0h1v1h-1zM444 97h1v1h-1zm2 0h1v1h-1zm2 0h1v1h-1zm-3 1h3v1h-3zm-1 1h5v1h-5zm1 1h3v1h-3zm-1 1h1v1h-1zm2 0h1v1h-1zm2 0h1v1h-1zM444 92h1v1h-1zm2 0h1v1h-1zm2 0h1v1h-1zm-3 1h3v1h-3zm-1 1h5v1h-5zm1 1h3v1h-3zm-1 1h1v1h-1zm2 0h1v1h-1zm2 0h1v1h-1zM444 87h1v1h-1zm2 0h1v1h-1zm2 0h1v1h-1zm-3 1h3v1h-3zm-1 1h5v1h-5zm1 1h3v1h-3zm-1 1h1v1h-1zm2 0h1v1h-1zm2 0h1v1h-1zM444 82h1v1h-1zm2 0h1v1h-1zm2 0h1v1h-1zm-3 1h3v1h-3zm-1 1h5v1h-5zm1 1h3v1h-3zm-1 1h1v1h-1zm2 0h1v1h-1zm2 0h1v1h-1zM444 77h1v1h-1zm2 0h1v1h-1zm2 0h1v1h-1zm-3 1h3v1h-3zm-1 1h5v1h-5zm1 1h3v1h-3zm-1 1h1v1h-1zm2 0h1v1h-1zm2 0h1v1h-1zM461 422h1v1h-1zm2 0h1v1h-1zm2 0h1v1h-1zm-3 1h3v1h-3zm-1 1h5v1h-5zm1 1h3v1h-3zm-1 1h1v1h-1zm2 0h1v1h-1zm2 0h1v1h-1zM461 417h1v1h-1zm2 0h1v1h-1zm2 0h1v1h-1zm-3 1h3v1h-3zm-1 1h5v1h-5zm1 1h3v1h-3zm-1 1h1v1h-1zm2 0h1v1h-1zm2 0h1v1h-1zM461 364h1v1h-1zm2 0h1v1h-1zm2 0h1v1h-1zm-3 1h3v1h-3zm-1 1h5v1h-5zm1 1h3v1h-3zm-1 1h1v1h-1zm2 0h1v1h-1zm2 0h1v1h-1zM461 345h1v1h-1zm2 0h1v1h-1zm2 0h1v1h-1zm-3 1h3v1h-3zm-1 1h5v1h-5zm1 1h3v1h-3zm-1 1h1v1h-1zm2 0h1v1h-1zm2 0h1v1h-1zM461 340h1v1h-1zm2 0h1v1h-1zm2 0h1v1h-1zm-3 1h3v1h-3zm-1 1h5v1h-5zm1 1h3v1h-3zm-1 1h1v1h-1zm2 0h1v1h-1zm2 0h1v1h-1zM461 335h1v1h-1zm2 0h1v1h-1zm2 0h1v1h-1zm-3 1h3v1h-3zm-1 1h5v1h-5zm1 1h3v1h-3zm-1 1h1v1h-1zm2 0h1v1h-1zm2 0h1v1h-1zM461 330h1v1h-1zm2 0h1v1h-1zm2 0h1v1h-1zm-3 1h3v1h-3zm-1 1h5v1h-5zm1 1h3v1h-3zm-1 1h1v1h-1zm2 0h1v1h-1zm2 0h1v1h-1zM461 281h1v1h-1zm2 0h1v1h-1zm2 0h1v1h-1zm-3 1h3v1h-3zm-1 1h5v1h-5zm1 1h3v1h-3zm-1 1h1v1h-1zm2 0h1v1h-1zm2 0h1v1h-1zM461 242h1v1h-1zm2 0h1v1h-1zm2 0h1v1h-1zm-3 1h3v1h-3zm-1 1h5v1h-5zm1 1h3v1h-3zm-1 1h1v1h-1zm2 0h1v1h-1zm2 0h1v1h-1zM461 238h1v1h-1zm2 0h1v1h-1zm2 0h1v1h-1zm-3 1h3v1h-3zm-1 1h5v1h-5zm1 1h3v1h-3zm-1 1h1v1h-1zm2 0h1v1h-1zm2 0h1v1h-1zM461 194h1v1h-1zm2 0h1v1h-1zm2 0h1v1h-1zm-3 1h3v1h-3zm-1 1h5v1h-5zm1 1h3v1h-3zm-1 1h1v1h-1zm2 0h1v1h-1zm2 0h1v1h-1zM461 189h1v1h-1zm2 0h1v1h-1zm2 0h1v1h-1zm-3 1h3v1h-3zm-1 1h5v1h-5zm1 1h3v1h-3zm-1 1h1v1h-1zm2 0h1v1h-1zm2 0h1v1h-1zM461 165h1v1h-1zm2 0h1v1h-1zm2 0h1v1h-1zm-3 1h3v1h-3zm-1 1h5v1h-5zm1 1h3v1h-3zm-1 1h1v1h-1zm2 0h1v1h-1zm2 0h1v1h-1zM461 160h1v1h-1zm2 0h1v1h-1zm2 0h1v1h-1zm-3 1h3v1h-3zm-1 1h5v1h-5zm1 1h3v1h-3zm-1 1h1v1h-1zm2 0h1v1h-1zm2 0h1v1h-1zM461 155h1v1h-1zm2 0h1v1h-1zm2 0h1v1h-1zm-3 1h3v1h-3zm-1 1h5v1h-5zm1 1h3v1h-3zm-1 1h1v1h-1zm2 0h1v1h-1zm2 0h1v1h-1zM461 106h1v1h-1zm2 0h1v1h-1zm2 0h1v1h-1zm-3 1h3v1h-3zm-1 1h5v1h-5zm1 1h3v1h-3zm-1 1h1v1h-1zm2 0h1v1h-1zm2 0h1v1h-1zM461 101h1v1h-1zm2 0h1v1h-1zm2 0h1v1h-1zm-3 1h3v1h-3zm-1 1h5v1h-5zm1 1h3v1h-3zm-1 1h1v1h-1zm2 0h1v1h-1zm2 0h1v1h-1zM461 97h1v1h-1zm2 0h1v1h-1zm2 0h1v1h-1zm-3 1h3v1h-3zm-1 1h5v1h-5zm1 1h3v1h-3zm-1 1h1v1h-1zm2 0h1v1h-1zm2 0h1v1h-1zM461 92h1v1h-1zm2 0h1v1h-1zm2 0h1v1h-1zm-3 1h3v1h-3zm-1 1h5v1h-5zm1 1h3v1h-3zm-1 1h1v1h-1zm2 0h1v1h-1zm2 0h1v1h-1zM461 87h1v1h-1zm2 0h1v1h-1zm2 0h1v1h-1zm-3 1h3v1h-3zm-1 1h5v1h-5zm1 1h3v1h-3zm-1 1h1v1h-1zm2 0h1v1h-1zm2 0h1v1h-1zM461 82h1v1h-1zm2 0h1v1h-1zm2 0h1v1h-1zm-3 1h3v1h-3zm-1 1h5v1h-5zm1 1h3v1h-3zm-1 1h1v1h-1zm2 0h1v1h-1zm2 0h1v1h-1zM477 379h1v1h-1zm3 0h1v1h-1zm2 0h1v1h-1zm-4 1h4v1h-4zm-1 1h6v1h-6zm1 1h4v1h-4zm-1 1h1v1h-1zm3 0h1v1h-1zm2 0h1v1h-1zM477 359h1v1h-1zm3 0h1v1h-1zm2 0h1v1h-1zm-4 1h4v1h-4zm-1 1h6v1h-6zm1 1h4v1h-4zm-1 1h1v1h-1zm3 0h1v1h-1zm2 0h1v1h-1zM477 354h1v1h-1zm3 0h1v1h-1zm2 0h1v1h-1zm-4 1h4v1h-4zm-1 1h6v1h-6zm1 1h4v1h-4zm-1 1h1v1h-1zm3 0h1v1h-1zm2 0h1v1h-1zM477 349h1v1h-1zm3 0h1v1h-1zm2 0h1v1h-1zm-4 1h4v1h-4zm-1 1h6v1h-6zm1 1h4v1h-4zm-1 1h1v1h-1zm3 0h1v1h-1zm2 0h1v1h-1zM477 345h1v1h-1zm3 0h1v1h-1zm2 0h1v1h-1zm-4 1h4v1h-4zm-1 1h6v1h-6zm1 1h4v1h-4zm-1 1h1v1h-1zm3 0h1v1h-1zm2 0h1v1h-1zM477 310h1v1h-1zm3 0h1v1h-1zm2 0h1v1h-1zm-4 1h4v1h-4zm-1 1h6v1h-6zm1 1h4v1h-4zm-1 1h1v1h-1zm3 0h1v1h-1zm2 0h1v1h-1zM477 257h1v1h-1zm3 0h1v1h-1zm2 0h1v1h-1zm-4 1h4v1h-4zm-1 1h6v1h-6zm1 1h4v1h-4zm-1 1h1v1h-1zm3 0h1v1h-1zm2 0h1v1h-1zM477 252h1v1h-1zm3 0h1v1h-1zm2 0h1v1h-1zm-4 1h4v1h-4zm-1 1h6v1h-6zm1 1h4v1h-4zm-1 1h1v1h-1zm3 0h1v1h-1zm2 0h1v1h-1zM477 223h1v1h-1zm3 0h1v1h-1zm2 0h1v1h-1zm-4 1h4v1h-4zm-1 1h6v1h-6zm1 1h4v1h-4zm-1 1h1v1h-1zm3 0h1v1h-1zm2 0h1v1h-1zM477 204h1v1h-1zm3 0h1v1h-1zm2 0h1v1h-1zm-4 1h4v1h-4zm-1 1h6v1h-6zm1 1h4v1h-4zm-1 1h1v1h-1zm3 0h1v1h-1zm2 0h1v1h-1zM477 174h1v1h-1zm3 0h1v1h-1zm2 0h1v1h-1zm-4 1h4v1h-4zm-1 1h6v1h-6zm1 1h4v1h-4zm-1 1h1v1h-1zm3 0h1v1h-1zm2 0h1v1h-1zM477 170h1v1h-1zm3 0h1v1h-1zm2 0h1v1h-1zm-4 1h4v1h-4zm-1 1h6v1h-6zm1 1h4v1h-4zm-1 1h1v1h-1zm3 0h1v1h-1zm2 0h1v1h-1zM477 121h1v1h-1zm3 0h1v1h-1zm2 0h1v1h-1zm-4 1h4v1h-4zm-1 1h6v1h-6zm1 1h4v1h-4zm-1 1h1v1h-1zm3 0h1v1h-1zm2 0h1v1h-1zM477 116h1v1h-1zm3 0h1v1h-1zm2 0h1v1h-1zm-4 1h4v1h-4zm-1 1h6v1h-6zm1 1h4v1h-4zm-1 1h1v1h-1zm3 0h1v1h-1zm2 0h1v1h-1zM477 111h1v1h-1zm3 0h1v1h-1zm2 0h1v1h-1zm-4 1h4v1h-4zm-1 1h6v1h-6zm1 1h4v1h-4zm-1 1h1v1h-1zm3 0h1v1h-1zm2 0h1v1h-1zM477 106h1v1h-1zm3 0h1v1h-1zm2 0h1v1h-1zm-4 1h4v1h-4zm-1 1h6v1h-6zm1 1h4v1h-4zm-1 1h1v1h-1zm3 0h1v1h-1zm2 0h1v1h-1zM477 101h1v1h-1zm3 0h1v1h-1zm2 0h1v1h-1zm-4 1h4v1h-4zm-1 1h6v1h-6zm1 1h4v1h-4zm-1 1h1v1h-1zm3 0h1v1h-1zm2 0h1v1h-1zM477 97h1v1h-1zm3 0h1v1h-1zm2 0h1v1h-1zm-4 1h4v1h-4zm-1 1h6v1h-6zm1 1h4v1h-4zm-1 1h1v1h-1zm3 0h1v1h-1zm2 0h1v1h-1zM477 92h1v1h-1zm3 0h1v1h-1zm2 0h1v1h-1zm-4 1h4v1h-4zm-1 1h6v1h-6zm1 1h4v1h-4zm-1 1h1v1h-1zm3 0h1v1h-1zm2 0h1v1h-1zM494 388h1v1h-1zm3 0h1v1h-1zm2 0h1v1h-1zm-4 1h4v1h-4zm-1 1h6v1h-6zm1 1h4v1h-4zm-1 1h1v1h-1zm3 0h1v1h-1zm2 0h1v1h-1zM494 374h1v1h-1zm3 0h1v1h-1zm2 0h1v1h-1zm-4 1h4v1h-4zm-1 1h6v1h-6zm1 1h4v1h-4zm-1 1h1v1h-1zm3 0h1v1h-1zm2 0h1v1h-1zM494 369h1v1h-1zm3 0h1v1h-1zm2 0h1v1h-1zm-4 1h4v1h-4zm-1 1h6v1h-6zm1 1h4v1h-4zm-1 1h1v1h-1zm3 0h1v1h-1zm2 0h1v1h-1zM494 364h1v1h-1zm3 0h1v1h-1zm2 0h1v1h-1zm-4 1h4v1h-4zm-1 1h6v1h-6zm1 1h4v1h-4zm-1 1h1v1h-1zm3 0h1v1h-1zm2 0h1v1h-1zM494 359h1v1h-1zm3 0h1v1h-1zm2 0h1v1h-1zm-4 1h4v1h-4zm-1 1h6v1h-6zm1 1h4v1h-4zm-1 1h1v1h-1zm3 0h1v1h-1zm2 0h1v1h-1zM494 354h1v1h-1zm3 0h1v1h-1zm2 0h1v1h-1zm-4 1h4v1h-4zm-1 1h6v1h-6zm1 1h4v1h-4zm-1 1h1v1h-1zm3 0h1v1h-1zm2 0h1v1h-1zM494 306h1v1h-1zm3 0h1v1h-1zm2 0h1v1h-1zm-4 1h4v1h-4zm-1 1h6v1h-6zm1 1h4v1h-4zm-1 1h1v1h-1zm3 0h1v1h-1zm2 0h1v1h-1zM494 272h1v1h-1zm3 0h1v1h-1zm2 0h1v1h-1zm-4 1h4v1h-4zm-1 1h6v1h-6zm1 1h4v1h-4zm-1 1h1v1h-1zm3 0h1v1h-1zm2 0h1v1h-1zM494 267h1v1h-1zm3 0h1v1h-1zm2 0h1v1h-1zm-4 1h4v1h-4zm-1 1h6v1h-6zm1 1h4v1h-4zm-1 1h1v1h-1zm3 0h1v1h-1zm2 0h1v1h-1zM494 218h1v1h-1zm3 0h1v1h-1zm2 0h1v1h-1zm-4 1h4v1h-4zm-1 1h6v1h-6zm1 1h4v1h-4zm-1 1h1v1h-1zm3 0h1v1h-1zm2 0h1v1h-1zM494 189h1v1h-1zm3 0h1v1h-1zm2 0h1v1h-1zm-4 1h4v1h-4zm-1 1h6v1h-6zm1 1h4v1h-4zm-1 1h1v1h-1zm3 0h1v1h-1zm2 0h1v1h-1zM494 184h1v1h-1zm3 0h1v1h-1zm2 0h1v1h-1zm-4 1h4v1h-4zm-1 1h6v1h-6zm1 1h4v1h-4zm-1 1h1v1h-1zm3 0h1v1h-1zm2 0h1v1h-1zM494 179h1v1h-1zm3 0h1v1h-1zm2 0h1v1h-1zm-4 1h4v1h-4zm-1 1h6v1h-6zm1 1h4v1h-4zm-1 1h1v1h-1zm3 0h1v1h-1zm2 0h1v1h-1zM494 131h1v1h-1zm3 0h1v1h-1zm2 0h1v1h-1zm-4 1h4v1h-4zm-1 1h6v1h-6zm1 1h4v1h-4zm-1 1h1v1h-1zm3 0h1v1h-1zm2 0h1v1h-1zM494 126h1v1h-1zm3 0h1v1h-1zm2 0h1v1h-1zm-4 1h4v1h-4zm-1 1h6v1h-6zm1 1h4v1h-4zm-1 1h1v1h-1zm3 0h1v1h-1zm2 0h1v1h-1zM494 121h1v1h-1zm3 0h1v1h-1zm2 0h1v1h-1zm-4 1h4v1h-4zm-1 1h6v1h-6zm1 1h4v1h-4zm-1 1h1v1h-1zm3 0h1v1h-1zm2 0h1v1h-1zM494 116h1v1h-1zm3 0h1v1h-1zm2 0h1v1h-1zm-4 1h4v1h-4zm-1 1h6v1h-6zm1 1h4v1h-4zm-1 1h1v1h-1zm3 0h1v1h-1zm2 0h1v1h-1zM494 111h1v1h-1zm3 0h1v1h-1zm2 0h1v1h-1zm-4 1h4v1h-4zm-1 1h6v1h-6zm1 1h4v1h-4zm-1 1h1v1h-1zm3 0h1v1h-1zm2 0h1v1h-1zM494 106h1v1h-1zm3 0h1v1h-1zm2 0h1v1h-1zm-4 1h4v1h-4zm-1 1h6v1h-6zm1 1h4v1h-4zm-1 1h1v1h-1zm3 0h1v1h-1zm2 0h1v1h-1zM494 101h1v1h-1zm3 0h1v1h-1zm2 0h1v1h-1zm-4 1h4v1h-4zm-1 1h6v1h-6zm1 1h4v1h-4zm-1 1h1v1h-1zm3 0h1v1h-1zm2 0h1v1h-1zM511 403h1v1h-1zm2 0h1v1h-1zm2 0h1v1h-1zm-3 1h3v1h-3zm-1 1h5v1h-5zm1 1h3v1h-3zm-1 1h1v1h-1zm2 0h1v1h-1zm2 0h1v1h-1zM511 398h1v1h-1zm2 0h1v1h-1zm2 0h1v1h-1zm-3 1h3v1h-3zm-1 1h5v1h-5zm1 1h3v1h-3zm-1 1h1v1h-1zm2 0h1v1h-1zm2 0h1v1h-1zM511 388h1v1h-1zm2 0h1v1h-1zm2 0h1v1h-1zm-3 1h3v1h-3zm-1 1h5v1h-5zm1 1h3v1h-3zm-1 1h1v1h-1zm2 0h1v1h-1zm2 0h1v1h-1zM511 383h1v1h-1zm2 0h1v1h-1zm2 0h1v1h-1zm-3 1h3v1h-3zm-1 1h5v1h-5zm1 1h3v1h-3zm-1 1h1v1h-1zm2 0h1v1h-1zm2 0h1v1h-1zM511 379h1v1h-1zm2 0h1v1h-1zm2 0h1v1h-1zm-3 1h3v1h-3zm-1 1h5v1h-5zm1 1h3v1h-3zm-1 1h1v1h-1zm2 0h1v1h-1zm2 0h1v1h-1zM511 374h1v1h-1zm2 0h1v1h-1zm2 0h1v1h-1zm-3 1h3v1h-3zm-1 1h5v1h-5zm1 1h3v1h-3zm-1 1h1v1h-1zm2 0h1v1h-1zm2 0h1v1h-1zM511 369h1v1h-1zm2 0h1v1h-1zm2 0h1v1h-1zm-3 1h3v1h-3zm-1 1h5v1h-5zm1 1h3v1h-3zm-1 1h1v1h-1zm2 0h1v1h-1zm2 0h1v1h-1zM511 320h1v1h-1zm2 0h1v1h-1zm2 0h1v1h-1zm-3 1h3v1h-3zm-1 1h5v1h-5zm1 1h3v1h-3zm-1 1h1v1h-1zm2 0h1v1h-1zm2 0h1v1h-1zM511 286h1v1h-1zm2 0h1v1h-1zm2 0h1v1h-1zm-3 1h3v1h-3zm-1 1h5v1h-5zm1 1h3v1h-3zm-1 1h1v1h-1zm2 0h1v1h-1zm2 0h1v1h-1zM511 281h1v1h-1zm2 0h1v1h-1zm2 0h1v1h-1zm-3 1h3v1h-3zm-1 1h5v1h-5zm1 1h3v1h-3zm-1 1h1v1h-1zm2 0h1v1h-1zm2 0h1v1h-1zM511 276h1v1h-1zm2 0h1v1h-1zm2 0h1v1h-1zm-3 1h3v1h-3zm-1 1h5v1h-5zm1 1h3v1h-3zm-1 1h1v1h-1zm2 0h1v1h-1zm2 0h1v1h-1zM511 233h1v1h-1zm2 0h1v1h-1zm2 0h1v1h-1zm-3 1h3v1h-3zm-1 1h5v1h-5zm1 1h3v1h-3zm-1 1h1v1h-1zm2 0h1v1h-1zm2 0h1v1h-1zM511 199h1v1h-1zm2 0h1v1h-1zm2 0h1v1h-1zm-3 1h3v1h-3zm-1 1h5v1h-5zm1 1h3v1h-3zm-1 1h1v1h-1zm2 0h1v1h-1zm2 0h1v1h-1zM511 194h1v1h-1zm2 0h1v1h-1zm2 0h1v1h-1zm-3 1h3v1h-3zm-1 1h5v1h-5zm1 1h3v1h-3zm-1 1h1v1h-1zm2 0h1v1h-1zm2 0h1v1h-1zM511 189h1v1h-1zm2 0h1v1h-1zm2 0h1v1h-1zm-3 1h3v1h-3zm-1 1h5v1h-5zm1 1h3v1h-3zm-1 1h1v1h-1zm2 0h1v1h-1zm2 0h1v1h-1zM511 145h1v1h-1zm2 0h1v1h-1zm2 0h1v1h-1zm-3 1h3v1h-3zm-1 1h5v1h-5zm1 1h3v1h-3zm-1 1h1v1h-1zm2 0h1v1h-1zm2 0h1v1h-1zM511 140h1v1h-1zm2 0h1v1h-1zm2 0h1v1h-1zm-3 1h3v1h-3zm-1 1h5v1h-5zm1 1h3v1h-3zm-1 1h1v1h-1zm2 0h1v1h-1zm2 0h1v1h-1zM511 135h1v1h-1zm2 0h1v1h-1zm2 0h1v1h-1zm-3 1h3v1h-3zm-1 1h5v1h-5zm1 1h3v1h-3zm-1 1h1v1h-1zm2 0h1v1h-1zm2 0h1v1h-1zM511 131h1v1h-1zm2 0h1v1h-1zm2 0h1v1h-1zm-3 1h3v1h-3zm-1 1h5v1h-5zm1 1h3v1h-3zm-1 1h1v1h-1zm2 0h1v1h-1zm2 0h1v1h-1zM511 126h1v1h-1zm2 0h1v1h-1zm2 0h1v1h-1zm-3 1h3v1h-3zm-1 1h5v1h-5zm1 1h3v1h-3zm-1 1h1v1h-1zm2 0h1v1h-1zm2 0h1v1h-1zM511 121h1v1h-1zm2 0h1v1h-1zm2 0h1v1h-1zm-3 1h3v1h-3zm-1 1h5v1h-5zm1 1h3v1h-3zm-1 1h1v1h-1zm2 0h1v1h-1zm2 0h1v1h-1zM511 116h1v1h-1zm2 0h1v1h-1zm2 0h1v1h-1zm-3 1h3v1h-3zm-1 1h5v1h-5zm1 1h3v1h-3zm-1 1h1v1h-1zm2 0h1v1h-1zm2 0h1v1h-1zM528 413h1v1h-1zm2 0h1v1h-1zm2 0h1v1h-1zm-3 1h3v1h-3zm-1 1h5v1h-5zm1 1h3v1h-3zm-1 1h1v1h-1zm2 0h1v1h-1zm2 0h1v1h-1zM528 408h1v1h-1zm2 0h1v1h-1zm2 0h1v1h-1zm-3 1h3v1h-3zm-1 1h5v1h-5zm1 1h3v1h-3zm-1 1h1v1h-1zm2 0h1v1h-1zm2 0h1v1h-1zM528 403h1v1h-1zm2 0h1v1h-1zm2 0h1v1h-1zm-3 1h3v1h-3zm-1 1h5v1h-5zm1 1h3v1h-3zm-1 1h1v1h-1zm2 0h1v1h-1zm2 0h1v1h-1zM528 398h1v1h-1zm2 0h1v1h-1zm2 0h1v1h-1zm-3 1h3v1h-3zm-1 1h5v1h-5zm1 1h3v1h-3zm-1 1h1v1h-1zm2 0h1v1h-1zm2 0h1v1h-1zM528 393h1v1h-1zm2 0h1v1h-1zm2 0h1v1h-1zm-3 1h3v1h-3zm-1 1h5v1h-5zm1 1h3v1h-3zm-1 1h1v1h-1zm2 0h1v1h-1zm2 0h1v1h-1zM528 388h1v1h-1zm2 0h1v1h-1zm2 0h1v1h-1zm-3 1h3v1h-3zm-1 1h5v1h-5zm1 1h3v1h-3zm-1 1h1v1h-1zm2 0h1v1h-1zm2 0h1v1h-1zM528 383h1v1h-1zm2 0h1v1h-1zm2 0h1v1h-1zm-3 1h3v1h-3zm-1 1h5v1h-5zm1 1h3v1h-3zm-1 1h1v1h-1zm2 0h1v1h-1zm2 0h1v1h-1zM528 301h1v1h-1zm2 0h1v1h-1zm2 0h1v1h-1zm-3 1h3v1h-3zm-1 1h5v1h-5zm1 1h3v1h-3zm-1 1h1v1h-1zm2 0h1v1h-1zm2 0h1v1h-1zM528 296h1v1h-1zm2 0h1v1h-1zm2 0h1v1h-1zm-3 1h3v1h-3zm-1 1h5v1h-5zm1 1h3v1h-3zm-1 1h1v1h-1zm2 0h1v1h-1zm2 0h1v1h-1zM528 291h1v1h-1zm2 0h1v1h-1zm2 0h1v1h-1zm-3 1h3v1h-3zm-1 1h5v1h-5zm1 1h3v1h-3zm-1 1h1v1h-1zm2 0h1v1h-1zm2 0h1v1h-1zM528 262h1v1h-1zm2 0h1v1h-1zm2 0h1v1h-1zm-3 1h3v1h-3zm-1 1h5v1h-5zm1 1h3v1h-3zm-1 1h1v1h-1zm2 0h1v1h-1zm2 0h1v1h-1zM528 252h1v1h-1zm2 0h1v1h-1zm2 0h1v1h-1zm-3 1h3v1h-3zm-1 1h5v1h-5zm1 1h3v1h-3zm-1 1h1v1h-1zm2 0h1v1h-1zm2 0h1v1h-1zM528 247h1v1h-1zm2 0h1v1h-1zm2 0h1v1h-1zm-3 1h3v1h-3zm-1 1h5v1h-5zm1 1h3v1h-3zm-1 1h1v1h-1zm2 0h1v1h-1zm2 0h1v1h-1zM528 242h1v1h-1zm2 0h1v1h-1zm2 0h1v1h-1zm-3 1h3v1h-3zm-1 1h5v1h-5zm1 1h3v1h-3zm-1 1h1v1h-1zm2 0h1v1h-1zm2 0h1v1h-1zM528 208h1v1h-1zm2 0h1v1h-1zm2 0h1v1h-1zm-3 1h3v1h-3zm-1 1h5v1h-5zm1 1h3v1h-3zm-1 1h1v1h-1zm2 0h1v1h-1zm2 0h1v1h-1zM528 204h1v1h-1zm2 0h1v1h-1zm2 0h1v1h-1zm-3 1h3v1h-3zm-1 1h5v1h-5zm1 1h3v1h-3zm-1 1h1v1h-1zm2 0h1v1h-1zm2 0h1v1h-1zM528 155h1v1h-1zm2 0h1v1h-1zm2 0h1v1h-1zm-3 1h3v1h-3zm-1 1h5v1h-5zm1 1h3v1h-3zm-1 1h1v1h-1zm2 0h1v1h-1zm2 0h1v1h-1zM528 150h1v1h-1zm2 0h1v1h-1zm2 0h1v1h-1zm-3 1h3v1h-3zm-1 1h5v1h-5zm1 1h3v1h-3zm-1 1h1v1h-1zm2 0h1v1h-1zm2 0h1v1h-1zM528 145h1v1h-1zm2 0h1v1h-1zm2 0h1v1h-1zm-3 1h3v1h-3zm-1 1h5v1h-5zm1 1h3v1h-3zm-1 1h1v1h-1zm2 0h1v1h-1zm2 0h1v1h-1zM528 140h1v1h-1zm2 0h1v1h-1zm2 0h1v1h-1zm-3 1h3v1h-3zm-1 1h5v1h-5zm1 1h3v1h-3zm-1 1h1v1h-1zm2 0h1v1h-1zm2 0h1v1h-1zM528 135h1v1h-1zm2 0h1v1h-1zm2 0h1v1h-1zm-3 1h3v1h-3zm-1 1h5v1h-5zm1 1h3v1h-3zm-1 1h1v1h-1zm2 0h1v1h-1zm2 0h1v1h-1zM528 131h1v1h-1zm2 0h1v1h-1zm2 0h1v1h-1zm-3 1h3v1h-3zm-1 1h5v1h-5zm1 1h3v1h-3zm-1 1h1v1h-1zm2 0h1v1h-1zm2 0h1v1h-1zM528 126h1v1h-1zm2 0h1v1h-1zm2 0h1v1h-1zm-3 1h3v1h-3zm-1 1h5v1h-5zm1 1h3v1h-3zm-1 1h1v1h-1zm2 0h1v1h-1zm2 0h1v1h-1zM544 422h1v1h-1zm3 0h1v1h-1zm2 0h1v1h-1zm-4 1h4v1h-4zm-1 1h6v1h-6zm1 1h4v1h-4zm-1 1h1v1h-1zm3 0h1v1h-1zm2 0h1v1h-1zM544 417h1v1h-1zm3 0h1v1h-1zm2 0h1v1h-1zm-4 1h4v1h-4zm-1 1h6v1h-6zm1 1h4v1h-4zm-1 1h1v1h-1zm3 0h1v1h-1zm2 0h1v1h-1zM544 413h1v1h-1zm3 0h1v1h-1zm2 0h1v1h-1zm-4 1h4v1h-4zm-1 1h6v1h-6zm1 1h4v1h-4zm-1 1h1v1h-1zm3 0h1v1h-1zm2 0h1v1h-1zM544 408h1v1h-1zm3 0h1v1h-1zm2 0h1v1h-1zm-4 1h4v1h-4zm-1 1h6v1h-6zm1 1h4v1h-4zm-1 1h1v1h-1zm3 0h1v1h-1zm2 0h1v1h-1zM544 403h1v1h-1zm3 0h1v1h-1zm2 0h1v1h-1zm-4 1h4v1h-4zm-1 1h6v1h-6zm1 1h4v1h-4zm-1 1h1v1h-1zm3 0h1v1h-1zm2 0h1v1h-1zM544 398h1v1h-1zm3 0h1v1h-1zm2 0h1v1h-1zm-4 1h4v1h-4zm-1 1h6v1h-6zm1 1h4v1h-4zm-1 1h1v1h-1zm3 0h1v1h-1zm2 0h1v1h-1zM544 393h1v1h-1zm3 0h1v1h-1zm2 0h1v1h-1zm-4 1h4v1h-4zm-1 1h6v1h-6zm1 1h4v1h-4zm-1 1h1v1h-1zm3 0h1v1h-1zm2 0h1v1h-1zM544 359h1v1h-1zm3 0h1v1h-1zm2 0h1v1h-1zm-4 1h4v1h-4zm-1 1h6v1h-6zm1 1h4v1h-4zm-1 1h1v1h-1zm3 0h1v1h-1zm2 0h1v1h-1zM544 345h1v1h-1zm3 0h1v1h-1zm2 0h1v1h-1zm-4 1h4v1h-4zm-1 1h6v1h-6zm1 1h4v1h-4zm-1 1h1v1h-1zm3 0h1v1h-1zm2 0h1v1h-1zM544 315h1v1h-1zm3 0h1v1h-1zm2 0h1v1h-1zm-4 1h4v1h-4zm-1 1h6v1h-6zm1 1h4v1h-4zm-1 1h1v1h-1zm3 0h1v1h-1zm2 0h1v1h-1zM544 310h1v1h-1zm3 0h1v1h-1zm2 0h1v1h-1zm-4 1h4v1h-4zm-1 1h6v1h-6zm1 1h4v1h-4zm-1 1h1v1h-1zm3 0h1v1h-1zm2 0h1v1h-1zM544 306h1v1h-1zm3 0h1v1h-1zm2 0h1v1h-1zm-4 1h4v1h-4zm-1 1h6v1h-6zm1 1h4v1h-4zm-1 1h1v1h-1zm3 0h1v1h-1zm2 0h1v1h-1zM544 257h1v1h-1zm3 0h1v1h-1zm2 0h1v1h-1zm-4 1h4v1h-4zm-1 1h6v1h-6zm1 1h4v1h-4zm-1 1h1v1h-1zm3 0h1v1h-1zm2 0h1v1h-1zM544 223h1v1h-1zm3 0h1v1h-1zm2 0h1v1h-1zm-4 1h4v1h-4zm-1 1h6v1h-6zm1 1h4v1h-4zm-1 1h1v1h-1zm3 0h1v1h-1zm2 0h1v1h-1zM544 218h1v1h-1zm3 0h1v1h-1zm2 0h1v1h-1zm-4 1h4v1h-4zm-1 1h6v1h-6zm1 1h4v1h-4zm-1 1h1v1h-1zm3 0h1v1h-1zm2 0h1v1h-1zM544 213h1v1h-1zm3 0h1v1h-1zm2 0h1v1h-1zm-4 1h4v1h-4zm-1 1h6v1h-6zm1 1h4v1h-4zm-1 1h1v1h-1zm3 0h1v1h-1zm2 0h1v1h-1zM544 170h1v1h-1zm3 0h1v1h-1zm2 0h1v1h-1zm-4 1h4v1h-4zm-1 1h6v1h-6zm1 1h4v1h-4zm-1 1h1v1h-1zm3 0h1v1h-1zm2 0h1v1h-1zM544 165h1v1h-1zm3 0h1v1h-1zm2 0h1v1h-1zm-4 1h4v1h-4zm-1 1h6v1h-6zm1 1h4v1h-4zm-1 1h1v1h-1zm3 0h1v1h-1zm2 0h1v1h-1zM544 160h1v1h-1zm3 0h1v1h-1zm2 0h1v1h-1zm-4 1h4v1h-4zm-1 1h6v1h-6zm1 1h4v1h-4zm-1 1h1v1h-1zm3 0h1v1h-1zm2 0h1v1h-1zM544 155h1v1h-1zm3 0h1v1h-1zm2 0h1v1h-1zm-4 1h4v1h-4zm-1 1h6v1h-6zm1 1h4v1h-4zm-1 1h1v1h-1zm3 0h1v1h-1zm2 0h1v1h-1zM544 150h1v1h-1zm3 0h1v1h-1zm2 0h1v1h-1zm-4 1h4v1h-4zm-1 1h6v1h-6zm1 1h4v1h-4zm-1 1h1v1h-1zm3 0h1v1h-1zm2 0h1v1h-1zM544 145h1v1h-1zm3 0h1v1h-1zm2 0h1v1h-1zm-4 1h4v1h-4zm-1 1h6v1h-6zm1 1h4v1h-4zm-1 1h1v1h-1zm3 0h1v1h-1zm2 0h1v1h-1zM544 140h1v1h-1zm3 0h1v1h-1zm2 0h1v1h-1zm-4 1h4v1h-4zm-1 1h6v1h-6zm1 1h4v1h-4zm-1 1h1v1h-1zm3 0h1v1h-1zm2 0h1v1h-1zM544 135h1v1h-1zm3 0h1v1h-1zm2 0h1v1h-1zm-4 1h4v1h-4zm-1 1h6v1h-6zm1 1h4v1h-4zm-1 1h1v1h-1zm3 0h1v1h-1zm2 0h1v1h-1zM544 87h1v1h-1zm3 0h1v1h-1zm2 0h1v1h-1zm-4 1h4v1h-4zm-1 1h6v1h-6zm1 1h4v1h-4zm-1 1h1v1h-1zm3 0h1v1h-1zm2 0h1v1h-1zM544 82h1v1h-1zm3 0h1v1h-1zm2 0h1v1h-1zm-4 1h4v1h-4zm-1 1h6v1h-6zm1 1h4v1h-4zm-1 1h1v1h-1zm3 0h1v1h-1zm2 0h1v1h-1zM544 77h1v1h-1zm3 0h1v1h-1zm2 0h1v1h-1zm-4 1h4v1h-4zm-1 1h6v1h-6zm1 1h4v1h-4zm-1 1h1v1h-1zm3 0h1v1h-1zm2 0h1v1h-1zM561 422h1v1h-1zm3 0h1v1h-1zm2 0h1v1h-1zm-4 1h4v1h-4zm-1 1h6v1h-6zm1 1h4v1h-4zm-1 1h1v1h-1zm3 0h1v1h-1zm2 0h1v1h-1zM561 417h1v1h-1zm3 0h1v1h-1zm2 0h1v1h-1zm-4 1h4v1h-4zm-1 1h6v1h-6zm1 1h4v1h-4zm-1 1h1v1h-1zm3 0h1v1h-1zm2 0h1v1h-1zM561 413h1v1h-1zm3 0h1v1h-1zm2 0h1v1h-1zm-4 1h4v1h-4zm-1 1h6v1h-6zm1 1h4v1h-4zm-1 1h1v1h-1zm3 0h1v1h-1zm2 0h1v1h-1zM561 408h1v1h-1zm3 0h1v1h-1zm2 0h1v1h-1zm-4 1h4v1h-4zm-1 1h6v1h-6zm1 1h4v1h-4zm-1 1h1v1h-1zm3 0h1v1h-1zm2 0h1v1h-1zM561 330h1v1h-1zm3 0h1v1h-1zm2 0h1v1h-1zm-4 1h4v1h-4zm-1 1h6v1h-6zm1 1h4v1h-4zm-1 1h1v1h-1zm3 0h1v1h-1zm2 0h1v1h-1zM561 325h1v1h-1zm3 0h1v1h-1zm2 0h1v1h-1zm-4 1h4v1h-4zm-1 1h6v1h-6zm1 1h4v1h-4zm-1 1h1v1h-1zm3 0h1v1h-1zm2 0h1v1h-1zM561 320h1v1h-1zm3 0h1v1h-1zm2 0h1v1h-1zm-4 1h4v1h-4zm-1 1h6v1h-6zm1 1h4v1h-4zm-1 1h1v1h-1zm3 0h1v1h-1zm2 0h1v1h-1zM561 272h1v1h-1zm3 0h1v1h-1zm2 0h1v1h-1zm-4 1h4v1h-4zm-1 1h6v1h-6zm1 1h4v1h-4zm-1 1h1v1h-1zm3 0h1v1h-1zm2 0h1v1h-1zM561 233h1v1h-1zm3 0h1v1h-1zm2 0h1v1h-1zm-4 1h4v1h-4zm-1 1h6v1h-6zm1 1h4v1h-4zm-1 1h1v1h-1zm3 0h1v1h-1zm2 0h1v1h-1zM561 228h1v1h-1zm3 0h1v1h-1zm2 0h1v1h-1zm-4 1h4v1h-4zm-1 1h6v1h-6zm1 1h4v1h-4zm-1 1h1v1h-1zm3 0h1v1h-1zm2 0h1v1h-1zM561 184h1v1h-1zm3 0h1v1h-1zm2 0h1v1h-1zm-4 1h4v1h-4zm-1 1h6v1h-6zm1 1h4v1h-4zm-1 1h1v1h-1zm3 0h1v1h-1zm2 0h1v1h-1zM561 179h1v1h-1zm3 0h1v1h-1zm2 0h1v1h-1zm-4 1h4v1h-4zm-1 1h6v1h-6zm1 1h4v1h-4zm-1 1h1v1h-1zm3 0h1v1h-1zm2 0h1v1h-1zM561 160h1v1h-1zm3 0h1v1h-1zm2 0h1v1h-1zm-4 1h4v1h-4zm-1 1h6v1h-6zm1 1h4v1h-4zm-1 1h1v1h-1zm3 0h1v1h-1zm2 0h1v1h-1zM561 155h1v1h-1zm3 0h1v1h-1zm2 0h1v1h-1zm-4 1h4v1h-4zm-1 1h6v1h-6zm1 1h4v1h-4zm-1 1h1v1h-1zm3 0h1v1h-1zm2 0h1v1h-1zM561 150h1v1h-1zm3 0h1v1h-1zm2 0h1v1h-1zm-4 1h4v1h-4zm-1 1h6v1h-6zm1 1h4v1h-4zm-1 1h1v1h-1zm3 0h1v1h-1zm2 0h1v1h-1zM561 97h1v1h-1zm3 0h1v1h-1zm2 0h1v1h-1zm-4 1h4v1h-4zm-1 1h6v1h-6zm1 1h4v1h-4zm-1 1h1v1h-1zm3 0h1v1h-1zm2 0h1v1h-1zM561 92h1v1h-1zm3 0h1v1h-1zm2 0h1v1h-1zm-4 1h4v1h-4zm-1 1h6v1h-6zm1 1h4v1h-4zm-1 1h1v1h-1zm3 0h1v1h-1zm2 0h1v1h-1zM561 87h1v1h-1zm3 0h1v1h-1zm2 0h1v1h-1zm-4 1h4v1h-4zm-1 1h6v1h-6zm1 1h4v1h-4zm-1 1h1v1h-1zm3 0h1v1h-1zm2 0h1v1h-1zM561 82h1v1h-1zm3 0h1v1h-1zm2 0h1v1h-1zm-4 1h4v1h-4zm-1 1h6v1h-6zm1 1h4v1h-4zm-1 1h1v1h-1zm3 0h1v1h-1zm2 0h1v1h-1zM561 77h1v1h-1zm3 0h1v1h-1zm2 0h1v1h-1zm-4 1h4v1h-4zm-1 1h6v1h-6zm1 1h4v1h-4zm-1 1h1v1h-1zm3 0h1v1h-1zm2 0h1v1h-1zM578 422h1v1h-1zm2 0h1v1h-1zm2 0h1v1h-1zm-3 1h3v1h-3zm-1 1h5v1h-5zm1 1h3v1h-3zm-1 1h1v1h-1zm2 0h1v1h-1zm2 0h1v1h-1zM578 383h1v1h-1zm2 0h1v1h-1zm2 0h1v1h-1zm-3 1h3v1h-3zm-1 1h5v1h-5zm1 1h3v1h-3zm-1 1h1v1h-1zm2 0h1v1h-1zm2 0h1v1h-1zM578 369h1v1h-1zm2 0h1v1h-1zm2 0h1v1h-1zm-3 1h3v1h-3zm-1 1h5v1h-5zm1 1h3v1h-3zm-1 1h1v1h-1zm2 0h1v1h-1zm2 0h1v1h-1zM578 345h1v1h-1zm2 0h1v1h-1zm2 0h1v1h-1zm-3 1h3v1h-3zm-1 1h5v1h-5zm1 1h3v1h-3zm-1 1h1v1h-1zm2 0h1v1h-1zm2 0h1v1h-1zM578 340h1v1h-1zm2 0h1v1h-1zm2 0h1v1h-1zm-3 1h3v1h-3zm-1 1h5v1h-5zm1 1h3v1h-3zm-1 1h1v1h-1zm2 0h1v1h-1zm2 0h1v1h-1zM578 335h1v1h-1zm2 0h1v1h-1zm2 0h1v1h-1zm-3 1h3v1h-3zm-1 1h5v1h-5zm1 1h3v1h-3zm-1 1h1v1h-1zm2 0h1v1h-1zm2 0h1v1h-1zM578 330h1v1h-1zm2 0h1v1h-1zm2 0h1v1h-1zm-3 1h3v1h-3zm-1 1h5v1h-5zm1 1h3v1h-3zm-1 1h1v1h-1zm2 0h1v1h-1zm2 0h1v1h-1zM578 281h1v1h-1zm2 0h1v1h-1zm2 0h1v1h-1zm-3 1h3v1h-3zm-1 1h5v1h-5zm1 1h3v1h-3zm-1 1h1v1h-1zm2 0h1v1h-1zm2 0h1v1h-1zM578 252h1v1h-1zm2 0h1v1h-1zm2 0h1v1h-1zm-3 1h3v1h-3zm-1 1h5v1h-5zm1 1h3v1h-3zm-1 1h1v1h-1zm2 0h1v1h-1zm2 0h1v1h-1zM578 247h1v1h-1zm2 0h1v1h-1zm2 0h1v1h-1zm-3 1h3v1h-3zm-1 1h5v1h-5zm1 1h3v1h-3zm-1 1h1v1h-1zm2 0h1v1h-1zm2 0h1v1h-1zM578 242h1v1h-1zm2 0h1v1h-1zm2 0h1v1h-1zm-3 1h3v1h-3zm-1 1h5v1h-5zm1 1h3v1h-3zm-1 1h1v1h-1zm2 0h1v1h-1zm2 0h1v1h-1zM578 213h1v1h-1zm2 0h1v1h-1zm2 0h1v1h-1zm-3 1h3v1h-3zm-1 1h5v1h-5zm1 1h3v1h-3zm-1 1h1v1h-1zm2 0h1v1h-1zm2 0h1v1h-1zM578 194h1v1h-1zm2 0h1v1h-1zm2 0h1v1h-1zm-3 1h3v1h-3zm-1 1h5v1h-5zm1 1h3v1h-3zm-1 1h1v1h-1zm2 0h1v1h-1zm2 0h1v1h-1zM578 170h1v1h-1zm2 0h1v1h-1zm2 0h1v1h-1zm-3 1h3v1h-3zm-1 1h5v1h-5zm1 1h3v1h-3zm-1 1h1v1h-1zm2 0h1v1h-1zm2 0h1v1h-1zM578 165h1v1h-1zm2 0h1v1h-1zm2 0h1v1h-1zm-3 1h3v1h-3zm-1 1h5v1h-5zm1 1h3v1h-3zm-1 1h1v1h-1zm2 0h1v1h-1zm2 0h1v1h-1zM578 160h1v1h-1zm2 0h1v1h-1zm2 0h1v1h-1zm-3 1h3v1h-3zm-1 1h5v1h-5zm1 1h3v1h-3zm-1 1h1v1h-1zm2 0h1v1h-1zm2 0h1v1h-1zM578 111h1v1h-1zm2 0h1v1h-1zm2 0h1v1h-1zm-3 1h3v1h-3zm-1 1h5v1h-5zm1 1h3v1h-3zm-1 1h1v1h-1zm2 0h1v1h-1zm2 0h1v1h-1zM578 106h1v1h-1zm2 0h1v1h-1zm2 0h1v1h-1zm-3 1h3v1h-3zm-1 1h5v1h-5zm1 1h3v1h-3zm-1 1h1v1h-1zm2 0h1v1h-1zm2 0h1v1h-1zM578 101h1v1h-1zm2 0h1v1h-1zm2 0h1v1h-1zm-3 1h3v1h-3zm-1 1h5v1h-5zm1 1h3v1h-3zm-1 1h1v1h-1zm2 0h1v1h-1zm2 0h1v1h-1zM578 97h1v1h-1zm2 0h1v1h-1zm2 0h1v1h-1zm-3 1h3v1h-3zm-1 1h5v1h-5zm1 1h3v1h-3zm-1 1h1v1h-1zm2 0h1v1h-1zm2 0h1v1h-1zM578 92h1v1h-1zm2 0h1v1h-1zm2 0h1v1h-1zm-3 1h3v1h-3zm-1 1h5v1h-5zm1 1h3v1h-3zm-1 1h1v1h-1zm2 0h1v1h-1zm2 0h1v1h-1zM578 87h1v1h-1zm2 0h1v1h-1zm2 0h1v1h-1zm-3 1h3v1h-3zm-1 1h5v1h-5zm1 1h3v1h-3zm-1 1h1v1h-1zm2 0h1v1h-1zm2 0h1v1h-1zM578 82h1v1h-1zm2 0h1v1h-1zm2 0h1v1h-1zm-3 1h3v1h-3zm-1 1h5v1h-5zm1 1h3v1h-3zm-1 1h1v1h-1zm2 0h1v1h-1zm2 0h1v1h-1z" fill="#00e6e6"/><path d="M76 330h3v1h-3zm-1 1h4v1h-4zm0 1h5v1h-5zm0 1h4v1h-4zM76 325h3v1h-3zm-1 1h4v1h-4zm0 1h5v1h-5zm0 1h4v1h-4zM76 320h3v1h-3zm-1 1h4v1h-4zm0 1h5v1h-5zm0 1h4v1h-4zM76 315h3v1h-3zm-1 1h4v1h-4zm0 1h5v1h-5zm0 1h4v1h-4zM76 247h3v1h-3zm-1 1h4v1h-4zm0 1h5v1h-5zm0 1h4v1h-4zM76 242h3v1h-3zm-1 1h4v1h-4zm0 1h5v1h-5zm0 1h4v1h-4zM76 238h3v1h-3zm-1 1h4v1h-4zm0 1h5v1h-5zm0 1h4v1h-4zM76 233h3v1h-3zm-1 1h4v1h-4zm0 1h5v1h-5zm0 1h4v1h-4zM76 155h3v1h-3zm-1 1h4v1h-4zm0 1h5v1h-5zm0 1h4v1h-4zM76 150h3v1h-3zm-1 1h4v1h-4zm0 1h5v1h-5zm0 1h4v1h-4zM76 145h3v1h-3zm-1 1h4v1h-4zm0 1h5v1h-5zm0 1h4v1h-4zM76 140h3v1h-3zm-1 1h4v1h-4zm0 1h5v1h-5zm0 1h4v1h-4zM93 340h3v1h-3zm-1 1h4v1h-4zm0 1h5v1h-5zm0 1h4v1h-4zM93 335h3v1h-3zm-1 1h4v1h-4zm0 1h5v1h-5zm0 1h4v1h-4zM93 330h3v1h-3zm-1 1h4v1h-4zm0 1h5v1h-5zm0 1h4v1h-4zM93 257h3v1h-3zm-1 1h4v1h-4zm0 1h5v1h-5zm0 1h4v1h-4zM93 252h3v1h-3zm-1 1h4v1h-4zm0 1h5v1h-5zm0 1h4v1h-4zM93 247h3v1h-3zm-1 1h4v1h-4zm0 1h5v1h-5zm0 1h4v1h-4zM93 170h3v1h-3zm-1 1h4v1h-4zm0 1h5v1h-5zm0 1h4v1h-4zM93 165h3v1h-3zm-1 1h4v1h-4zm0 1h5v1h-5zm0 1h4v1h-4zM93 160h3v1h-3zm-1 1h4v1h-4zm0 1h5v1h-5zm0 1h4v1h-4zM93 155h3v1h-3zm-1 1h4v1h-4zm0 1h5v1h-5zm0 1h4v1h-4zM93 150h3v1h-3zm-1 1h4v1h-4zm0 1h5v1h-5zm0 1h4v1h-4zM110 349h3v1h-3zm-1 1h4v1h-4zm0 1h5v1h-5zm0 1h4v1h-4zM110 345h3v1h-3zm-1 1h4v1h-4zm0 1h5v1h-5zm0 1h4v1h-4zM110 291h3v1h-3zm-1 1h4v1h-4zm0 1h5v1h-5zm0 1h4v1h-4zM110 272h3v1h-3zm-1 1h4v1h-4zm0 1h5v1h-5zm0 1h4v1h-4zM110 267h3v1h-3zm-1 1h4v1h-4zm0 1h5v1h-5zm0 1h4v1h-4zM110 262h3v1h-3zm-1 1h4v1h-4zm0 1h5v1h-5zm0 1h4v1h-4zM110 257h3v1h-3zm-1 1h4v1h-4zm0 1h5v1h-5zm0 1h4v1h-4zM110 179h3v1h-3zm-1 1h4v1h-4zm0 1h5v1h-5zm0 1h4v1h-4zM110 174h3v1h-3zm-1 1h4v1h-4zm0 1h5v1h-5zm0 1h4v1h-4zM110 170h3v1h-3zm-1 1h4v1h-4zm0 1h5v1h-5zm0 1h4v1h-4zM110 165h3v1h-3zm-1 1h4v1h-4zm0 1h5v1h-5zm0 1h4v1h-4zM127 359h3v1h-3zm-1 1h4v1h-4zm0 1h5v1h-5zm0 1h4v1h-4zM127 286h3v1h-3zm-1 1h4v1h-4zm0 1h5v1h-5zm0 1h4v1h-4zM127 281h3v1h-3zm-1 1h4v1h-4zm0 1h5v1h-5zm0 1h4v1h-4zM127 276h3v1h-3zm-1 1h4v1h-4zm0 1h5v1h-5zm0 1h4v1h-4zM127 272h3v1h-3zm-1 1h4v1h-4zm0 1h5v1h-5zm0 1h4v1h-4zM127 194h3v1h-3zm-1 1h4v1h-4zm0 1h5v1h-5zm0 1h4v1h-4zM127 189h3v1h-3zm-1 1h4v1h-4zm0 1h5v1h-5zm0 1h4v1h-4zM127 184h3v1h-3zm-1 1h4v1h-4zm0 1h5v1h-5zm0 1h4v1h-4zM127 179h3v1h-3zm-1 1h4v1h-4zm0 1h5v1h-5zm0 1h4v1h-4zM143 315h3v1h-3zm-1 1h4v1h-4zm0 1h5v1h-5zm0 1h4v1h-4zM143 296h3v1h-3zm-1 1h4v1h-4zm0 1h5v1h-5zm0 1h4v1h-4zM143 291h3v1h-3zm-1 1h4v1h-4zm0 1h5v1h-5zm0 1h4v1h-4zM143 286h3v1h-3zm-1 1h4v1h-4zm0 1h5v1h-5zm0 1h4v1h-4zM143 208h3v1h-3zm-1 1h4v1h-4zm0 1h5v1h-5zm0 1h4v1h-4zM143 204h3v1h-3zm-1 1h4v1h-4zm0 1h5v1h-5zm0 1h4v1h-4zM143 199h3v1h-3zm-1 1h4v1h-4zm0 1h5v1h-5zm0 1h4v1h-4zM143 194h3v1h-3zm-1 1h4v1h-4zm0 1h5v1h-5zm0 1h4v1h-4zM143 189h3v1h-3zm-1 1h4v1h-4zm0 1h5v1h-5zm0 1h4v1h-4zM160 310h3v1h-3zm-1 1h4v1h-4zm0 1h5v1h-5zm0 1h4v1h-4zM160 306h3v1h-3zm-1 1h4v1h-4zm0 1h5v1h-5zm0 1h4v1h-4zM160 301h3v1h-3zm-1 1h4v1h-4zm0 1h5v1h-5zm0 1h4v1h-4zM160 296h3v1h-3zm-1 1h4v1h-4zm0 1h5v1h-5zm0 1h4v1h-4zM160 242h3v1h-3zm-1 1h4v1h-4zm0 1h5v1h-5zm0 1h4v1h-4zM160 223h3v1h-3zm-1 1h4v1h-4zm0 1h5v1h-5zm0 1h4v1h-4zM160 218h3v1h-3zm-1 1h4v1h-4zm0 1h5v1h-5zm0 1h4v1h-4zM160 213h3v1h-3zm-1 1h4v1h-4zm0 1h5v1h-5zm0 1h4v1h-4zM160 208h3v1h-3zm-1 1h4v1h-4zm0 1h5v1h-5zm0 1h4v1h-4zM160 204h3v1h-3zm-1 1h4v1h-4zm0 1h5v1h-5zm0 1h4v1h-4zM177 320h3v1h-3zm-1 1h4v1h-4zm0 1h5v1h-5zm0 1h4v1h-4zM177 315h3v1h-3zm-1 1h4v1h-4zm0 1h5v1h-5zm0 1h4v1h-4zM177 310h3v1h-3zm-1 1h4v1h-4zm0 1h5v1h-5zm0 1h4v1h-4zM177 301h3v1h-3zm-1 1h4v1h-4zm0 1h5v1h-5zm0 1h4v1h-4zM177 233h3v1h-3zm-1 1h4v1h-4zm0 1h5v1h-5zm0 1h4v1h-4zM177 228h3v1h-3zm-1 1h4v1h-4zm0 1h5v1h-5zm0 1h4v1h-4zM177 223h3v1h-3zm-1 1h4v1h-4zm0 1h5v1h-5zm0 1h4v1h-4zM177 218h3v1h-3zm-1 1h4v1h-4zm0 1h5v1h-5zm0 1h4v1h-4zM177 140h3v1h-3zm-1 1h4v1h-4zm0 1h5v1h-5zm0 1h4v1h-4zM177 135h3v1h-3zm-1 1h4v1h-4zm0 1h5v1h-5zm0 1h4v1h-4zM194 335h3v1h-3zm-1 1h4v1h-4zm0 1h5v1h-5zm0 1h4v1h-4zM194 330h3v1h-3zm-1 1h4v1h-4zm0 1h5v1h-5zm0 1h4v1h-4zM194 325h3v1h-3zm-1 1h4v1h-4zm0 1h5v1h-5zm0 1h4v1h-4zM194 320h3v1h-3zm-1 1h4v1h-4zm0 1h5v1h-5zm0 1h4v1h-4zM194 315h3v1h-3zm-1 1h4v1h-4zm0 1h5v1h-5zm0 1h4v1h-4zM194 267h3v1h-3zm-1 1h4v1h-4zm0 1h5v1h-5zm0 1h4v1h-4zM194 247h3v1h-3zm-1 1h4v1h-4zm0 1h5v1h-5zm0 1h4v1h-4zM194 242h3v1h-3zm-1 1h4v1h-4zm0 1h5v1h-5zm0 1h4v1h-4zM194 238h3v1h-3zm-1 1h4v1h-4zm0 1h5v1h-5zm0 1h4v1h-4zM194 233h3v1h-3zm-1 1h4v1h-4zm0 1h5v1h-5zm0 1h4v1h-4zM194 155h3v1h-3zm-1 1h4v1h-4zm0 1h5v1h-5zm0 1h4v1h-4zM194 150h3v1h-3zm-1 1h4v1h-4zm0 1h5v1h-5zm0 1h4v1h-4zM194 145h3v1h-3zm-1 1h4v1h-4zm0 1h5v1h-5zm0 1h4v1h-4zM210 345h3v1h-3zm-1 1h4v1h-4zm0 1h5v1h-5zm0 1h4v1h-4zM210 340h3v1h-3zm-1 1h4v1h-4zm0 1h5v1h-5zm0 1h4v1h-4zM210 335h3v1h-3zm-1 1h4v1h-4zm0 1h5v1h-5zm0 1h4v1h-4zM210 330h3v1h-3zm-1 1h4v1h-4zm0 1h5v1h-5zm0 1h4v1h-4zM210 262h3v1h-3zm-1 1h4v1h-4zm0 1h5v1h-5zm0 1h4v1h-4zM210 257h3v1h-3zm-1 1h4v1h-4zm0 1h5v1h-5zm0 1h4v1h-4zM210 252h3v1h-3zm-1 1h4v1h-4zm0 1h5v1h-5zm0 1h4v1h-4zM210 247h3v1h-3zm-1 1h4v1h-4zm0 1h5v1h-5zm0 1h4v1h-4zM210 242h3v1h-3zm-1 1h4v1h-4zm0 1h5v1h-5zm0 1h4v1h-4zM210 170h3v1h-3zm-1 1h4v1h-4zm0 1h5v1h-5zm0 1h4v1h-4zM210 165h3v1h-3zm-1 1h4v1h-4zm0 1h5v1h-5zm0 1h4v1h-4zM210 160h3v1h-3zm-1 1h4v1h-4zm0 1h5v1h-5zm0 1h4v1h-4zM210 155h3v1h-3zm-1 1h4v1h-4zm0 1h5v1h-5zm0 1h4v1h-4zM227 354h3v1h-3zm-1 1h4v1h-4zm0 1h5v1h-5zm0 1h4v1h-4zM227 349h3v1h-3zm-1 1h4v1h-4zm0 1h5v1h-5zm0 1h4v1h-4zM227 345h3v1h-3zm-1 1h4v1h-4zm0 1h5v1h-5zm0 1h4v1h-4zM227 272h3v1h-3zm-1 1h4v1h-4zm0 1h5v1h-5zm0 1h4v1h-4zM227 267h3v1h-3zm-1 1h4v1h-4zm0 1h5v1h-5zm0 1h4v1h-4zM227 262h3v1h-3zm-1 1h4v1h-4zm0 1h5v1h-5zm0 1h4v1h-4zM227 257h3v1h-3zm-1 1h4v1h-4zm0 1h5v1h-5zm0 1h4v1h-4zM227 184h3v1h-3zm-1 1h4v1h-4zm0 1h5v1h-5zm0 1h4v1h-4zM227 179h3v1h-3zm-1 1h4v1h-4zm0 1h5v1h-5zm0 1h4v1h-4zM227 174h3v1h-3zm-1 1h4v1h-4zm0 1h5v1h-5zm0 1h4v1h-4zM227 170h3v1h-3zm-1 1h4v1h-4zm0 1h5v1h-5zm0 1h4v1h-4zM227 165h3v1h-3zm-1 1h4v1h-4zm0 1h5v1h-5zm0 1h4v1h-4zM244 364h3v1h-3zm-1 1h4v1h-4zm0 1h5v1h-5zm0 1h4v1h-4zM244 359h3v1h-3zm-1 1h4v1h-4zm0 1h5v1h-5zm0 1h4v1h-4zM244 306h3v1h-3zm-1 1h4v1h-4zm0 1h5v1h-5zm0 1h4v1h-4zM244 286h3v1h-3zm-1 1h4v1h-4zm0 1h5v1h-5zm0 1h4v1h-4zM244 281h3v1h-3zm-1 1h4v1h-4zm0 1h5v1h-5zm0 1h4v1h-4zM244 276h3v1h-3zm-1 1h4v1h-4zm0 1h5v1h-5zm0 1h4v1h-4zM244 272h3v1h-3zm-1 1h4v1h-4zm0 1h5v1h-5zm0 1h4v1h-4zM244 194h3v1h-3zm-1 1h4v1h-4zm0 1h5v1h-5zm0 1h4v1h-4zM244 189h3v1h-3zm-1 1h4v1h-4zm0 1h5v1h-5zm0 1h4v1h-4zM244 184h3v1h-3zm-1 1h4v1h-4zm0 1h5v1h-5zm0 1h4v1h-4zM244 179h3v1h-3zm-1 1h4v1h-4zm0 1h5v1h-5zm0 1h4v1h-4zM244 174h3v1h-3zm-1 1h4v1h-4zm0 1h5v1h-5zm0 1h4v1h-4zM244 170h3v1h-3zm-1 1h4v1h-4zm0 1h5v1h-5zm0 1h4v1h-4zM261 301h3v1h-3zm-1 1h4v1h-4zm0 1h5v1h-5zm0 1h4v1h-4zM261 296h3v1h-3zm-1 1h4v1h-4zm0 1h5v1h-5zm0 1h4v1h-4zM261 291h3v1h-3zm-1 1h4v1h-4zm0 1h5v1h-5zm0 1h4v1h-4zM261 286h3v1h-3zm-1 1h4v1h-4zm0 1h5v1h-5zm0 1h4v1h-4zM261 281h3v1h-3zm-1 1h4v1h-4zm0 1h5v1h-5zm0 1h4v1h-4zM261 208h3v1h-3zm-1 1h4v1h-4zm0 1h5v1h-5zm0 1h4v1h-4zM261 204h3v1h-3zm-1 1h4v1h-4zm0 1h5v1h-5zm0 1h4v1h-4zM261 199h3v1h-3zm-1 1h4v1h-4zm0 1h5v1h-5zm0 1h4v1h-4zM261 194h3v1h-3zm-1 1h4v1h-4zm0 1h5v1h-5zm0 1h4v1h-4zM261 189h3v1h-3zm-1 1h4v1h-4zm0 1h5v1h-5zm0 1h4v1h-4zM278 330h3v1h-3zm-1 1h4v1h-4zm0 1h5v1h-5zm0 1h4v1h-4zM278 310h3v1h-3zm-1 1h4v1h-4zm0 1h5v1h-5zm0 1h4v1h-4zM278 306h3v1h-3zm-1 1h4v1h-4zm0 1h5v1h-5zm0 1h4v1h-4zM278 301h3v1h-3zm-1 1h4v1h-4zm0 1h5v1h-5zm0 1h4v1h-4zM278 296h3v1h-3zm-1 1h4v1h-4zm0 1h5v1h-5zm0 1h4v1h-4zM278 223h3v1h-3zm-1 1h4v1h-4zm0 1h5v1h-5zm0 1h4v1h-4zM278 218h3v1h-3zm-1 1h4v1h-4zm0 1h5v1h-5zm0 1h4v1h-4zM278 213h3v1h-3zm-1 1h4v1h-4zm0 1h5v1h-5zm0 1h4v1h-4zM278 208h3v1h-3zm-1 1h4v1h-4zm0 1h5v1h-5zm0 1h4v1h-4zM278 204h3v1h-3zm-1 1h4v1h-4zm0 1h5v1h-5zm0 1h4v1h-4zM278 199h3v1h-3zm-1 1h4v1h-4zm0 1h5v1h-5zm0 1h4v1h-4zM294 325h3v1h-3zm-1 1h4v1h-4zm0 1h5v1h-5zm0 1h4v1h-4zM294 320h3v1h-3zm-1 1h4v1h-4zm0 1h5v1h-5zm0 1h4v1h-4zM294 315h3v1h-3zm-1 1h4v1h-4zm0 1h5v1h-5zm0 1h4v1h-4zM294 310h3v1h-3zm-1 1h4v1h-4zm0 1h5v1h-5zm0 1h4v1h-4zM294 306h3v1h-3zm-1 1h4v1h-4zm0 1h5v1h-5zm0 1h4v1h-4zM294 257h3v1h-3zm-1 1h4v1h-4zm0 1h5v1h-5zm0 1h4v1h-4zM294 238h3v1h-3zm-1 1h4v1h-4zm0 1h5v1h-5zm0 1h4v1h-4zM294 233h3v1h-3zm-1 1h4v1h-4zm0 1h5v1h-5zm0 1h4v1h-4zM294 228h3v1h-3zm-1 1h4v1h-4zm0 1h5v1h-5zm0 1h4v1h-4zM294 223h3v1h-3zm-1 1h4v1h-4zm0 1h5v1h-5zm0 1h4v1h-4zM294 218h3v1h-3zm-1 1h4v1h-4zm0 1h5v1h-5zm0 1h4v1h-4zM294 213h3v1h-3zm-1 1h4v1h-4zm0 1h5v1h-5zm0 1h4v1h-4zM294 140h3v1h-3zm-1 1h4v1h-4zm0 1h5v1h-5zm0 1h4v1h-4zM311 335h3v1h-3zm-1 1h4v1h-4zm0 1h5v1h-5zm0 1h4v1h-4zM311 330h3v1h-3zm-1 1h4v1h-4zm0 1h5v1h-5zm0 1h4v1h-4zM311 325h3v1h-3zm-1 1h4v1h-4zm0 1h5v1h-5zm0 1h4v1h-4zM311 320h3v1h-3zm-1 1h4v1h-4zm0 1h5v1h-5zm0 1h4v1h-4zM311 247h3v1h-3zm-1 1h4v1h-4zm0 1h5v1h-5zm0 1h4v1h-4zM311 242h3v1h-3zm-1 1h4v1h-4zm0 1h5v1h-5zm0 1h4v1h-4zM311 238h3v1h-3zm-1 1h4v1h-4zm0 1h5v1h-5zm0 1h4v1h-4zM311 233h3v1h-3zm-1 1h4v1h-4zm0 1h5v1h-5zm0 1h4v1h-4zM311 155h3v1h-3zm-1 1h4v1h-4zm0 1h5v1h-5zm0 1h4v1h-4zM311 150h3v1h-3zm-1 1h4v1h-4zm0 1h5v1h-5zm0 1h4v1h-4zM328 345h3v1h-3zm-1 1h4v1h-4zm0 1h5v1h-5zm0 1h4v1h-4zM328 340h3v1h-3zm-1 1h4v1h-4zm0 1h5v1h-5zm0 1h4v1h-4zM328 335h3v1h-3zm-1 1h4v1h-4zm0 1h5v1h-5zm0 1h4v1h-4zM328 281h3v1h-3zm-1 1h4v1h-4zm0 1h5v1h-5zm0 1h4v1h-4zM328 262h3v1h-3zm-1 1h4v1h-4zm0 1h5v1h-5zm0 1h4v1h-4zM328 257h3v1h-3zm-1 1h4v1h-4zm0 1h5v1h-5zm0 1h4v1h-4zM328 252h3v1h-3zm-1 1h4v1h-4zm0 1h5v1h-5zm0 1h4v1h-4zM328 247h3v1h-3zm-1 1h4v1h-4zm0 1h5v1h-5zm0 1h4v1h-4zM328 242h3v1h-3zm-1 1h4v1h-4zm0 1h5v1h-5zm0 1h4v1h-4zM328 170h3v1h-3zm-1 1h4v1h-4zm0 1h5v1h-5zm0 1h4v1h-4zM328 165h3v1h-3zm-1 1h4v1h-4zm0 1h5v1h-5zm0 1h4v1h-4zM328 160h3v1h-3zm-1 1h4v1h-4zm0 1h5v1h-5zm0 1h4v1h-4zM345 359h3v1h-3zm-1 1h4v1h-4zm0 1h5v1h-5zm0 1h4v1h-4zM345 354h3v1h-3zm-1 1h4v1h-4zm0 1h5v1h-5zm0 1h4v1h-4zM345 349h3v1h-3zm-1 1h4v1h-4zm0 1h5v1h-5zm0 1h4v1h-4zM345 345h3v1h-3zm-1 1h4v1h-4zm0 1h5v1h-5zm0 1h4v1h-4zM345 276h3v1h-3zm-1 1h4v1h-4zm0 1h5v1h-5zm0 1h4v1h-4zM345 272h3v1h-3zm-1 1h4v1h-4zm0 1h5v1h-5zm0 1h4v1h-4zM345 267h3v1h-3zm-1 1h4v1h-4zm0 1h5v1h-5zm0 1h4v1h-4zM345 262h3v1h-3zm-1 1h4v1h-4zm0 1h5v1h-5zm0 1h4v1h-4zM345 257h3v1h-3zm-1 1h4v1h-4zm0 1h5v1h-5zm0 1h4v1h-4zM345 184h3v1h-3zm-1 1h4v1h-4zm0 1h5v1h-5zm0 1h4v1h-4zM345 179h3v1h-3zm-1 1h4v1h-4zm0 1h5v1h-5zm0 1h4v1h-4zM345 174h3v1h-3zm-1 1h4v1h-4zm0 1h5v1h-5zm0 1h4v1h-4zM345 170h3v1h-3zm-1 1h4v1h-4zm0 1h5v1h-5zm0 1h4v1h-4zM361 369h3v1h-3zm-1 1h4v1h-4zm0 1h5v1h-5zm0 1h4v1h-4zM361 364h3v1h-3zm-1 1h4v1h-4zm0 1h5v1h-5zm0 1h4v1h-4zM361 359h3v1h-3zm-1 1h4v1h-4zm0 1h5v1h-5zm0 1h4v1h-4zM361 286h3v1h-3zm-1 1h4v1h-4zm0 1h5v1h-5zm0 1h4v1h-4zM361 281h3v1h-3zm-1 1h4v1h-4zm0 1h5v1h-5zm0 1h4v1h-4zM361 276h3v1h-3zm-1 1h4v1h-4zm0 1h5v1h-5zm0 1h4v1h-4zM361 272h3v1h-3zm-1 1h4v1h-4zm0 1h5v1h-5zm0 1h4v1h-4zM361 267h3v1h-3zm-1 1h4v1h-4zm0 1h5v1h-5zm0 1h4v1h-4zM361 199h3v1h-3zm-1 1h4v1h-4zm0 1h5v1h-5zm0 1h4v1h-4zM361 194h3v1h-3zm-1 1h4v1h-4zm0 1h5v1h-5zm0 1h4v1h-4zM361 189h3v1h-3zm-1 1h4v1h-4zm0 1h5v1h-5zm0 1h4v1h-4zM361 184h3v1h-3zm-1 1h4v1h-4zm0 1h5v1h-5zm0 1h4v1h-4zM361 179h3v1h-3zm-1 1h4v1h-4zm0 1h5v1h-5zm0 1h4v1h-4zM378 379h3v1h-3zm-1 1h4v1h-4zm0 1h5v1h-5zm0 1h4v1h-4zM378 301h3v1h-3zm-1 1h4v1h-4zm0 1h5v1h-5zm0 1h4v1h-4zM378 296h3v1h-3zm-1 1h4v1h-4zm0 1h5v1h-5zm0 1h4v1h-4zM378 291h3v1h-3zm-1 1h4v1h-4zm0 1h5v1h-5zm0 1h4v1h-4zM378 286h3v1h-3zm-1 1h4v1h-4zm0 1h5v1h-5zm0 1h4v1h-4zM378 281h3v1h-3zm-1 1h4v1h-4zm0 1h5v1h-5zm0 1h4v1h-4zM378 213h3v1h-3zm-1 1h4v1h-4zm0 1h5v1h-5zm0 1h4v1h-4zM378 208h3v1h-3zm-1 1h4v1h-4zm0 1h5v1h-5zm0 1h4v1h-4zM378 204h3v1h-3zm-1 1h4v1h-4zm0 1h5v1h-5zm0 1h4v1h-4zM378 199h3v1h-3zm-1 1h4v1h-4zm0 1h5v1h-5zm0 1h4v1h-4zM378 194h3v1h-3zm-1 1h4v1h-4zm0 1h5v1h-5zm0 1h4v1h-4zM378 189h3v1h-3zm-1 1h4v1h-4zm0 1h5v1h-5zm0 1h4v1h-4zM395 315h3v1h-3zm-1 1h4v1h-4zm0 1h5v1h-5zm0 1h4v1h-4zM395 310h3v1h-3zm-1 1h4v1h-4zm0 1h5v1h-5zm0 1h4v1h-4zM395 306h3v1h-3zm-1 1h4v1h-4zm0 1h5v1h-5zm0 1h4v1h-4zM395 301h3v1h-3zm-1 1h4v1h-4zm0 1h5v1h-5zm0 1h4v1h-4zM395 296h3v1h-3zm-1 1h4v1h-4zm0 1h5v1h-5zm0 1h4v1h-4zM395 291h3v1h-3zm-1 1h4v1h-4zm0 1h5v1h-5zm0 1h4v1h-4zM395 223h3v1h-3zm-1 1h4v1h-4zm0 1h5v1h-5zm0 1h4v1h-4zM395 218h3v1h-3zm-1 1h4v1h-4zm0 1h5v1h-5zm0 1h4v1h-4zM395 213h3v1h-3zm-1 1h4v1h-4zm0 1h5v1h-5zm0 1h4v1h-4zM395 208h3v1h-3zm-1 1h4v1h-4zm0 1h5v1h-5zm0 1h4v1h-4zM395 204h3v1h-3zm-1 1h4v1h-4zm0 1h5v1h-5zm0 1h4v1h-4zM395 199h3v1h-3zm-1 1h4v1h-4zm0 1h5v1h-5zm0 1h4v1h-4zM412 325h3v1h-3zm-1 1h4v1h-4zm0 1h5v1h-5zm0 1h4v1h-4zM412 320h3v1h-3zm-1 1h4v1h-4zm0 1h5v1h-5zm0 1h4v1h-4zM412 315h3v1h-3zm-1 1h4v1h-4zm0 1h5v1h-5zm0 1h4v1h-4zM412 310h3v1h-3zm-1 1h4v1h-4zm0 1h5v1h-5zm0 1h4v1h-4zM412 306h3v1h-3zm-1 1h4v1h-4zm0 1h5v1h-5zm0 1h4v1h-4zM412 238h3v1h-3zm-1 1h4v1h-4zm0 1h5v1h-5zm0 1h4v1h-4zM412 233h3v1h-3zm-1 1h4v1h-4zm0 1h5v1h-5zm0 1h4v1h-4zM412 228h3v1h-3zm-1 1h4v1h-4zm0 1h5v1h-5zm0 1h4v1h-4zM412 223h3v1h-3zm-1 1h4v1h-4zm0 1h5v1h-5zm0 1h4v1h-4zM412 218h3v1h-3zm-1 1h4v1h-4zm0 1h5v1h-5zm0 1h4v1h-4zM412 213h3v1h-3zm-1 1h4v1h-4zm0 1h5v1h-5zm0 1h4v1h-4zM428 340h3v1h-3zm-1 1h4v1h-4zm0 1h5v1h-5zm0 1h4v1h-4zM428 335h3v1h-3zm-1 1h4v1h-4zm0 1h5v1h-5zm0 1h4v1h-4zM428 330h3v1h-3zm-1 1h4v1h-4zm0 1h5v1h-5zm0 1h4v1h-4zM428 325h3v1h-3zm-1 1h4v1h-4zm0 1h5v1h-5zm0 1h4v1h-4zM428 320h3v1h-3zm-1 1h4v1h-4zm0 1h5v1h-5zm0 1h4v1h-4zM428 272h3v1h-3zm-1 1h4v1h-4zm0 1h5v1h-5zm0 1h4v1h-4zM428 252h3v1h-3zm-1 1h4v1h-4zm0 1h5v1h-5zm0 1h4v1h-4zM428 247h3v1h-3zm-1 1h4v1h-4zm0 1h5v1h-5zm0 1h4v1h-4zM428 242h3v1h-3zm-1 1h4v1h-4zm0 1h5v1h-5zm0 1h4v1h-4zM428 238h3v1h-3zm-1 1h4v1h-4zm0 1h5v1h-5zm0 1h4v1h-4zM428 233h3v1h-3zm-1 1h4v1h-4zm0 1h5v1h-5zm0 1h4v1h-4zM428 228h3v1h-3zm-1 1h4v1h-4zm0 1h5v1h-5zm0 1h4v1h-4zM428 223h3v1h-3zm-1 1h4v1h-4zm0 1h5v1h-5zm0 1h4v1h-4zM428 155h3v1h-3zm-1 1h4v1h-4zm0 1h5v1h-5zm0 1h4v1h-4zM445 349h3v1h-3zm-1 1h4v1h-4zm0 1h5v1h-5zm0 1h4v1h-4zM445 345h3v1h-3zm-1 1h4v1h-4zm0 1h5v1h-5zm0 1h4v1h-4zM445 340h3v1h-3zm-1 1h4v1h-4zm0 1h5v1h-5zm0 1h4v1h-4zM445 335h3v1h-3zm-1 1h4v1h-4zm0 1h5v1h-5zm0 1h4v1h-4zM445 262h3v1h-3zm-1 1h4v1h-4zm0 1h5v1h-5zm0 1h4v1h-4zM445 257h3v1h-3zm-1 1h4v1h-4zm0 1h5v1h-5zm0 1h4v1h-4zM445 252h3v1h-3zm-1 1h4v1h-4zm0 1h5v1h-5zm0 1h4v1h-4zM445 247h3v1h-3zm-1 1h4v1h-4zm0 1h5v1h-5zm0 1h4v1h-4zM445 242h3v1h-3zm-1 1h4v1h-4zm0 1h5v1h-5zm0 1h4v1h-4zM445 238h3v1h-3zm-1 1h4v1h-4zm0 1h5v1h-5zm0 1h4v1h-4zM445 170h3v1h-3zm-1 1h4v1h-4zm0 1h5v1h-5zm0 1h4v1h-4zM445 165h3v1h-3zm-1 1h4v1h-4zm0 1h5v1h-5zm0 1h4v1h-4zM445 160h3v1h-3zm-1 1h4v1h-4zm0 1h5v1h-5zm0 1h4v1h-4zM462 359h3v1h-3zm-1 1h4v1h-4zm0 1h5v1h-5zm0 1h4v1h-4zM462 354h3v1h-3zm-1 1h4v1h-4zm0 1h5v1h-5zm0 1h4v1h-4zM462 349h3v1h-3zm-1 1h4v1h-4zm0 1h5v1h-5zm0 1h4v1h-4zM462 296h3v1h-3zm-1 1h4v1h-4zm0 1h5v1h-5zm0 1h4v1h-4zM462 276h3v1h-3zm-1 1h4v1h-4zm0 1h5v1h-5zm0 1h4v1h-4zM462 272h3v1h-3zm-1 1h4v1h-4zm0 1h5v1h-5zm0 1h4v1h-4zM462 267h3v1h-3zm-1 1h4v1h-4zm0 1h5v1h-5zm0 1h4v1h-4zM462 262h3v1h-3zm-1 1h4v1h-4zm0 1h5v1h-5zm0 1h4v1h-4zM462 257h3v1h-3zm-1 1h4v1h-4zm0 1h5v1h-5zm0 1h4v1h-4zM462 252h3v1h-3zm-1 1h4v1h-4zm0 1h5v1h-5zm0 1h4v1h-4zM462 184h3v1h-3zm-1 1h4v1h-4zm0 1h5v1h-5zm0 1h4v1h-4zM462 179h3v1h-3zm-1 1h4v1h-4zm0 1h5v1h-5zm0 1h4v1h-4zM462 174h3v1h-3zm-1 1h4v1h-4zm0 1h5v1h-5zm0 1h4v1h-4zM462 170h3v1h-3zm-1 1h4v1h-4zm0 1h5v1h-5zm0 1h4v1h-4zM479 374h3v1h-3zm-1 1h4v1h-4zm0 1h5v1h-5zm0 1h4v1h-4zM479 369h3v1h-3zm-1 1h4v1h-4zm0 1h5v1h-5zm0 1h4v1h-4zM479 364h3v1h-3zm-1 1h4v1h-4zm0 1h5v1h-5zm0 1h4v1h-4zM479 291h3v1h-3zm-1 1h4v1h-4zm0 1h5v1h-5zm0 1h4v1h-4zM479 286h3v1h-3zm-1 1h4v1h-4zm0 1h5v1h-5zm0 1h4v1h-4zM479 281h3v1h-3zm-1 1h4v1h-4zm0 1h5v1h-5zm0 1h4v1h-4zM479 276h3v1h-3zm-1 1h4v1h-4zm0 1h5v1h-5zm0 1h4v1h-4zM479 272h3v1h-3zm-1 1h4v1h-4zm0 1h5v1h-5zm0 1h4v1h-4zM479 267h3v1h-3zm-1 1h4v1h-4zm0 1h5v1h-5zm0 1h4v1h-4zM479 262h3v1h-3zm-1 1h4v1h-4zm0 1h5v1h-5zm0 1h4v1h-4zM479 199h3v1h-3zm-1 1h4v1h-4zm0 1h5v1h-5zm0 1h4v1h-4zM479 194h3v1h-3zm-1 1h4v1h-4zm0 1h5v1h-5zm0 1h4v1h-4zM479 189h3v1h-3zm-1 1h4v1h-4zm0 1h5v1h-5zm0 1h4v1h-4zM479 184h3v1h-3zm-1 1h4v1h-4zm0 1h5v1h-5zm0 1h4v1h-4zM479 179h3v1h-3zm-1 1h4v1h-4zm0 1h5v1h-5zm0 1h4v1h-4zM496 383h3v1h-3zm-1 1h4v1h-4zm0 1h5v1h-5zm0 1h4v1h-4zM496 379h3v1h-3zm-1 1h4v1h-4zm0 1h5v1h-5zm0 1h4v1h-4zM496 301h3v1h-3zm-1 1h4v1h-4zm0 1h5v1h-5zm0 1h4v1h-4zM496 296h3v1h-3zm-1 1h4v1h-4zm0 1h5v1h-5zm0 1h4v1h-4zM496 291h3v1h-3zm-1 1h4v1h-4zm0 1h5v1h-5zm0 1h4v1h-4zM496 286h3v1h-3zm-1 1h4v1h-4zm0 1h5v1h-5zm0 1h4v1h-4zM496 281h3v1h-3zm-1 1h4v1h-4zm0 1h5v1h-5zm0 1h4v1h-4zM496 276h3v1h-3zm-1 1h4v1h-4zm0 1h5v1h-5zm0 1h4v1h-4zM496 213h3v1h-3zm-1 1h4v1h-4zm0 1h5v1h-5zm0 1h4v1h-4zM496 208h3v1h-3zm-1 1h4v1h-4zm0 1h5v1h-5zm0 1h4v1h-4zM496 204h3v1h-3zm-1 1h4v1h-4zm0 1h5v1h-5zm0 1h4v1h-4zM496 199h3v1h-3zm-1 1h4v1h-4zm0 1h5v1h-5zm0 1h4v1h-4zM496 194h3v1h-3zm-1 1h4v1h-4zm0 1h5v1h-5zm0 1h4v1h-4zM512 393h3v1h-3zm-1 1h4v1h-4zm0 1h5v1h-5zm0 1h4v1h-4zM512 315h3v1h-3zm-1 1h4v1h-4zm0 1h5v1h-5zm0 1h4v1h-4zM512 310h3v1h-3zm-1 1h4v1h-4zm0 1h5v1h-5zm0 1h4v1h-4zM512 306h3v1h-3zm-1 1h4v1h-4zm0 1h5v1h-5zm0 1h4v1h-4zM512 301h3v1h-3zm-1 1h4v1h-4zm0 1h5v1h-5zm0 1h4v1h-4zM512 296h3v1h-3zm-1 1h4v1h-4zm0 1h5v1h-5zm0 1h4v1h-4zM512 291h3v1h-3zm-1 1h4v1h-4zm0 1h5v1h-5zm0 1h4v1h-4zM512 228h3v1h-3zm-1 1h4v1h-4zm0 1h5v1h-5zm0 1h4v1h-4zM512 223h3v1h-3zm-1 1h4v1h-4zm0 1h5v1h-5zm0 1h4v1h-4zM512 218h3v1h-3zm-1 1h4v1h-4zm0 1h5v1h-5zm0 1h4v1h-4zM512 213h3v1h-3zm-1 1h4v1h-4zm0 1h5v1h-5zm0 1h4v1h-4zM512 208h3v1h-3zm-1 1h4v1h-4zm0 1h5v1h-5zm0 1h4v1h-4zM512 204h3v1h-3zm-1 1h4v1h-4zm0 1h5v1h-5zm0 1h4v1h-4zM529 330h3v1h-3zm-1 1h4v1h-4zm0 1h5v1h-5zm0 1h4v1h-4zM529 325h3v1h-3zm-1 1h4v1h-4zm0 1h5v1h-5zm0 1h4v1h-4zM529 320h3v1h-3zm-1 1h4v1h-4zm0 1h5v1h-5zm0 1h4v1h-4zM529 315h3v1h-3zm-1 1h4v1h-4zm0 1h5v1h-5zm0 1h4v1h-4zM529 310h3v1h-3zm-1 1h4v1h-4zm0 1h5v1h-5zm0 1h4v1h-4zM529 306h3v1h-3zm-1 1h4v1h-4zm0 1h5v1h-5zm0 1h4v1h-4zM529 238h3v1h-3zm-1 1h4v1h-4zm0 1h5v1h-5zm0 1h4v1h-4zM529 233h3v1h-3zm-1 1h4v1h-4zm0 1h5v1h-5zm0 1h4v1h-4zM529 228h3v1h-3zm-1 1h4v1h-4zm0 1h5v1h-5zm0 1h4v1h-4zM529 223h3v1h-3zm-1 1h4v1h-4zm0 1h5v1h-5zm0 1h4v1h-4zM529 218h3v1h-3zm-1 1h4v1h-4zm0 1h5v1h-5zm0 1h4v1h-4zM529 213h3v1h-3zm-1 1h4v1h-4zm0 1h5v1h-5zm0 1h4v1h-4zM546 340h3v1h-3zm-1 1h4v1h-4zm0 1h5v1h-5zm0 1h4v1h-4zM546 335h3v1h-3zm-1 1h4v1h-4zm0 1h5v1h-5zm0 1h4v1h-4zM546 330h3v1h-3zm-1 1h4v1h-4zm0 1h5v1h-5zm0 1h4v1h-4zM546 325h3v1h-3zm-1 1h4v1h-4zm0 1h5v1h-5zm0 1h4v1h-4zM546 320h3v1h-3zm-1 1h4v1h-4zm0 1h5v1h-5zm0 1h4v1h-4zM546 252h3v1h-3zm-1 1h4v1h-4zm0 1h5v1h-5zm0 1h4v1h-4zM546 247h3v1h-3zm-1 1h4v1h-4zm0 1h5v1h-5zm0 1h4v1h-4zM546 242h3v1h-3zm-1 1h4v1h-4zm0 1h5v1h-5zm0 1h4v1h-4zM546 238h3v1h-3zm-1 1h4v1h-4zm0 1h5v1h-5zm0 1h4v1h-4zM546 233h3v1h-3zm-1 1h4v1h-4zm0 1h5v1h-5zm0 1h4v1h-4zM546 228h3v1h-3zm-1 1h4v1h-4zm0 1h5v1h-5zm0 1h4v1h-4zM563 354h3v1h-3zm-1 1h4v1h-4zm0 1h5v1h-5zm0 1h4v1h-4zM563 349h3v1h-3zm-1 1h4v1h-4zm0 1h5v1h-5zm0 1h4v1h-4zM563 345h3v1h-3zm-1 1h4v1h-4zm0 1h5v1h-5zm0 1h4v1h-4zM563 340h3v1h-3zm-1 1h4v1h-4zm0 1h5v1h-5zm0 1h4v1h-4zM563 335h3v1h-3zm-1 1h4v1h-4zm0 1h5v1h-5zm0 1h4v1h-4zM563 286h3v1h-3zm-1 1h4v1h-4zm0 1h5v1h-5zm0 1h4v1h-4zM563 267h3v1h-3zm-1 1h4v1h-4zm0 1h5v1h-5zm0 1h4v1h-4zM563 262h3v1h-3zm-1 1h4v1h-4zm0 1h5v1h-5zm0 1h4v1h-4zM563 257h3v1h-3zm-1 1h4v1h-4zm0 1h5v1h-5zm0 1h4v1h-4zM563 252h3v1h-3zm-1 1h4v1h-4zm0 1h5v1h-5zm0 1h4v1h-4zM563 247h3v1h-3zm-1 1h4v1h-4zm0 1h5v1h-5zm0 1h4v1h-4zM563 242h3v1h-3zm-1 1h4v1h-4zm0 1h5v1h-5zm0 1h4v1h-4zM563 238h3v1h-3zm-1 1h4v1h-4zm0 1h5v1h-5zm0 1h4v1h-4zM563 174h3v1h-3zm-1 1h4v1h-4zm0 1h5v1h-5zm0 1h4v1h-4zM563 170h3v1h-3zm-1 1h4v1h-4zm0 1h5v1h-5zm0 1h4v1h-4zM563 165h3v1h-3zm-1 1h4v1h-4zm0 1h5v1h-5zm0 1h4v1h-4zM579 364h3v1h-3zm-1 1h4v1h-4zm0 1h5v1h-5zm0 1h4v1h-4zM579 359h3v1h-3zm-1 1h4v1h-4zm0 1h5v1h-5zm0 1h4v1h-4zM579 354h3v1h-3zm-1 1h4v1h-4zm0 1h5v1h-5zm0 1h4v1h-4zM579 349h3v1h-3zm-1 1h4v1h-4zm0 1h5v1h-5zm0 1h4v1h-4zM579 276h3v1h-3zm-1 1h4v1h-4zm0 1h5v1h-5zm0 1h4v1h-4zM579 272h3v1h-3zm-1 1h4v1h-4zm0 1h5v1h-5zm0 1h4v1h-4zM579 267h3v1h-3zm-1 1h4v1h-4zm0 1h5v1h-5zm0 1h4v1h-4zM579 262h3v1h-3zm-1 1h4v1h-4zm0 1h5v1h-5zm0 1h4v1h-4zM579 257h3v1h-3zm-1 1h4v1h-4zm0 1h5v1h-5zm0 1h4v1h-4zM579 189h3v1h-3zm-1 1h4v1h-4zm0 1h5v1h-5zm0 1h4v1h-4zM579 184h3v1h-3zm-1 1h4v1h-4zm0 1h5v1h-5zm0 1h4v1h-4zM579 179h3v1h-3zm-1 1h4v1h-4zm0 1h5v1h-5zm0 1h4v1h-4zM579 174h3v1h-3zm-1 1h4v1h-4zm0 1h5v1h-5zm0 1h4v1h-4z" fill="#0000ff"/><path d="M72.5 232.5H82.5V247.5H72.5Z M89.5 249.5H99.5V264.5H89.5Z M106.5 267.5H116.5V276.5H106.5Z M122.5 167.5H132.5V181.5H122.5Z M122.5 281.5H132.5V291.5H122.5Z M139.5 177.5H149.5V201.5H139.5Z M139.5 298.5H149.5V301.5H139.5Z M156.5 194.5H166.5V215.5H156.5Z M173.5 211.5H183.5V232.5H173.5Z M189.5 230.5H199.5V247.5H189.5Z M206.5 249.5H216.5V264.5H206.5Z M223.5 264.5H233.5V278.5H223.5Z M240.5 172.5H250.5V177.5H240.5Z M240.5 281.5H250.5V291.5H240.5Z M256.5 179.5H266.5V198.5H256.5Z M256.5 298.5H266.5V303.5H256.5Z M273.5 194.5H283.5V215.5H273.5Z M273.5 315.5H283.5V315.5H273.5Z M290.5 208.5H300.5V232.5H290.5Z M307.5 228.5H317.5V247.5H307.5Z M324.5 247.5H334.5V264.5H324.5Z M340.5 264.5H350.5V278.5H340.5Z M357.5 281.5H367.5V292.5H357.5Z M374.5 184.5H384.5V196.5H374.5Z M374.5 298.5H384.5V305.5H374.5Z M391.5 194.5H401.5V215.5H391.5Z M391.5 315.5H401.5V318.5H391.5Z M407.5 208.5H417.5V232.5H407.5Z M424.5 223.5H434.5V247.5H424.5Z M441.5 247.5H451.5V264.5H441.5Z M458.5 264.5H468.5V278.5H458.5Z M475.5 281.5H485.5V293.5H475.5Z M491.5 189.5H501.5V189.5H491.5Z M491.5 298.5H501.5V308.5H491.5Z M508.5 196.5H518.5V213.5H508.5Z M508.5 313.5H518.5V320.5H508.5Z M525.5 208.5H535.5V232.5H525.5Z M525.5 332.5H535.5V332.5H525.5Z M542.5 225.5H552.5V247.5H542.5Z M558.5 242.5H568.5V264.5H558.5Z M575.5 262.5H584.5V279.5H575.5Z" fill="none" stroke="#000"/><rect x="132.5" y="62.5" width="5" height="5" fill="none" stroke="#606060"/><path d="M163 62h1v1h-1zm3 0h1v1h-1zm2 0h1v1h-1zm-4 1h4v1h-4zm-1 1h6v1h-6zm2 1h3v1h-3zm-1 1h1v1h-1zm2 0h2v1h-2zm-3 1h1v1h-1zm3 0h1v1h-1z" fill="#00e6e6"/><path d="M195 62h3v1h-3zm-1 1h5v1h-5zm0 1h5v1h-5zm0 1h5v1h-5zm1 1h3v1h-3z" fill="#0000ff"/><path d="M240.50 60.25 L241.49 63.55 L245.12 63.55 L242.81 66.32 L244.46 70.15 L240.50 67.51 L236.54 70.15 L238.19 66.32 L235.88 63.55 L239.51 63.55Z" fill="none" stroke="#ff00ff"/>
</svg>
</body></html>
